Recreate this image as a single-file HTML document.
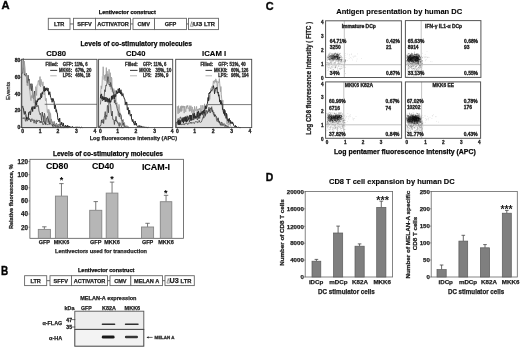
<!DOCTYPE html>
<html><head><meta charset="utf-8"><style>
html,body{margin:0;padding:0;background:#fff;width:520px;height:347px;overflow:hidden}
svg{display:block;filter:blur(0.35px)}
text{font-family:"Liberation Sans",sans-serif}
.d rect{width:.8px;height:.8px}
</style></head><body>
<svg width="520" height="347" viewBox="0 0 520 347" shape-rendering="auto">
<rect width="520" height="347" fill="#fff"/>
<defs><filter id="bl" x="-20%" y="-100%" width="140%" height="300%"><feGaussianBlur stdDeviation="0.6"/></filter><filter id="bl2" x="-20%" y="-100%" width="140%" height="300%"><feGaussianBlur stdDeviation="0.8"/></filter><filter id="bl3" x="-50%" y="-100%" width="200%" height="300%"><feGaussianBlur stdDeviation="1.2"/></filter></defs>
<text x="1.60" y="9.30" font-size="11.5" font-weight="bold" textLength="8.10" lengthAdjust="spacingAndGlyphs" stroke="#111" stroke-width="0.4">A</text>
<text x="0.90" y="274.60" font-size="12" font-weight="bold" textLength="7.20" lengthAdjust="spacingAndGlyphs" stroke="#111" stroke-width="0.4">B</text>
<text x="265.80" y="9.50" font-size="11" font-weight="bold" textLength="7.90" lengthAdjust="spacingAndGlyphs" stroke="#111" stroke-width="0.4">C</text>
<text x="265.80" y="180.90" font-size="11.3" font-weight="bold" textLength="7.50" lengthAdjust="spacingAndGlyphs" stroke="#111" stroke-width="0.4">D</text>
<text x="98.80" y="13.60" font-size="5.6" font-weight="bold" textLength="57.00" lengthAdjust="spacingAndGlyphs" stroke="#111" stroke-width="0.25">Lentivector construct</text>
<rect x="48.30" y="18.30" width="21.70" height="11.30" fill="#fff" stroke="#666" stroke-width="0.9"/>
<rect x="73.50" y="18.30" width="22.00" height="11.30" fill="#fff" stroke="#666" stroke-width="0.9"/>
<rect x="95.50" y="18.30" width="35.00" height="11.30" fill="#fff" stroke="#666" stroke-width="0.9"/>
<rect x="133.00" y="18.30" width="21.50" height="11.30" fill="#fff" stroke="#666" stroke-width="0.9"/>
<rect x="154.50" y="18.30" width="32.00" height="11.30" fill="#fff" stroke="#666" stroke-width="0.9"/>
<rect x="188.50" y="18.30" width="30.00" height="11.30" fill="#fff" stroke="#666" stroke-width="0.9"/>
<line x1="70.00" y1="23.95" x2="73.50" y2="23.95" stroke="#555" stroke-width="0.9"/>
<line x1="130.50" y1="23.95" x2="133.00" y2="23.95" stroke="#555" stroke-width="0.9"/>
<line x1="186.50" y1="23.95" x2="188.50" y2="23.95" stroke="#555" stroke-width="0.9"/>
<text x="59.15" y="26.10" font-size="5.6" font-weight="bold" text-anchor="middle" fill="#222" stroke="#222" stroke-width="0.25">LTR</text>
<text x="84.50" y="26.10" font-size="5.6" font-weight="bold" text-anchor="middle" fill="#222" stroke="#222" stroke-width="0.25">SFFV</text>
<text x="113.00" y="26.10" font-size="5.6" font-weight="bold" text-anchor="middle" fill="#222" stroke="#222" stroke-width="0.25">ACTIVATOR</text>
<text x="143.75" y="26.10" font-size="5.6" font-weight="bold" text-anchor="middle" fill="#222" stroke="#222" stroke-width="0.25">CMV</text>
<text x="170.50" y="26.10" font-size="5.6" font-weight="bold" text-anchor="middle" fill="#222" stroke="#222" stroke-width="0.25">GFP</text>
<path d="M190.40,26.30 L191.75,21.70 L193.10,26.30 Z" fill="none" stroke="#444" stroke-width="0.5"/>
<text x="193.00" y="26.30" font-size="5.9" font-weight="bold" textLength="9.20" lengthAdjust="spacingAndGlyphs" fill="#222" stroke="#222" stroke-width="0.25">U3</text>
<text x="204.10" y="26.10" font-size="5.6" font-weight="bold" textLength="10.80" lengthAdjust="spacingAndGlyphs" fill="#222" stroke="#222" stroke-width="0.25">LTR</text>
<text x="80.50" y="46.40" font-size="6.7" font-weight="bold" textLength="111.50" lengthAdjust="spacingAndGlyphs" stroke="#111" stroke-width="0.25">Levels of co-stimulatory molecules</text>
<text x="46.30" y="55.70" font-size="7.5" font-weight="bold" textLength="19.70" lengthAdjust="spacingAndGlyphs" stroke="#111" stroke-width="0.12">CD80</text>
<text x="126.00" y="55.70" font-size="7.5" font-weight="bold" textLength="19.40" lengthAdjust="spacingAndGlyphs" stroke="#111" stroke-width="0.12">CD40</text>
<text x="202.10" y="55.70" font-size="7.5" font-weight="bold" textLength="24.10" lengthAdjust="spacingAndGlyphs" stroke="#111" stroke-width="0.12">ICAM I</text>
<path d="M22.70,62.77 L23.10,59.19 L23.50,67.46 L23.89,68.22 L24.29,61.10 L24.69,65.05 L25.09,68.15 L25.48,75.22 L25.88,73.44 L26.28,75.64 L26.68,77.86 L27.07,85.38 L27.47,83.57 L27.87,85.92 L28.27,83.12 L28.66,80.70 L29.06,82.54 L29.46,89.21 L29.86,91.77 L30.26,95.37 L30.65,99.72 L31.05,100.73 L31.45,95.47 L31.85,98.05 L32.24,97.84 L32.64,91.59 L33.04,97.12 L33.44,97.26 L33.83,101.16 L34.23,103.15 L34.63,98.24 L35.03,99.91 L35.42,94.04 L35.82,86.62 L36.22,90.11 L36.62,95.52 L37.02,84.74 L37.41,84.81 L37.81,84.42 L38.21,80.88 L38.61,81.58 L39.00,80.06 L39.40,85.54 L39.80,76.76 L40.20,76.65 L40.59,87.02 L40.99,79.30 L41.39,80.56 L41.79,84.70 L42.18,84.52 L42.58,85.80 L42.98,81.81 L43.38,89.34 L43.78,86.75 L44.17,95.00 L44.57,89.92 L44.97,91.91 L45.37,100.01 L45.76,100.79 L46.16,98.27 L46.56,102.57 L46.96,107.35 L47.35,112.50 L47.75,112.72 L48.15,109.29 L48.55,118.05 L48.94,109.64 L49.34,119.34 L49.74,111.81 L50.14,121.00 L50.54,113.41 L50.93,117.89 L51.33,121.71 L51.73,122.47 L52.13,121.45 L52.52,122.55 L52.92,125.47 L53.32,126.56 L53.72,124.42 L54.11,121.94 L54.51,124.51 L54.91,127.60 L55.31,124.47 L55.70,125.18 L56.10,124.74 L56.50,127.60 L56.90,125.92 L57.30,127.60 L57.69,126.69 L58.09,127.60 L58.49,127.60 L58.49,127.60 L21.80,127.60 L21.80,62.77 Z" fill="#ebebeb" stroke="none"/>
<path d="M22.70,73.18 L23.24,58.52 L23.78,62.10 L24.33,75.12 L24.87,73.97 L25.41,76.19 L25.95,74.40 L26.50,73.37 L27.04,82.11 L27.58,83.46 L28.12,75.15 L28.66,81.35 L29.21,78.95 L29.75,89.34 L30.29,85.53 L30.83,83.64 L31.38,90.78 L31.92,83.72 L32.46,85.65 L33.00,97.38 L33.55,98.95 L34.09,94.40 L34.63,90.99 L35.17,98.80 L35.71,101.99 L36.26,100.98 L36.80,107.06 L37.34,106.26 L37.88,105.19 L38.43,106.16 L38.97,110.99 L39.51,112.76 L40.05,114.64 L40.59,113.33 L41.14,116.37 L41.68,120.57 L42.22,112.03 L42.76,116.27 L43.31,115.95 L43.85,122.01 L44.39,113.24 L44.93,115.49 L45.47,124.52 L46.02,122.39 L46.56,118.18 L47.10,118.66 L47.64,116.37 L48.19,122.67 L48.73,118.31 L49.27,120.30 L49.81,124.36 L50.35,121.58 L50.90,118.88 L51.44,119.51 L51.98,122.94 L52.52,122.41 L53.07,127.37 L53.61,125.71 L54.15,121.51 L54.69,124.67 L55.24,126.55 L55.78,124.09 L56.32,123.29 L56.86,123.71 L57.40,125.68 L57.95,125.46 L58.49,125.26 L59.03,124.10 L59.57,125.50 L60.12,126.21 L60.66,125.91 L61.20,127.60 L61.74,127.60 L62.28,125.56 L62.83,124.82 L63.37,126.25 L63.91,126.97 L64.45,127.60 L65.00,126.87 L65.54,125.85 L66.08,126.46 L66.62,127.05 L67.16,126.54 L67.71,127.60 L68.25,127.35 L68.79,126.82 L69.33,127.45 L69.33,127.60 L21.80,127.60 L21.80,73.18 Z" fill="#dfdfdf" stroke="#3a3a3a" stroke-width="0.75"/>
<path d="M22.70,62.77 L23.10,59.19 L23.50,67.46 L23.89,68.22 L24.29,61.10 L24.69,65.05 L25.09,68.15 L25.48,75.22 L25.88,73.44 L26.28,75.64 L26.68,77.86 L27.07,85.38 L27.47,83.57 L27.87,85.92 L28.27,83.12 L28.66,80.70 L29.06,82.54 L29.46,89.21 L29.86,91.77 L30.26,95.37 L30.65,99.72 L31.05,100.73 L31.45,95.47 L31.85,98.05 L32.24,97.84 L32.64,91.59 L33.04,97.12 L33.44,97.26 L33.83,101.16 L34.23,103.15 L34.63,98.24 L35.03,99.91 L35.42,94.04 L35.82,86.62 L36.22,90.11 L36.62,95.52 L37.02,84.74 L37.41,84.81 L37.81,84.42 L38.21,80.88 L38.61,81.58 L39.00,80.06 L39.40,85.54 L39.80,76.76 L40.20,76.65 L40.59,87.02 L40.99,79.30 L41.39,80.56 L41.79,84.70 L42.18,84.52 L42.58,85.80 L42.98,81.81 L43.38,89.34 L43.78,86.75 L44.17,95.00 L44.57,89.92 L44.97,91.91 L45.37,100.01 L45.76,100.79 L46.16,98.27 L46.56,102.57 L46.96,107.35 L47.35,112.50 L47.75,112.72 L48.15,109.29 L48.55,118.05 L48.94,109.64 L49.34,119.34 L49.74,111.81 L50.14,121.00 L50.54,113.41 L50.93,117.89 L51.33,121.71 L51.73,122.47 L52.13,121.45 L52.52,122.55 L52.92,125.47 L53.32,126.56 L53.72,124.42 L54.11,121.94 L54.51,124.51 L54.91,127.60 L55.31,124.47 L55.70,125.18 L56.10,124.74 L56.50,127.60 L56.90,125.92 L57.30,127.60 L57.69,126.69 L58.09,127.60 L58.49,127.60" fill="none" stroke="#9a9a9a" stroke-width="0.8"/>
<path d="M22.70,118.85 L23.24,117.56 L23.78,118.69 L24.33,117.77 L24.87,117.91 L25.41,120.98 L25.95,121.49 L26.50,117.56 L27.04,120.59 L27.58,120.84 L28.12,117.14 L28.66,119.91 L29.21,118.19 L29.75,120.13 L30.29,119.44 L30.83,122.02 L31.38,119.71 L31.92,118.66 L32.46,120.52 L33.00,119.55 L33.55,120.03 L34.09,123.21 L34.63,119.84 L35.17,120.81 L35.71,122.39 L36.26,123.88 L36.80,119.83 L37.34,121.90 L37.88,120.85 L38.43,120.25 L38.97,121.16 L39.51,120.38 L40.05,122.86 L40.59,121.23 L41.14,122.88 L41.68,120.98 L42.22,121.38 L42.76,124.61 L43.31,124.55 L43.85,124.34 L44.39,121.71 L44.93,123.76 L45.47,123.22 L46.02,124.45 L46.56,123.89 L47.10,124.40 L47.64,124.62 L48.19,124.03 L48.73,124.17 L49.27,123.41 L49.81,124.17 L50.35,123.67 L50.90,124.02 L51.44,123.85 L51.98,124.77 L52.52,126.05 L53.07,124.65 L53.61,124.60 L54.15,124.88 L54.69,125.67 L55.24,125.55 L55.78,126.53 L56.32,125.65 L56.86,126.19 L57.40,126.72 L57.95,127.11 L58.49,126.25 L59.03,126.24 L59.57,127.30 L60.12,126.66 L60.66,127.12 L61.20,127.42 L61.74,127.37 L62.28,127.10 L62.83,127.13 L63.37,127.60 L63.91,127.48" fill="none" stroke="#3a3a3a" stroke-width="0.7"/>
<path d="M22.70,105.89 L23.10,108.62 L23.50,108.50 L23.89,111.97 L24.29,114.40 L24.69,113.67 L25.09,111.31 L25.48,113.20 L25.88,114.55 L26.28,119.30 L26.68,116.95 L27.07,118.33 L27.47,118.66 L27.87,118.73 L28.27,117.64 L28.66,112.49 L29.06,112.75 L29.46,112.18 L29.86,111.50 L30.26,114.86 L30.65,113.36 L31.05,110.51 L31.45,109.09 L31.85,107.55 L32.24,106.66 L32.64,111.50 L33.04,107.56 L33.44,106.65 L33.83,107.30 L34.23,109.04 L34.63,106.57 L35.03,108.62 L35.42,102.42 L35.82,102.36 L36.22,103.96 L36.62,105.10 L37.02,100.46 L37.41,101.94 L37.81,99.09 L38.21,98.54 L38.61,100.04 L39.00,99.90 L39.40,97.88 L39.80,98.23 L40.20,99.26 L40.59,97.54 L40.99,93.40 L41.39,97.82 L41.79,97.06 L42.18,92.43 L42.58,93.94 L42.98,91.41 L43.38,91.02 L43.78,91.06 L44.17,86.33 L44.57,91.49 L44.97,89.80 L45.37,90.98 L45.76,87.87 L46.16,90.04 L46.56,89.92 L46.96,87.77 L47.35,91.11 L47.75,90.00 L48.15,88.21 L48.55,94.21 L48.94,95.09 L49.34,94.58 L49.74,91.71 L50.14,93.74 L50.54,97.30 L50.93,97.70 L51.33,99.72 L51.73,98.66 L52.13,102.28 L52.52,98.72 L52.92,98.22 L53.32,98.89 L53.72,101.57 L54.11,101.26 L54.51,108.77 L54.91,108.18 L55.31,105.11 L55.70,107.87 L56.10,111.80 L56.50,109.70 L56.90,113.12 L57.30,113.05 L57.69,117.82 L58.09,119.76 L58.49,119.11 L58.89,121.97 L59.28,121.12 L59.68,118.02 L60.08,122.98 L60.48,125.24 L60.87,125.24 L61.27,124.81 L61.67,122.12 L62.07,124.47 L62.46,125.09 L62.86,126.00 L63.26,122.94 L63.66,125.15 L64.06,126.03 L64.45,126.62 L64.85,126.72 L65.25,126.47 L65.65,125.23 L66.04,126.66 L66.44,126.99 L66.84,126.03 L67.24,126.65 L67.63,125.19 L68.03,127.06 L68.43,126.37 L68.83,126.05 L69.23,126.78 L69.62,126.00 L70.02,126.82 L70.42,127.19 L70.82,126.98 L71.21,127.53 L71.61,127.02 L72.01,127.28 L72.41,126.48 L72.80,126.60 L73.20,127.05 L73.60,127.60 L74.00,127.40 L74.39,127.43 L74.79,127.50 L75.19,127.49 L75.59,126.86 L75.99,127.60 L76.38,127.60 L76.78,126.94 L77.18,127.30 L77.58,126.94 L77.97,127.48 L78.37,127.07 L78.77,127.31 L79.17,127.21 L79.56,127.28 L79.96,127.49 L80.36,127.60 L80.76,127.60 L81.15,127.27 L81.55,127.28 L81.95,127.29 L82.35,127.60" fill="none" stroke="#2a2a2a" stroke-width="1.0" stroke-linejoin="bevel"/>
<line x1="44.70" y1="104.30" x2="97.00" y2="104.30" stroke="#444" stroke-width="0.7"/>
<rect x="21.30" y="59.30" width="75.70" height="68.30" fill="none" stroke="#444" stroke-width="0.9"/>
<text x="45.60" y="66.20" font-size="4.5" font-weight="bold" textLength="12.40" lengthAdjust="spacingAndGlyphs" fill="#2a2a2a" stroke="#2a2a2a" stroke-width="0.30">Filled:</text>
<text x="62.80" y="66.20" font-size="4.5" font-weight="bold" textLength="10.30" lengthAdjust="spacingAndGlyphs" fill="#2a2a2a" stroke="#2a2a2a" stroke-width="0.30">GFP:</text>
<text x="74.60" y="66.20" font-size="4.5" font-weight="bold" textLength="13.00" lengthAdjust="spacingAndGlyphs" fill="#2a2a2a" stroke="#2a2a2a" stroke-width="0.30">11%, 6</text>
<line x1="50.20" y1="70.40" x2="57.20" y2="70.40" stroke="#222" stroke-width="0.9"/>
<text x="59.00" y="71.60" font-size="4.5" font-weight="bold" textLength="13.00" lengthAdjust="spacingAndGlyphs" fill="#2a2a2a" stroke="#2a2a2a" stroke-width="0.30">MKK6:</text>
<text x="75.20" y="71.60" font-size="4.5" font-weight="bold" textLength="16.20" lengthAdjust="spacingAndGlyphs" fill="#2a2a2a" stroke="#2a2a2a" stroke-width="0.30">67%, 20</text>
<line x1="50.20" y1="75.80" x2="56.70" y2="75.80" stroke="#aaa" stroke-width="0.9"/>
<text x="62.80" y="77.00" font-size="4.5" font-weight="bold" textLength="9.20" lengthAdjust="spacingAndGlyphs" fill="#2a2a2a" stroke="#2a2a2a" stroke-width="0.30">LPS:</text>
<text x="75.20" y="77.00" font-size="4.5" font-weight="bold" textLength="15.10" lengthAdjust="spacingAndGlyphs" fill="#2a2a2a" stroke="#2a2a2a" stroke-width="0.30">46%, 18</text>
<text x="22.70" y="132.60" font-size="5" font-weight="bold" text-anchor="middle" fill="#222" stroke="#222" stroke-width="0.30">0</text>
<line x1="22.70" y1="127.60" x2="22.70" y2="128.80" stroke="#444" stroke-width="0.6"/>
<text x="40.20" y="132.60" font-size="5" font-weight="bold" text-anchor="middle" fill="#222" stroke="#222" stroke-width="0.30">1</text>
<line x1="40.20" y1="127.60" x2="40.20" y2="128.80" stroke="#444" stroke-width="0.6"/>
<text x="58.00" y="132.60" font-size="5" font-weight="bold" text-anchor="middle" fill="#222" stroke="#222" stroke-width="0.30">2</text>
<line x1="58.00" y1="127.60" x2="58.00" y2="128.80" stroke="#444" stroke-width="0.6"/>
<text x="76.40" y="132.60" font-size="5" font-weight="bold" text-anchor="middle" fill="#222" stroke="#222" stroke-width="0.30">3</text>
<line x1="76.40" y1="127.60" x2="76.40" y2="128.80" stroke="#444" stroke-width="0.6"/>
<text x="95.00" y="132.60" font-size="5" font-weight="bold" text-anchor="middle" fill="#222" stroke="#222" stroke-width="0.30">4</text>
<line x1="95.00" y1="127.60" x2="95.00" y2="128.80" stroke="#444" stroke-width="0.6"/>
<path d="M100.40,98.63 L100.79,90.88 L101.19,85.77 L101.58,88.69 L101.98,85.70 L102.37,76.48 L102.77,75.79 L103.16,66.75 L103.56,73.36 L103.95,79.50 L104.35,78.74 L104.74,75.16 L105.14,80.92 L105.53,74.44 L105.93,77.74 L106.32,67.62 L106.72,81.52 L107.11,71.15 L107.51,83.50 L107.90,73.85 L108.30,78.39 L108.69,76.63 L109.09,69.29 L109.48,81.79 L109.88,83.37 L110.27,72.69 L110.67,81.03 L111.06,89.56 L111.46,77.17 L111.85,78.52 L112.25,91.85 L112.64,87.90 L113.04,93.12 L113.43,91.91 L113.83,88.73 L114.22,97.12 L114.62,90.54 L115.01,102.00 L115.41,102.03 L115.80,94.15 L116.20,102.26 L116.59,103.80 L116.99,102.60 L117.38,105.87 L117.78,108.74 L118.17,115.56 L118.57,106.54 L118.96,104.37 L119.36,105.71 L119.75,111.91 L120.15,118.03 L120.54,119.03 L120.93,115.20 L121.33,116.56 L121.72,126.12 L122.12,125.17 L122.51,123.78 L122.91,122.25 L123.30,119.35 L123.70,123.63 L124.09,127.60 L124.49,122.38 L124.88,125.72 L125.28,125.37 L125.67,127.32 L126.07,126.35 L126.46,126.74 L126.86,125.37 L127.25,127.60 L127.65,126.68 L128.04,127.60 L128.44,126.47 L128.83,127.60 L129.23,127.60 L129.62,127.60 L130.02,127.12 L130.41,127.60 L130.81,127.60 L130.81,127.60 L99.10,127.60 L99.10,98.63 Z" fill="#ebebeb" stroke="none"/>
<path d="M100.40,126.15 L100.94,124.42 L101.48,119.89 L102.02,123.03 L102.55,121.44 L103.09,119.28 L103.63,123.59 L104.17,118.10 L104.71,115.30 L105.25,111.63 L105.79,119.53 L106.32,115.24 L106.86,116.61 L107.40,105.49 L107.94,105.55 L108.48,112.78 L109.02,98.65 L109.55,98.21 L110.09,103.39 L110.63,104.91 L111.17,112.07 L111.71,115.99 L112.25,111.12 L112.79,119.42 L113.32,119.34 L113.86,120.16 L114.40,124.51 L114.94,119.95 L115.48,121.02 L116.02,116.38 L116.56,121.48 L117.09,120.86 L117.63,123.24 L118.17,122.60 L118.71,124.86 L119.25,126.44 L119.79,122.58 L120.32,123.47 L120.86,124.96 L121.40,126.10 L121.94,127.58 L122.48,127.60 L123.02,127.60 L123.56,127.60 L123.56,127.60 L99.10,127.60 L99.10,126.15 Z" fill="#dfdfdf" stroke="#3a3a3a" stroke-width="0.75"/>
<path d="M100.40,98.63 L100.79,90.88 L101.19,85.77 L101.58,88.69 L101.98,85.70 L102.37,76.48 L102.77,75.79 L103.16,66.75 L103.56,73.36 L103.95,79.50 L104.35,78.74 L104.74,75.16 L105.14,80.92 L105.53,74.44 L105.93,77.74 L106.32,67.62 L106.72,81.52 L107.11,71.15 L107.51,83.50 L107.90,73.85 L108.30,78.39 L108.69,76.63 L109.09,69.29 L109.48,81.79 L109.88,83.37 L110.27,72.69 L110.67,81.03 L111.06,89.56 L111.46,77.17 L111.85,78.52 L112.25,91.85 L112.64,87.90 L113.04,93.12 L113.43,91.91 L113.83,88.73 L114.22,97.12 L114.62,90.54 L115.01,102.00 L115.41,102.03 L115.80,94.15 L116.20,102.26 L116.59,103.80 L116.99,102.60 L117.38,105.87 L117.78,108.74 L118.17,115.56 L118.57,106.54 L118.96,104.37 L119.36,105.71 L119.75,111.91 L120.15,118.03 L120.54,119.03 L120.93,115.20 L121.33,116.56 L121.72,126.12 L122.12,125.17 L122.51,123.78 L122.91,122.25 L123.30,119.35 L123.70,123.63 L124.09,127.60 L124.49,122.38 L124.88,125.72 L125.28,125.37 L125.67,127.32 L126.07,126.35 L126.46,126.74 L126.86,125.37 L127.25,127.60 L127.65,126.68 L128.04,127.60 L128.44,126.47 L128.83,127.60 L129.23,127.60 L129.62,127.60 L130.02,127.12 L130.41,127.60 L130.81,127.60" fill="none" stroke="#9a9a9a" stroke-width="0.8"/>
<path d="M100.40,104.46 L100.94,99.88 L101.48,98.88 L102.02,96.49 L102.55,101.05 L103.09,99.66 L103.63,99.36 L104.17,97.03 L104.71,89.74 L105.25,91.78 L105.79,85.40 L106.32,86.05 L106.86,83.36 L107.40,80.20 L107.94,76.62 L108.48,79.30 L109.02,85.04 L109.55,83.94 L110.09,86.78 L110.63,82.46 L111.17,84.74 L111.71,86.79 L112.25,88.63 L112.79,91.33 L113.32,91.96 L113.86,95.78 L114.40,102.80 L114.94,99.92 L115.48,104.23 L116.02,103.23 L116.56,106.09 L117.09,108.48 L117.63,110.29 L118.17,110.99 L118.71,113.56 L119.25,116.97 L119.79,112.84 L120.32,114.61 L120.86,114.30 L121.40,118.03 L121.94,120.44 L122.48,119.92 L123.02,125.35 L123.56,122.95 L124.09,125.00 L124.63,126.62 L125.17,127.01 L125.71,126.76 L126.25,127.34 L126.79,127.12 L127.33,127.04 L127.86,127.43 L128.40,127.60 L128.94,127.57" fill="none" stroke="#3a3a3a" stroke-width="0.7"/>
<path d="M100.40,98.37 L100.79,94.74 L101.19,95.45 L101.58,93.88 L101.98,98.74 L102.37,99.21 L102.77,96.37 L103.16,97.22 L103.56,99.82 L103.95,97.48 L104.35,99.63 L104.74,97.29 L105.14,101.93 L105.53,101.44 L105.93,97.11 L106.32,100.87 L106.72,101.53 L107.11,97.88 L107.51,99.04 L107.90,102.27 L108.30,99.58 L108.69,98.82 L109.09,102.17 L109.48,98.87 L109.88,102.29 L110.27,100.73 L110.67,102.32 L111.06,101.38 L111.46,96.07 L111.85,99.80 L112.25,95.57 L112.64,98.78 L113.04,97.15 L113.43,94.88 L113.83,95.64 L114.22,99.01 L114.62,95.31 L115.01,94.36 L115.41,96.66 L115.80,96.50 L116.20,90.53 L116.59,92.25 L116.99,94.02 L117.38,91.92 L117.78,93.12 L118.17,88.86 L118.57,90.58 L118.96,93.05 L119.36,88.04 L119.75,92.72 L120.15,91.61 L120.54,93.92 L120.93,89.75 L121.33,94.57 L121.72,92.47 L122.12,96.11 L122.51,94.25 L122.91,93.61 L123.30,95.36 L123.70,96.93 L124.09,97.84 L124.49,99.27 L124.88,99.31 L125.28,103.78 L125.67,102.34 L126.07,105.05 L126.46,101.93 L126.86,102.54 L127.25,109.51 L127.65,110.10 L128.04,107.45 L128.44,109.44 L128.83,114.24 L129.23,110.66 L129.62,110.08 L130.02,114.60 L130.41,116.13 L130.81,115.56 L131.20,114.00 L131.60,119.46 L131.99,120.12 L132.39,121.63 L132.78,119.29 L133.18,120.97 L133.57,123.01 L133.97,122.69 L134.36,125.15 L134.76,123.90 L135.15,120.96 L135.55,123.41 L135.94,125.13 L136.34,123.13 L136.73,125.43 L137.13,126.00 L137.52,126.80 L137.92,126.67 L138.31,126.66 L138.71,126.66 L139.10,125.37 L139.50,126.73 L139.89,126.83 L140.28,126.24 L140.68,125.80 L141.07,126.96 L141.47,126.30 L141.86,127.00 L142.26,126.81 L142.65,126.86 L143.05,126.55 L143.44,126.89 L143.84,127.20 L144.23,126.89 L144.63,127.40 L145.02,127.41 L145.42,126.90 L145.81,127.32 L146.21,127.15 L146.60,127.58 L147.00,127.12 L147.39,127.40 L147.79,127.60 L148.18,127.23 L148.58,127.60" fill="none" stroke="#2a2a2a" stroke-width="1.0" stroke-linejoin="bevel"/>
<line x1="124.30" y1="104.60" x2="172.70" y2="104.60" stroke="#444" stroke-width="0.7"/>
<rect x="98.60" y="59.30" width="74.10" height="68.30" fill="none" stroke="#444" stroke-width="0.9"/>
<text x="125.00" y="66.20" font-size="4.5" font-weight="bold" textLength="12.70" lengthAdjust="spacingAndGlyphs" fill="#2a2a2a" stroke="#2a2a2a" stroke-width="0.30">Filled:</text>
<text x="143.00" y="66.20" font-size="4.5" font-weight="bold" textLength="9.00" lengthAdjust="spacingAndGlyphs" fill="#2a2a2a" stroke="#2a2a2a" stroke-width="0.30">GFP:</text>
<text x="153.50" y="66.20" font-size="4.5" font-weight="bold" textLength="12.80" lengthAdjust="spacingAndGlyphs" fill="#2a2a2a" stroke="#2a2a2a" stroke-width="0.30">11%, 6</text>
<line x1="130.00" y1="70.40" x2="137.50" y2="70.40" stroke="#222" stroke-width="0.9"/>
<text x="139.20" y="71.60" font-size="4.5" font-weight="bold" textLength="12.20" lengthAdjust="spacingAndGlyphs" fill="#2a2a2a" stroke="#2a2a2a" stroke-width="0.30">MKK6:</text>
<text x="155.60" y="71.60" font-size="4.5" font-weight="bold" textLength="15.70" lengthAdjust="spacingAndGlyphs" fill="#2a2a2a" stroke="#2a2a2a" stroke-width="0.30">35%, 10</text>
<line x1="130.00" y1="75.80" x2="137.00" y2="75.80" stroke="#aaa" stroke-width="0.9"/>
<text x="143.00" y="77.00" font-size="4.5" font-weight="bold" textLength="8.40" lengthAdjust="spacingAndGlyphs" fill="#2a2a2a" stroke="#2a2a2a" stroke-width="0.30">LPS:</text>
<text x="155.10" y="77.00" font-size="4.5" font-weight="bold" textLength="13.30" lengthAdjust="spacingAndGlyphs" fill="#2a2a2a" stroke="#2a2a2a" stroke-width="0.30">25%, 9</text>
<text x="100.40" y="132.60" font-size="5" font-weight="bold" text-anchor="middle" fill="#222" stroke="#222" stroke-width="0.30">0</text>
<line x1="100.40" y1="127.60" x2="100.40" y2="128.80" stroke="#444" stroke-width="0.6"/>
<text x="117.60" y="132.60" font-size="5" font-weight="bold" text-anchor="middle" fill="#222" stroke="#222" stroke-width="0.30">1</text>
<line x1="117.60" y1="127.60" x2="117.60" y2="128.80" stroke="#444" stroke-width="0.6"/>
<text x="136.00" y="132.60" font-size="5" font-weight="bold" text-anchor="middle" fill="#222" stroke="#222" stroke-width="0.30">2</text>
<line x1="136.00" y1="127.60" x2="136.00" y2="128.80" stroke="#444" stroke-width="0.6"/>
<text x="154.60" y="132.60" font-size="5" font-weight="bold" text-anchor="middle" fill="#222" stroke="#222" stroke-width="0.30">3</text>
<line x1="154.60" y1="127.60" x2="154.60" y2="128.80" stroke="#444" stroke-width="0.6"/>
<text x="172.20" y="132.60" font-size="5" font-weight="bold" text-anchor="middle" fill="#222" stroke="#222" stroke-width="0.30">4</text>
<line x1="172.20" y1="127.60" x2="172.20" y2="128.80" stroke="#444" stroke-width="0.6"/>
<path d="M177.40,106.14 L177.80,112.97 L178.20,113.91 L178.60,105.69 L179.00,112.49 L179.40,112.98 L179.80,108.49 L180.20,111.02 L180.59,106.42 L180.99,111.90 L181.39,105.76 L181.79,111.09 L182.19,108.70 L182.59,105.88 L182.99,107.92 L183.39,105.88 L183.79,107.65 L184.19,113.15 L184.59,106.12 L184.99,108.53 L185.39,110.84 L185.79,111.81 L186.18,106.24 L186.58,108.46 L186.98,105.52 L187.38,106.93 L187.78,105.40 L188.18,108.75 L188.58,107.68 L188.98,108.44 L189.38,111.44 L189.78,105.62 L190.18,111.06 L190.58,107.17 L190.98,105.75 L191.38,108.33 L191.77,112.64 L192.17,106.95 L192.57,108.31 L192.97,112.39 L193.37,113.57 L193.77,109.55 L194.17,113.78 L194.57,106.33 L194.97,109.88 L195.37,109.82 L195.77,110.72 L196.17,108.56 L196.57,106.38 L196.97,111.44 L197.37,110.84 L197.76,109.04 L198.16,111.38 L198.56,108.84 L198.96,109.23 L199.36,110.10 L199.76,108.05 L200.16,109.22 L200.56,112.86 L200.96,105.20 L201.36,110.53 L201.76,109.84 L202.16,110.04 L202.56,105.57 L202.96,105.19 L203.35,108.42 L203.75,108.89 L204.15,110.98 L204.55,103.82 L204.95,109.43 L205.35,105.82 L205.75,107.02 L206.15,106.73 L206.55,105.85 L206.95,106.13 L207.35,106.32 L207.75,101.03 L208.15,97.74 L208.55,97.88 L208.94,100.51 L209.34,95.22 L209.74,99.37 L210.14,95.13 L210.54,90.40 L210.94,88.39 L211.34,91.03 L211.74,86.56 L212.14,88.33 L212.54,87.00 L212.94,85.39 L213.34,80.87 L213.74,81.87 L214.14,83.41 L214.53,80.54 L214.93,80.50 L215.33,82.19 L215.73,78.85 L216.13,79.66 L216.53,82.54 L216.93,80.84 L217.33,89.70 L217.73,84.19 L218.13,81.58 L218.53,82.57 L218.93,82.51 L219.33,78.52 L219.73,83.26 L220.13,87.23 L220.52,91.72 L220.92,86.54 L221.32,94.28 L221.72,98.83 L222.12,100.59 L222.52,102.85 L222.92,100.17 L223.32,108.14 L223.72,109.55 L224.12,113.26 L224.52,112.35 L224.92,116.16 L225.32,116.49 L225.72,114.69 L226.11,114.57 L226.51,116.59 L226.91,123.92 L227.31,121.74 L227.71,118.44 L228.11,125.67 L228.51,124.76 L228.91,123.41 L229.31,124.48 L229.71,123.04 L230.11,123.79 L230.51,125.35 L230.91,126.49 L231.31,126.85 L231.70,127.08 L232.10,127.60 L232.50,126.81 L232.90,127.60 L233.30,127.02 L233.30,127.60 L176.20,127.60 L176.20,106.14 Z" fill="#ebebeb" stroke="none"/>
<path d="M177.40,122.30 L177.94,118.61 L178.49,118.81 L179.03,119.69 L179.58,121.29 L180.12,117.25 L180.67,116.98 L181.21,118.79 L181.76,118.68 L182.30,120.31 L182.84,121.71 L183.39,119.32 L183.93,117.97 L184.48,121.52 L185.02,116.74 L185.57,120.59 L186.11,120.67 L186.66,122.03 L187.20,115.71 L187.75,117.53 L188.29,116.70 L188.83,118.27 L189.38,122.00 L189.92,119.86 L190.47,118.56 L191.01,120.95 L191.56,115.17 L192.10,118.92 L192.65,120.19 L193.19,115.57 L193.74,120.05 L194.28,114.58 L194.82,117.68 L195.37,116.93 L195.91,118.25 L196.46,117.22 L197.00,119.13 L197.55,120.05 L198.09,114.41 L198.64,118.56 L199.18,114.82 L199.72,118.45 L200.27,113.15 L200.81,113.45 L201.36,114.18 L201.90,113.93 L202.45,114.95 L202.99,113.75 L203.54,117.62 L204.08,114.84 L204.63,111.99 L205.17,115.68 L205.71,110.33 L206.26,110.07 L206.80,112.77 L207.35,112.57 L207.89,111.63 L208.44,111.71 L208.98,107.26 L209.53,110.99 L210.07,113.04 L210.61,112.24 L211.16,107.68 L211.70,106.74 L212.25,110.97 L212.79,111.90 L213.34,112.40 L213.88,111.99 L214.43,116.48 L214.97,114.84 L215.52,116.15 L216.06,116.66 L216.60,120.58 L217.15,121.61 L217.69,121.11 L218.24,117.80 L218.78,122.27 L219.33,121.18 L219.87,123.52 L220.42,124.97 L220.96,125.36 L221.50,121.95 L222.05,122.56 L222.59,124.65 L223.14,123.75 L223.68,124.15 L224.23,123.81 L224.77,124.08 L225.32,125.95 L225.86,124.93 L226.40,125.45 L226.95,126.37 L227.49,126.12 L228.04,126.92 L228.58,127.24 L229.13,127.53 L229.67,127.17 L229.67,127.60 L176.20,127.60 L176.20,122.30 Z" fill="#dfdfdf" stroke="#3a3a3a" stroke-width="0.75"/>
<path d="M177.40,106.14 L177.80,112.97 L178.20,113.91 L178.60,105.69 L179.00,112.49 L179.40,112.98 L179.80,108.49 L180.20,111.02 L180.59,106.42 L180.99,111.90 L181.39,105.76 L181.79,111.09 L182.19,108.70 L182.59,105.88 L182.99,107.92 L183.39,105.88 L183.79,107.65 L184.19,113.15 L184.59,106.12 L184.99,108.53 L185.39,110.84 L185.79,111.81 L186.18,106.24 L186.58,108.46 L186.98,105.52 L187.38,106.93 L187.78,105.40 L188.18,108.75 L188.58,107.68 L188.98,108.44 L189.38,111.44 L189.78,105.62 L190.18,111.06 L190.58,107.17 L190.98,105.75 L191.38,108.33 L191.77,112.64 L192.17,106.95 L192.57,108.31 L192.97,112.39 L193.37,113.57 L193.77,109.55 L194.17,113.78 L194.57,106.33 L194.97,109.88 L195.37,109.82 L195.77,110.72 L196.17,108.56 L196.57,106.38 L196.97,111.44 L197.37,110.84 L197.76,109.04 L198.16,111.38 L198.56,108.84 L198.96,109.23 L199.36,110.10 L199.76,108.05 L200.16,109.22 L200.56,112.86 L200.96,105.20 L201.36,110.53 L201.76,109.84 L202.16,110.04 L202.56,105.57 L202.96,105.19 L203.35,108.42 L203.75,108.89 L204.15,110.98 L204.55,103.82 L204.95,109.43 L205.35,105.82 L205.75,107.02 L206.15,106.73 L206.55,105.85 L206.95,106.13 L207.35,106.32 L207.75,101.03 L208.15,97.74 L208.55,97.88 L208.94,100.51 L209.34,95.22 L209.74,99.37 L210.14,95.13 L210.54,90.40 L210.94,88.39 L211.34,91.03 L211.74,86.56 L212.14,88.33 L212.54,87.00 L212.94,85.39 L213.34,80.87 L213.74,81.87 L214.14,83.41 L214.53,80.54 L214.93,80.50 L215.33,82.19 L215.73,78.85 L216.13,79.66 L216.53,82.54 L216.93,80.84 L217.33,89.70 L217.73,84.19 L218.13,81.58 L218.53,82.57 L218.93,82.51 L219.33,78.52 L219.73,83.26 L220.13,87.23 L220.52,91.72 L220.92,86.54 L221.32,94.28 L221.72,98.83 L222.12,100.59 L222.52,102.85 L222.92,100.17 L223.32,108.14 L223.72,109.55 L224.12,113.26 L224.52,112.35 L224.92,116.16 L225.32,116.49 L225.72,114.69 L226.11,114.57 L226.51,116.59 L226.91,123.92 L227.31,121.74 L227.71,118.44 L228.11,125.67 L228.51,124.76 L228.91,123.41 L229.31,124.48 L229.71,123.04 L230.11,123.79 L230.51,125.35 L230.91,126.49 L231.31,126.85 L231.70,127.08 L232.10,127.60 L232.50,126.81 L232.90,127.60 L233.30,127.02" fill="none" stroke="#9a9a9a" stroke-width="0.8"/>
<path d="M177.40,123.39 L177.94,123.30 L178.49,123.37 L179.03,125.00 L179.58,123.91 L180.12,124.23 L180.67,123.97 L181.21,124.78 L181.76,124.62 L182.30,124.04 L182.84,124.50 L183.39,123.95 L183.93,124.87 L184.48,124.71 L185.02,123.27 L185.57,123.89 L186.11,123.64 L186.66,123.09 L187.20,123.93 L187.75,124.60 L188.29,122.85 L188.83,123.28 L189.38,123.07 L189.92,123.12 L190.47,122.16 L191.01,123.54 L191.56,122.40 L192.10,123.29 L192.65,122.62 L193.19,122.25 L193.74,123.10 L194.28,123.65 L194.82,122.39 L195.37,121.53 L195.91,121.78 L196.46,122.10 L197.00,121.35 L197.55,122.73 L198.09,122.64 L198.64,122.03 L199.18,120.25 L199.72,122.20 L200.27,122.35 L200.81,122.28 L201.36,121.98 L201.90,120.50 L202.45,118.82 L202.99,117.30 L203.54,118.26 L204.08,117.44 L204.63,117.02 L205.17,116.23 L205.71,113.81 L206.26,113.74 L206.80,113.87 L207.35,113.54 L207.89,110.43 L208.44,110.03 L208.98,109.30 L209.53,110.97 L210.07,109.62 L210.61,108.06 L211.16,108.84 L211.70,108.55 L212.25,112.06 L212.79,110.25 L213.34,114.23 L213.88,113.94 L214.43,116.22 L214.97,114.53 L215.52,115.90 L216.06,115.90 L216.60,117.42 L217.15,117.89 L217.69,120.08 L218.24,119.31 L218.78,120.86 L219.33,122.87 L219.87,121.95 L220.42,123.92 L220.96,124.63 L221.50,125.14 L222.05,124.70 L222.59,125.47 L223.14,124.60 L223.68,124.88 L224.23,126.11 L224.77,126.46 L225.32,126.23 L225.86,126.80 L226.40,126.73 L226.95,126.67 L227.49,127.17 L228.04,127.18 L228.58,127.06 L229.13,127.41 L229.67,127.58" fill="none" stroke="#3a3a3a" stroke-width="0.7"/>
<path d="M177.40,122.37 L177.80,121.51 L178.20,124.70 L178.60,120.15 L179.00,124.38 L179.40,121.49 L179.80,124.74 L180.20,120.53 L180.59,124.14 L180.99,120.40 L181.39,120.05 L181.79,119.59 L182.19,121.59 L182.59,118.55 L182.99,117.56 L183.39,123.24 L183.79,120.38 L184.19,117.25 L184.59,118.55 L184.99,120.36 L185.39,121.13 L185.79,116.61 L186.18,122.27 L186.58,117.57 L186.98,116.85 L187.38,121.28 L187.78,119.98 L188.18,119.95 L188.58,118.20 L188.98,119.21 L189.38,115.50 L189.78,115.13 L190.18,119.04 L190.58,114.99 L190.98,120.37 L191.38,120.03 L191.77,116.06 L192.17,115.01 L192.57,114.72 L192.97,113.41 L193.37,114.14 L193.77,117.97 L194.17,114.62 L194.57,113.25 L194.97,118.67 L195.37,115.83 L195.77,117.95 L196.17,117.87 L196.57,115.46 L196.97,114.03 L197.37,111.84 L197.76,117.33 L198.16,114.66 L198.56,111.19 L198.96,112.59 L199.36,113.99 L199.76,115.77 L200.16,113.00 L200.56,115.32 L200.96,112.59 L201.36,112.39 L201.76,113.96 L202.16,111.09 L202.56,113.55 L202.96,112.95 L203.35,110.35 L203.75,113.67 L204.15,113.19 L204.55,109.66 L204.95,109.67 L205.35,105.80 L205.75,109.07 L206.15,107.33 L206.55,108.34 L206.95,104.17 L207.35,103.56 L207.75,101.10 L208.15,97.45 L208.55,100.79 L208.94,93.19 L209.34,93.92 L209.74,92.12 L210.14,92.81 L210.54,91.42 L210.94,91.41 L211.34,90.72 L211.74,91.16 L212.14,89.87 L212.54,89.19 L212.94,88.71 L213.34,85.61 L213.74,87.08 L214.14,88.88 L214.53,93.80 L214.93,91.84 L215.33,89.40 L215.73,87.85 L216.13,89.12 L216.53,87.64 L216.93,87.10 L217.33,92.67 L217.73,93.20 L218.13,91.95 L218.53,96.16 L218.93,94.69 L219.33,98.10 L219.73,101.86 L220.13,100.12 L220.52,103.99 L220.92,100.42 L221.32,101.30 L221.72,104.71 L222.12,103.52 L222.52,109.41 L222.92,109.01 L223.32,111.74 L223.72,113.52 L224.12,109.23 L224.52,115.34 L224.92,110.34 L225.32,113.61 L225.72,113.35 L226.11,118.43 L226.51,113.38 L226.91,114.85 L227.31,120.19 L227.71,120.23 L228.11,121.08 L228.51,119.21 L228.91,122.63 L229.31,118.37 L229.71,120.96 L230.11,120.02 L230.51,123.43 L230.91,121.40 L231.31,123.03 L231.70,122.49 L232.10,124.05 L232.50,121.92 L232.90,123.03 L233.30,123.58 L233.70,125.62 L234.10,126.35 L234.50,126.69 L234.90,126.88 L235.30,125.32 L235.70,126.84 L236.10,126.02 L236.50,127.20 L236.90,126.84 L237.29,127.45 L237.69,127.43 L238.09,127.03 L238.49,127.22 L238.89,126.96 L239.29,127.60 L239.69,127.60 L240.09,127.60 L240.49,127.60 L240.89,127.27" fill="none" stroke="#2a2a2a" stroke-width="1.0" stroke-linejoin="bevel"/>
<line x1="208.00" y1="104.60" x2="251.70" y2="104.60" stroke="#444" stroke-width="0.7"/>
<rect x="175.70" y="59.30" width="76.00" height="68.30" fill="none" stroke="#444" stroke-width="0.9"/>
<text x="200.50" y="66.20" font-size="4.5" font-weight="bold" textLength="12.40" lengthAdjust="spacingAndGlyphs" fill="#2a2a2a" stroke="#2a2a2a" stroke-width="0.30">Filled:</text>
<text x="218.30" y="66.20" font-size="4.5" font-weight="bold" textLength="9.70" lengthAdjust="spacingAndGlyphs" fill="#2a2a2a" stroke="#2a2a2a" stroke-width="0.30">GFP:</text>
<text x="229.60" y="66.20" font-size="4.5" font-weight="bold" textLength="16.20" lengthAdjust="spacingAndGlyphs" fill="#2a2a2a" stroke="#2a2a2a" stroke-width="0.30">51%, 40</text>
<line x1="205.50" y1="70.40" x2="212.10" y2="70.40" stroke="#222" stroke-width="0.9"/>
<text x="214.00" y="71.60" font-size="4.5" font-weight="bold" textLength="13.50" lengthAdjust="spacingAndGlyphs" fill="#2a2a2a" stroke="#2a2a2a" stroke-width="0.30">MKK6:</text>
<text x="230.90" y="71.60" font-size="4.5" font-weight="bold" textLength="17.50" lengthAdjust="spacingAndGlyphs" fill="#2a2a2a" stroke="#2a2a2a" stroke-width="0.30">60%, 126</text>
<line x1="205.50" y1="75.80" x2="212.00" y2="75.80" stroke="#aaa" stroke-width="0.9"/>
<text x="218.30" y="77.00" font-size="4.5" font-weight="bold" textLength="9.40" lengthAdjust="spacingAndGlyphs" fill="#2a2a2a" stroke="#2a2a2a" stroke-width="0.30">LPS:</text>
<text x="230.90" y="77.00" font-size="4.5" font-weight="bold" textLength="17.80" lengthAdjust="spacingAndGlyphs" fill="#2a2a2a" stroke="#2a2a2a" stroke-width="0.30">96%, 194</text>
<text x="177.40" y="132.60" font-size="5" font-weight="bold" text-anchor="middle" fill="#222" stroke="#222" stroke-width="0.30">0</text>
<line x1="177.40" y1="127.60" x2="177.40" y2="128.80" stroke="#444" stroke-width="0.6"/>
<text x="194.60" y="132.60" font-size="5" font-weight="bold" text-anchor="middle" fill="#222" stroke="#222" stroke-width="0.30">1</text>
<line x1="194.60" y1="127.60" x2="194.60" y2="128.80" stroke="#444" stroke-width="0.6"/>
<text x="213.20" y="132.60" font-size="5" font-weight="bold" text-anchor="middle" fill="#222" stroke="#222" stroke-width="0.30">2</text>
<line x1="213.20" y1="127.60" x2="213.20" y2="128.80" stroke="#444" stroke-width="0.6"/>
<text x="231.60" y="132.60" font-size="5" font-weight="bold" text-anchor="middle" fill="#222" stroke="#222" stroke-width="0.30">3</text>
<line x1="231.60" y1="127.60" x2="231.60" y2="128.80" stroke="#444" stroke-width="0.6"/>
<text x="250.00" y="132.60" font-size="5" font-weight="bold" text-anchor="middle" fill="#222" stroke="#222" stroke-width="0.30">4</text>
<line x1="250.00" y1="127.60" x2="250.00" y2="128.80" stroke="#444" stroke-width="0.6"/>
<text x="20.20" y="62.30" font-size="5" font-weight="bold" text-anchor="end" fill="#222" stroke="#222" stroke-width="0.30">80</text>
<line x1="20.20" y1="60.50" x2="21.30" y2="60.50" stroke="#444" stroke-width="0.6"/>
<text x="20.20" y="79.20" font-size="5" font-weight="bold" text-anchor="end" fill="#222" stroke="#222" stroke-width="0.30">60</text>
<line x1="20.20" y1="77.40" x2="21.30" y2="77.40" stroke="#444" stroke-width="0.6"/>
<text x="20.20" y="95.60" font-size="5" font-weight="bold" text-anchor="end" fill="#222" stroke="#222" stroke-width="0.30">40</text>
<line x1="20.20" y1="93.80" x2="21.30" y2="93.80" stroke="#444" stroke-width="0.6"/>
<text x="20.20" y="112.40" font-size="5" font-weight="bold" text-anchor="end" fill="#222" stroke="#222" stroke-width="0.30">20</text>
<line x1="20.20" y1="110.60" x2="21.30" y2="110.60" stroke="#444" stroke-width="0.6"/>
<text x="20.20" y="129.00" font-size="5" font-weight="bold" text-anchor="end" fill="#222" stroke="#222" stroke-width="0.30">0</text>
<line x1="20.20" y1="127.20" x2="21.30" y2="127.20" stroke="#444" stroke-width="0.6"/>
<text x="9.90" y="100.00" font-size="5.6" textLength="18.30" lengthAdjust="spacingAndGlyphs" fill="#333" transform="rotate(-90 9.90 100.00)" stroke="#333" stroke-width="0.25">Events</text>
<text x="89.70" y="140.20" font-size="5.55" font-weight="bold" textLength="87.30" lengthAdjust="spacingAndGlyphs" fill="#222" stroke="#222" stroke-width="0.25">Log fluorescence intensity (APC)</text>
<text x="52.90" y="156.40" font-size="6.6" font-weight="bold" textLength="110.10" lengthAdjust="spacingAndGlyphs" stroke="#111" stroke-width="0.25">Levels of co-stimulatory molecules</text>
<rect x="29.90" y="159.30" width="153.60" height="79.00" fill="none" stroke="#555" stroke-width="0.8"/>
<text x="27.90" y="163.80" font-size="6.3" font-weight="bold" text-anchor="end" fill="#222" stroke="#222" stroke-width="0.25">120</text>
<line x1="28.40" y1="161.50" x2="29.90" y2="161.50" stroke="#555" stroke-width="0.6"/>
<text x="27.90" y="177.00" font-size="6.3" font-weight="bold" text-anchor="end" fill="#222" stroke="#222" stroke-width="0.25">100</text>
<line x1="28.40" y1="174.70" x2="29.90" y2="174.70" stroke="#555" stroke-width="0.6"/>
<text x="27.90" y="190.10" font-size="6.3" font-weight="bold" text-anchor="end" fill="#222" stroke="#222" stroke-width="0.25">80</text>
<line x1="28.40" y1="187.80" x2="29.90" y2="187.80" stroke="#555" stroke-width="0.6"/>
<text x="27.90" y="203.20" font-size="6.3" font-weight="bold" text-anchor="end" fill="#222" stroke="#222" stroke-width="0.25">60</text>
<line x1="28.40" y1="200.90" x2="29.90" y2="200.90" stroke="#555" stroke-width="0.6"/>
<text x="27.90" y="216.30" font-size="6.3" font-weight="bold" text-anchor="end" fill="#222" stroke="#222" stroke-width="0.25">40</text>
<line x1="28.40" y1="214.00" x2="29.90" y2="214.00" stroke="#555" stroke-width="0.6"/>
<text x="27.90" y="229.50" font-size="6.3" font-weight="bold" text-anchor="end" fill="#222" stroke="#222" stroke-width="0.25">20</text>
<line x1="28.40" y1="227.20" x2="29.90" y2="227.20" stroke="#555" stroke-width="0.6"/>
<text x="46.00" y="169.40" font-size="8.8" font-weight="bold" textLength="22.30" lengthAdjust="spacingAndGlyphs" stroke="#111" stroke-width="0.12">CD80</text>
<text x="91.90" y="169.40" font-size="8.8" font-weight="bold" textLength="22.30" lengthAdjust="spacingAndGlyphs" stroke="#111" stroke-width="0.12">CD40</text>
<text x="141.90" y="169.80" font-size="8.8" font-weight="bold" textLength="28.20" lengthAdjust="spacingAndGlyphs" stroke="#111" stroke-width="0.12">ICAM-I</text>
<line x1="44.35" y1="226.80" x2="44.35" y2="229.40" stroke="#555" stroke-width="0.8"/>
<line x1="42.15" y1="226.80" x2="46.55" y2="226.80" stroke="#555" stroke-width="0.8"/>
<rect x="38.30" y="229.40" width="12.10" height="8.90" fill="#b6b6b6" stroke="#858585" stroke-width="0.9"/>
<line x1="61.45" y1="183.60" x2="61.45" y2="196.10" stroke="#555" stroke-width="0.8"/>
<line x1="59.25" y1="183.60" x2="63.65" y2="183.60" stroke="#555" stroke-width="0.8"/>
<rect x="55.40" y="196.10" width="12.10" height="42.20" fill="#b6b6b6" stroke="#858585" stroke-width="0.9"/>
<text x="61.50" y="182.50" font-size="9" font-weight="bold" text-anchor="middle">*</text>
<line x1="95.75" y1="201.60" x2="95.75" y2="210.30" stroke="#555" stroke-width="0.8"/>
<line x1="93.55" y1="201.60" x2="97.95" y2="201.60" stroke="#555" stroke-width="0.8"/>
<rect x="89.70" y="210.30" width="12.10" height="28.00" fill="#b6b6b6" stroke="#858585" stroke-width="0.9"/>
<line x1="112.05" y1="182.10" x2="112.05" y2="193.10" stroke="#555" stroke-width="0.8"/>
<line x1="109.85" y1="182.10" x2="114.25" y2="182.10" stroke="#555" stroke-width="0.8"/>
<rect x="106.20" y="193.10" width="11.70" height="45.20" fill="#b6b6b6" stroke="#858585" stroke-width="0.9"/>
<text x="111.90" y="181.80" font-size="9" font-weight="bold" text-anchor="middle">*</text>
<line x1="147.55" y1="223.30" x2="147.55" y2="227.00" stroke="#555" stroke-width="0.8"/>
<line x1="145.35" y1="223.30" x2="149.75" y2="223.30" stroke="#555" stroke-width="0.8"/>
<rect x="141.50" y="227.00" width="12.10" height="11.30" fill="#b6b6b6" stroke="#858585" stroke-width="0.9"/>
<line x1="166.05" y1="195.30" x2="166.05" y2="201.70" stroke="#555" stroke-width="0.8"/>
<line x1="163.85" y1="195.30" x2="168.25" y2="195.30" stroke="#555" stroke-width="0.8"/>
<rect x="160.30" y="201.70" width="11.50" height="36.60" fill="#b6b6b6" stroke="#858585" stroke-width="0.9"/>
<text x="165.80" y="196.00" font-size="9" font-weight="bold" text-anchor="middle">*</text>
<text x="44.35" y="244.40" font-size="5.5" font-weight="bold" text-anchor="middle" fill="#222" stroke="#222" stroke-width="0.25">GFP</text>
<text x="95.75" y="244.40" font-size="5.5" font-weight="bold" text-anchor="middle" fill="#222" stroke="#222" stroke-width="0.25">GFP</text>
<text x="147.55" y="244.40" font-size="5.5" font-weight="bold" text-anchor="middle" fill="#222" stroke="#222" stroke-width="0.25">GFP</text>
<text x="61.45" y="244.40" font-size="5.5" font-weight="bold" text-anchor="middle" fill="#222" stroke="#222" stroke-width="0.25">MKK6</text>
<text x="112.05" y="244.40" font-size="5.5" font-weight="bold" text-anchor="middle" fill="#222" stroke="#222" stroke-width="0.25">MKK6</text>
<text x="166.05" y="244.40" font-size="5.5" font-weight="bold" text-anchor="middle" fill="#222" stroke="#222" stroke-width="0.25">MKK6</text>
<text x="55.00" y="253.20" font-size="5.9" font-weight="bold" textLength="92.00" lengthAdjust="spacingAndGlyphs" fill="#222" stroke="#222" stroke-width="0.25">Lentivectors used for transduction</text>
<text x="12.50" y="229.00" font-size="5.5" font-weight="bold" textLength="64.80" lengthAdjust="spacingAndGlyphs" fill="#222" transform="rotate(-90 12.50 229.00)" stroke="#222" stroke-width="0.25">Relative fluorescence, %</text>
<text x="78.00" y="272.30" font-size="5.5" font-weight="bold" textLength="56.40" lengthAdjust="spacingAndGlyphs" stroke="#111" stroke-width="0.25">Lentivector construct</text>
<rect x="24.60" y="275.70" width="22.10" height="9.90" fill="#fff" stroke="#666" stroke-width="0.9"/>
<rect x="50.00" y="275.70" width="21.50" height="9.90" fill="#fff" stroke="#666" stroke-width="0.9"/>
<rect x="71.50" y="275.70" width="36.00" height="9.90" fill="#fff" stroke="#666" stroke-width="0.9"/>
<rect x="110.00" y="275.70" width="20.80" height="9.90" fill="#fff" stroke="#666" stroke-width="0.9"/>
<rect x="130.80" y="275.70" width="31.70" height="9.90" fill="#fff" stroke="#666" stroke-width="0.9"/>
<rect x="165.00" y="275.70" width="29.30" height="9.90" fill="#fff" stroke="#666" stroke-width="0.9"/>
<line x1="46.70" y1="280.65" x2="50.00" y2="280.65" stroke="#555" stroke-width="0.9"/>
<line x1="107.50" y1="280.65" x2="110.00" y2="280.65" stroke="#555" stroke-width="0.9"/>
<line x1="162.50" y1="280.65" x2="165.00" y2="280.65" stroke="#555" stroke-width="0.9"/>
<text x="35.65" y="282.90" font-size="5.6" font-weight="bold" text-anchor="middle" fill="#222" stroke="#222" stroke-width="0.25">LTR</text>
<text x="60.75" y="282.90" font-size="5.6" font-weight="bold" text-anchor="middle" fill="#222" stroke="#222" stroke-width="0.25">SFFV</text>
<text x="89.50" y="282.90" font-size="5.6" font-weight="bold" text-anchor="middle" fill="#222" stroke="#222" stroke-width="0.25">ACTIVATOR</text>
<text x="120.40" y="282.90" font-size="5.6" font-weight="bold" text-anchor="middle" fill="#222" stroke="#222" stroke-width="0.25">CMV</text>
<text x="146.65" y="282.90" font-size="5.6" font-weight="bold" text-anchor="middle" fill="#222" stroke="#222" stroke-width="0.25">MELAN A</text>
<path d="M166.90,283.10 L168.25,278.50 L169.60,283.10 Z" fill="none" stroke="#444" stroke-width="0.5"/>
<text x="169.50" y="283.10" font-size="6.6" font-weight="bold" textLength="9.20" lengthAdjust="spacingAndGlyphs" fill="#222" stroke="#222" stroke-width="0.25">U3</text>
<text x="180.60" y="282.90" font-size="5.6" font-weight="bold" textLength="10.80" lengthAdjust="spacingAndGlyphs" fill="#222" stroke="#222" stroke-width="0.25">LTR</text>
<text x="80.20" y="300.10" font-size="5.5" font-weight="bold" textLength="56.30" lengthAdjust="spacingAndGlyphs" fill="#222" stroke="#222" stroke-width="0.25">MELAN-A expression</text>
<text x="64.60" y="310.00" font-size="5.5" font-weight="bold" textLength="9.90" lengthAdjust="spacingAndGlyphs" fill="#222" stroke="#222" stroke-width="0.25">kDa</text>
<text x="81.00" y="310.00" font-size="5.5" font-weight="bold" textLength="10.70" lengthAdjust="spacingAndGlyphs" fill="#222" stroke="#222" stroke-width="0.25">GFP</text>
<text x="102.00" y="310.00" font-size="5.5" font-weight="bold" textLength="13.90" lengthAdjust="spacingAndGlyphs" fill="#222" stroke="#222" stroke-width="0.25">K82A</text>
<text x="124.60" y="310.00" font-size="5.5" font-weight="bold" textLength="15.60" lengthAdjust="spacingAndGlyphs" fill="#222" stroke="#222" stroke-width="0.25">MKK6</text>
<rect x="74.80" y="311.20" width="69.00" height="18.20" fill="#ededed" stroke="#555" stroke-width="0.9"/>
<rect x="74.80" y="329.40" width="69.00" height="16.80" fill="#f3f3f3" stroke="#444" stroke-width="1.0"/>
<rect x="101.70" y="323.60" width="13.60" height="1.4" rx="0.7" fill="#1a1a1a" opacity="0.9" filter="url(#bl)"/>
<rect x="124.80" y="323.60" width="13.90" height="1.4" rx="0.7" fill="#1a1a1a" opacity="0.9" filter="url(#bl)"/>
<rect x="101.8" y="335.4" width="12.8" height="3.2" rx="1.4" fill="#111" opacity="0.95" filter="url(#bl)"/>
<rect x="124.9" y="335.7" width="13.1" height="2.6" rx="1.2" fill="#1a1a1a" opacity="0.88" filter="url(#bl)"/>
<text x="66.30" y="321.60" font-size="5.2" font-weight="bold" textLength="5.70" lengthAdjust="spacingAndGlyphs" fill="#222" stroke="#222" stroke-width="0.30">47</text>
<line x1="72.00" y1="319.60" x2="75.30" y2="319.60" stroke="#333" stroke-width="0.7"/>
<text x="66.30" y="329.00" font-size="5.2" font-weight="bold" textLength="5.70" lengthAdjust="spacingAndGlyphs" fill="#222" stroke="#222" stroke-width="0.30">35</text>
<line x1="72.00" y1="327.00" x2="75.30" y2="327.00" stroke="#333" stroke-width="0.7"/>
<text x="42.50" y="324.80" font-size="5.5" font-weight="bold" textLength="19.70" lengthAdjust="spacingAndGlyphs" fill="#222" stroke="#222" stroke-width="0.25">α-FLAG</text>
<text x="49.00" y="340.40" font-size="5.5" font-weight="bold" textLength="13.20" lengthAdjust="spacingAndGlyphs" fill="#222" stroke="#222" stroke-width="0.25">α-HA</text>
<line x1="147.30" y1="337.40" x2="152.60" y2="337.40" stroke="#222" stroke-width="0.7"/>
<path d="M146.5,337.4 L148.6,336.2 L148.6,338.6 Z" fill="#222"/>
<text x="154.50" y="339.00" font-size="4.4" font-weight="bold" textLength="19.90" lengthAdjust="spacingAndGlyphs" fill="#333" stroke="#333" stroke-width="0.30">MELAN A</text>
<text x="336.20" y="14.40" font-size="7.5" font-weight="bold" textLength="126.00" lengthAdjust="spacingAndGlyphs" stroke="#111" stroke-width="0.12">Antigen presentation by human DC</text>
<ellipse cx="334.0" cy="56.6" rx="6.0" ry="2.5" fill="#000" opacity="0.13" filter="url(#bl3)"/>
<g class="d" fill="#111" fill-opacity="0.35"><rect x="327.6" y="57.5"/><rect x="336.1" y="54.6"/><rect x="336.7" y="56.4"/><rect x="336.8" y="57.9"/><rect x="338.3" y="58.0"/><rect x="337.2" y="57.7"/><rect x="329.4" y="58.8"/><rect x="340.0" y="61.2"/><rect x="336.9" y="54.6"/><rect x="329.8" y="55.8"/><rect x="326.5" y="58.6"/><rect x="335.7" y="60.0"/><rect x="338.7" y="58.7"/><rect x="336.2" y="56.0"/><rect x="336.6" y="56.1"/><rect x="336.7" y="54.4"/><rect x="330.1" y="55.3"/><rect x="333.1" y="55.2"/><rect x="334.0" y="53.1"/><rect x="337.6" y="55.4"/><rect x="339.8" y="55.0"/><rect x="335.2" y="56.4"/><rect x="336.3" y="58.9"/><rect x="339.3" y="59.3"/><rect x="336.6" y="57.0"/><rect x="335.3" y="58.2"/><rect x="333.9" y="54.0"/><rect x="334.6" y="56.9"/><rect x="330.4" y="58.8"/><rect x="336.8" y="58.4"/><rect x="336.9" y="58.4"/><rect x="334.4" y="54.8"/><rect x="334.2" y="55.5"/><rect x="337.6" y="56.2"/><rect x="330.7" y="57.4"/><rect x="329.6" y="55.8"/><rect x="330.7" y="56.0"/><rect x="333.1" y="56.9"/><rect x="334.2" y="58.9"/><rect x="331.9" y="57.6"/><rect x="334.9" y="55.5"/><rect x="338.3" y="57.5"/><rect x="338.3" y="62.9"/><rect x="332.6" y="58.1"/><rect x="336.2" y="54.3"/><rect x="334.7" y="56.9"/><rect x="328.7" y="59.2"/><rect x="337.1" y="53.8"/><rect x="331.6" y="54.8"/><rect x="338.2" y="61.4"/><rect x="327.7" y="55.4"/><rect x="339.3" y="59.7"/><rect x="328.3" y="53.7"/><rect x="334.8" y="58.3"/><rect x="333.6" y="57.7"/><rect x="336.6" y="56.1"/><rect x="334.8" y="55.8"/><rect x="334.3" y="56.1"/><rect x="333.1" y="54.7"/><rect x="329.7" y="57.9"/><rect x="336.7" y="56.0"/><rect x="328.7" y="56.7"/><rect x="330.7" y="57.1"/><rect x="337.0" y="58.0"/><rect x="340.7" y="59.1"/><rect x="336.7" y="60.7"/><rect x="334.3" y="59.3"/><rect x="331.1" y="53.4"/><rect x="332.0" y="54.9"/><rect x="338.1" y="59.7"/><rect x="336.8" y="57.0"/><rect x="326.8" y="56.5"/><rect x="329.5" y="56.1"/><rect x="332.7" y="56.5"/><rect x="331.4" y="54.5"/><rect x="336.8" y="57.0"/><rect x="339.3" y="53.7"/><rect x="328.0" y="55.9"/><rect x="340.4" y="56.7"/><rect x="339.1" y="57.7"/><rect x="333.6" y="54.6"/><rect x="339.0" y="57.4"/><rect x="332.5" y="54.0"/><rect x="338.6" y="55.8"/><rect x="332.3" y="58.0"/><rect x="333.5" y="57.7"/><rect x="329.4" y="56.0"/><rect x="336.9" y="56.1"/><rect x="334.6" y="56.6"/><rect x="332.7" y="57.4"/><rect x="331.1" y="58.0"/><rect x="330.0" y="60.5"/><rect x="338.9" y="57.0"/><rect x="332.0" y="55.7"/><rect x="336.9" y="57.6"/><rect x="329.3" y="55.4"/><rect x="335.5" y="56.4"/><rect x="329.0" y="56.1"/><rect x="336.6" y="56.3"/><rect x="333.5" y="56.0"/><rect x="332.8" y="55.2"/><rect x="330.6" y="57.6"/><rect x="338.5" y="54.9"/><rect x="336.2" y="55.6"/><rect x="334.8" y="57.4"/><rect x="331.2" y="57.9"/><rect x="338.2" y="55.4"/><rect x="337.8" y="59.1"/><rect x="332.8" y="57.0"/><rect x="337.7" y="54.5"/><rect x="337.9" y="54.8"/><rect x="338.9" y="56.9"/><rect x="340.8" y="55.8"/><rect x="336.5" y="55.8"/><rect x="334.6" y="53.1"/><rect x="333.3" y="59.8"/><rect x="334.9" y="56.2"/><rect x="336.8" y="56.0"/><rect x="327.3" y="56.8"/><rect x="334.1" y="56.3"/><rect x="338.1" y="56.4"/><rect x="333.8" y="56.4"/><rect x="336.1" y="53.8"/><rect x="336.0" y="54.7"/><rect x="340.7" y="56.6"/><rect x="333.2" y="55.1"/><rect x="328.7" y="57.5"/><rect x="335.5" y="55.1"/><rect x="329.8" y="55.1"/><rect x="328.2" y="57.1"/><rect x="337.5" y="54.8"/><rect x="340.8" y="59.4"/><rect x="337.0" y="58.7"/><rect x="329.7" y="58.8"/><rect x="331.0" y="58.5"/><rect x="337.4" y="58.2"/><rect x="339.5" y="57.2"/><rect x="327.4" y="57.4"/><rect x="330.7" y="57.9"/><rect x="330.6" y="56.5"/><rect x="337.6" y="55.3"/><rect x="333.9" y="56.1"/><rect x="327.7" y="59.2"/><rect x="332.3" y="58.9"/><rect x="335.6" y="53.6"/><rect x="334.5" y="57.7"/><rect x="336.8" y="56.7"/><rect x="333.9" y="56.7"/><rect x="333.4" y="57.4"/><rect x="332.5" y="57.5"/><rect x="335.5" y="53.1"/><rect x="337.7" y="52.7"/><rect x="339.9" y="52.9"/><rect x="335.5" y="56.5"/><rect x="338.9" y="54.0"/><rect x="331.4" y="56.1"/><rect x="329.5" y="53.1"/><rect x="332.1" y="58.0"/><rect x="332.3" y="56.5"/><rect x="332.2" y="58.3"/><rect x="329.5" y="57.5"/><rect x="334.7" y="55.7"/><rect x="338.8" y="60.6"/><rect x="329.9" y="55.6"/><rect x="333.5" y="59.5"/><rect x="333.8" y="55.8"/><rect x="329.6" y="58.3"/><rect x="338.7" y="56.5"/><rect x="338.8" y="57.9"/><rect x="337.7" y="57.7"/><rect x="338.6" y="57.3"/><rect x="333.8" y="57.2"/><rect x="334.8" y="55.9"/><rect x="335.0" y="58.4"/><rect x="331.2" y="54.9"/><rect x="333.0" y="55.9"/><rect x="329.6" y="52.5"/><rect x="329.2" y="54.1"/><rect x="337.0" y="56.7"/><rect x="333.8" y="56.3"/><rect x="339.6" y="58.9"/><rect x="336.8" y="52.9"/><rect x="331.5" y="56.3"/><rect x="337.0" y="57.2"/><rect x="338.9" y="57.6"/><rect x="337.2" y="56.0"/><rect x="336.8" y="54.4"/><rect x="331.5" y="56.3"/><rect x="333.2" y="55.3"/><rect x="332.5" y="57.1"/><rect x="335.5" y="57.3"/><rect x="335.5" y="56.6"/><rect x="331.9" y="55.2"/><rect x="333.8" y="57.8"/><rect x="326.5" y="62.4"/><rect x="337.1" y="54.2"/><rect x="335.2" y="52.7"/><rect x="332.8" y="53.4"/><rect x="334.7" y="57.1"/><rect x="334.5" y="57.2"/><rect x="334.7" y="52.8"/><rect x="332.0" y="53.5"/><rect x="337.4" y="58.1"/><rect x="331.7" y="57.4"/><rect x="331.9" y="57.2"/><rect x="334.5" y="56.2"/><rect x="338.0" y="54.2"/><rect x="335.7" y="56.5"/><rect x="338.2" y="56.9"/><rect x="332.7" y="59.5"/><rect x="330.8" y="56.7"/><rect x="336.2" y="58.9"/><rect x="335.9" y="56.9"/><rect x="341.8" y="57.4"/><rect x="328.8" y="57.5"/><rect x="331.3" y="55.1"/><rect x="337.3" y="57.3"/><rect x="332.4" y="56.1"/><rect x="339.9" y="59.4"/><rect x="333.8" y="57.7"/><rect x="336.5" y="55.2"/><rect x="335.3" y="56.1"/><rect x="332.8" y="56.1"/><rect x="328.0" y="54.7"/><rect x="337.4" y="56.0"/><rect x="333.8" y="57.5"/><rect x="333.7" y="58.2"/><rect x="338.2" y="57.3"/><rect x="337.2" y="54.6"/><rect x="339.0" y="53.4"/><rect x="338.6" y="56.5"/><rect x="338.2" y="58.9"/><rect x="336.3" y="55.3"/><rect x="335.4" y="59.4"/><rect x="340.5" y="57.0"/><rect x="338.0" y="58.2"/><rect x="336.4" y="56.0"/><rect x="331.7" y="58.3"/><rect x="339.4" y="58.3"/><rect x="336.1" y="56.8"/><rect x="338.8" y="57.3"/><rect x="330.3" y="57.2"/><rect x="333.9" y="54.6"/><rect x="333.6" y="56.3"/><rect x="338.5" y="59.6"/><rect x="328.6" y="58.2"/><rect x="335.8" y="58.5"/><rect x="328.6" y="59.2"/><rect x="330.2" y="58.9"/><rect x="331.6" y="55.5"/><rect x="331.1" y="58.5"/><rect x="332.2" y="57.7"/><rect x="333.4" y="58.1"/><rect x="337.6" y="54.4"/><rect x="339.4" y="57.0"/><rect x="336.9" y="56.0"/><rect x="333.7" y="53.9"/><rect x="334.0" y="56.3"/><rect x="337.1" y="53.7"/><rect x="327.8" y="57.6"/><rect x="334.5" y="57.5"/><rect x="338.5" y="58.1"/><rect x="333.1" y="58.7"/><rect x="336.8" y="56.4"/><rect x="332.7" y="58.2"/><rect x="331.2" y="58.2"/><rect x="337.1" y="58.1"/><rect x="331.7" y="55.8"/><rect x="337.5" y="58.7"/><rect x="334.6" y="53.9"/><rect x="332.5" y="58.3"/><rect x="329.2" y="59.0"/><rect x="331.6" y="56.5"/></g>
<g class="d" fill="#111" fill-opacity="0.2"><rect x="328.6" y="58.9"/><rect x="339.1" y="59.1"/><rect x="338.6" y="62.5"/><rect x="332.7" y="59.1"/><rect x="341.5" y="58.7"/><rect x="335.1" y="62.4"/><rect x="337.5" y="59.6"/><rect x="330.4" y="62.3"/><rect x="341.0" y="60.3"/><rect x="331.2" y="63.4"/><rect x="335.0" y="66.8"/><rect x="341.3" y="60.4"/><rect x="330.6" y="67.1"/><rect x="327.6" y="66.5"/><rect x="340.8" y="60.1"/><rect x="330.8" y="66.5"/><rect x="335.6" y="66.4"/><rect x="344.6" y="61.1"/><rect x="341.9" y="67.6"/><rect x="335.4" y="65.1"/><rect x="329.2" y="62.4"/><rect x="332.3" y="59.8"/><rect x="328.2" y="68.8"/><rect x="345.3" y="60.2"/><rect x="340.8" y="60.8"/><rect x="330.9" y="68.5"/><rect x="338.1" y="66.1"/><rect x="333.8" y="63.2"/><rect x="340.3" y="63.2"/><rect x="330.8" y="62.9"/><rect x="333.1" y="59.2"/><rect x="330.5" y="62.6"/><rect x="344.6" y="61.3"/><rect x="341.6" y="59.4"/><rect x="339.0" y="68.6"/><rect x="330.0" y="68.0"/><rect x="340.4" y="59.7"/><rect x="327.6" y="67.5"/><rect x="340.9" y="60.9"/><rect x="335.2" y="67.0"/><rect x="338.9" y="59.7"/><rect x="332.3" y="59.3"/><rect x="331.4" y="60.4"/><rect x="341.0" y="58.6"/><rect x="329.1" y="63.2"/><rect x="337.1" y="66.8"/><rect x="327.2" y="59.7"/><rect x="338.7" y="63.5"/><rect x="336.2" y="59.6"/><rect x="334.8" y="58.9"/><rect x="335.2" y="63.4"/><rect x="329.3" y="64.6"/><rect x="333.8" y="62.5"/><rect x="328.2" y="62.6"/><rect x="337.2" y="70.2"/><rect x="332.4" y="66.9"/><rect x="328.7" y="66.7"/><rect x="331.0" y="64.1"/><rect x="344.5" y="59.0"/><rect x="328.6" y="67.2"/><rect x="337.4" y="59.4"/><rect x="331.9" y="65.6"/><rect x="337.2" y="63.3"/><rect x="340.5" y="58.8"/><rect x="336.7" y="63.4"/><rect x="342.5" y="59.0"/><rect x="327.2" y="60.4"/><rect x="332.7" y="59.3"/><rect x="330.8" y="60.9"/><rect x="330.5" y="70.8"/><rect x="337.5" y="60.3"/><rect x="340.9" y="59.8"/><rect x="344.7" y="62.6"/><rect x="332.2" y="59.1"/><rect x="337.4" y="68.3"/><rect x="332.0" y="60.8"/><rect x="329.2" y="59.4"/><rect x="332.6" y="65.5"/><rect x="341.8" y="62.3"/><rect x="340.9" y="68.1"/><rect x="341.3" y="58.8"/><rect x="343.3" y="65.6"/><rect x="331.9" y="60.3"/><rect x="338.4" y="59.7"/><rect x="335.7" y="61.2"/><rect x="337.4" y="72.2"/><rect x="334.6" y="65.4"/><rect x="327.7" y="64.8"/><rect x="331.6" y="61.9"/><rect x="345.2" y="61.3"/><rect x="327.5" y="70.0"/><rect x="333.8" y="66.9"/><rect x="333.4" y="62.6"/><rect x="345.2" y="60.7"/><rect x="338.7" y="63.3"/><rect x="337.5" y="59.1"/><rect x="338.0" y="59.7"/><rect x="340.3" y="68.2"/><rect x="328.2" y="64.5"/><rect x="341.4" y="59.4"/><rect x="330.8" y="60.6"/><rect x="332.5" y="63.0"/><rect x="344.1" y="71.0"/><rect x="333.1" y="69.6"/><rect x="334.9" y="66.6"/><rect x="335.0" y="61.3"/><rect x="333.5" y="74.8"/><rect x="339.3" y="74.9"/><rect x="340.6" y="62.4"/><rect x="337.3" y="68.7"/><rect x="344.3" y="61.8"/><rect x="335.6" y="66.6"/><rect x="332.6" y="59.2"/><rect x="343.5" y="60.3"/><rect x="341.5" y="65.8"/><rect x="333.1" y="68.9"/><rect x="340.2" y="69.1"/><rect x="340.7" y="61.7"/><rect x="334.2" y="63.8"/><rect x="328.7" y="63.5"/><rect x="344.9" y="66.9"/><rect x="337.2" y="58.9"/><rect x="329.7" y="63.0"/><rect x="345.2" y="73.1"/><rect x="334.8" y="76.2"/><rect x="341.4" y="64.2"/><rect x="339.3" y="63.8"/><rect x="332.4" y="69.6"/><rect x="333.1" y="60.6"/><rect x="337.8" y="61.9"/><rect x="326.8" y="62.3"/><rect x="334.3" y="61.9"/><rect x="329.4" y="60.6"/><rect x="327.4" y="62.1"/><rect x="341.7" y="63.5"/><rect x="345.3" y="59.8"/><rect x="329.7" y="67.8"/><rect x="337.0" y="60.8"/><rect x="336.4" y="58.8"/><rect x="332.6" y="60.5"/><rect x="329.9" y="71.4"/><rect x="330.5" y="59.8"/><rect x="336.8" y="59.4"/><rect x="340.6" y="66.1"/><rect x="341.0" y="61.4"/><rect x="330.8" y="59.6"/><rect x="330.6" y="62.4"/><rect x="334.7" y="61.8"/><rect x="334.7" y="62.5"/><rect x="338.3" y="65.2"/><rect x="331.7" y="67.5"/><rect x="344.3" y="59.4"/><rect x="335.7" y="59.0"/><rect x="343.5" y="67.2"/><rect x="332.4" y="69.7"/><rect x="331.3" y="66.2"/><rect x="334.5" y="58.7"/><rect x="344.5" y="60.4"/><rect x="326.7" y="65.7"/><rect x="342.7" y="61.0"/><rect x="345.1" y="60.0"/><rect x="343.5" y="65.5"/><rect x="330.3" y="62.0"/><rect x="343.9" y="62.5"/><rect x="327.8" y="62.5"/><rect x="344.3" y="61.3"/><rect x="329.9" y="58.7"/><rect x="331.1" y="59.4"/><rect x="333.5" y="65.5"/><rect x="335.1" y="66.6"/><rect x="329.1" y="60.1"/><rect x="342.6" y="61.3"/><rect x="334.7" y="67.8"/><rect x="338.5" y="61.0"/><rect x="336.0" y="65.2"/><rect x="327.4" y="63.2"/><rect x="340.1" y="59.5"/><rect x="327.8" y="63.6"/><rect x="344.6" y="60.1"/><rect x="345.1" y="59.2"/><rect x="341.5" y="59.9"/><rect x="330.7" y="61.5"/><rect x="340.6" y="67.6"/><rect x="339.7" y="62.4"/><rect x="339.2" y="68.2"/><rect x="338.7" y="65.9"/><rect x="329.1" y="65.6"/><rect x="334.8" y="59.8"/><rect x="344.2" y="70.4"/></g>
<g class="d" fill="#111" fill-opacity="0.12"><rect x="347.2" y="60.0"/><rect x="352.1" y="59.6"/><rect x="349.0" y="54.1"/><rect x="353.3" y="56.8"/><rect x="344.8" y="55.3"/><rect x="353.9" y="55.9"/><rect x="346.9" y="53.7"/><rect x="356.7" y="58.6"/><rect x="351.0" y="53.5"/><rect x="356.2" y="60.7"/><rect x="348.9" y="55.5"/><rect x="345.2" y="53.0"/><rect x="350.2" y="57.1"/><rect x="350.9" y="54.3"/><rect x="354.7" y="55.3"/><rect x="352.6" y="55.8"/><rect x="361.0" y="58.0"/><rect x="357.1" y="53.5"/><rect x="351.4" y="57.7"/><rect x="345.4" y="57.0"/><rect x="348.8" y="57.9"/><rect x="355.4" y="55.9"/></g>
<line x1="344.30" y1="20.80" x2="344.30" y2="77.50" stroke="#aaa" stroke-width="0.7"/>
<line x1="325.60" y1="64.70" x2="401.40" y2="64.70" stroke="#aaa" stroke-width="0.7"/>
<rect x="325.60" y="20.80" width="75.80" height="56.70" fill="none" stroke="#555" stroke-width="1.0"/>
<text x="341.70" y="27.60" font-size="4.7" font-weight="bold" textLength="34.20" lengthAdjust="spacingAndGlyphs" fill="#222" stroke="#222" stroke-width="0.30">Immature DCp</text>
<text x="329.80" y="42.90" font-size="4.9" font-weight="bold" fill="#1a1a1a" stroke="#1a1a1a" stroke-width="0.30">64.71%</text>
<text x="329.80" y="49.30" font-size="4.9" font-weight="bold" fill="#1a1a1a" stroke="#1a1a1a" stroke-width="0.30">3250</text>
<text x="386.00" y="42.90" font-size="4.9" font-weight="bold" fill="#1a1a1a" stroke="#1a1a1a" stroke-width="0.30">0.42%</text>
<text x="386.00" y="49.30" font-size="4.9" font-weight="bold" fill="#1a1a1a" stroke="#1a1a1a" stroke-width="0.30">21</text>
<text x="329.80" y="74.70" font-size="4.9" font-weight="bold" fill="#1a1a1a" stroke="#1a1a1a" stroke-width="0.30">34%</text>
<text x="386.00" y="74.70" font-size="4.9" font-weight="bold" fill="#1a1a1a" stroke="#1a1a1a" stroke-width="0.30">0.87%</text>
<ellipse cx="413.2" cy="58.0" rx="6.2" ry="2.6" fill="#000" opacity="0.30" filter="url(#bl3)"/>
<g class="d" fill="#111" fill-opacity="0.35"><rect x="415.5" y="62.9"/><rect x="416.0" y="58.6"/><rect x="410.2" y="59.6"/><rect x="416.4" y="63.2"/><rect x="408.5" y="58.8"/><rect x="415.2" y="59.7"/><rect x="410.3" y="56.5"/><rect x="408.7" y="58.7"/><rect x="409.8" y="55.3"/><rect x="416.3" y="56.7"/><rect x="410.5" y="58.9"/><rect x="416.9" y="58.1"/><rect x="413.5" y="58.3"/><rect x="417.5" y="58.2"/><rect x="410.2" y="58.3"/><rect x="409.6" y="60.5"/><rect x="414.5" y="60.2"/><rect x="409.9" y="58.0"/><rect x="412.7" y="55.8"/><rect x="416.0" y="58.0"/><rect x="418.0" y="57.1"/><rect x="416.0" y="54.4"/><rect x="417.2" y="59.0"/><rect x="416.4" y="53.8"/><rect x="413.3" y="57.3"/><rect x="419.5" y="56.8"/><rect x="412.7" y="58.6"/><rect x="420.0" y="60.5"/><rect x="410.6" y="58.9"/><rect x="419.9" y="57.0"/><rect x="406.8" y="54.6"/><rect x="410.3" y="56.5"/><rect x="409.9" y="60.9"/><rect x="412.5" y="57.6"/><rect x="417.7" y="60.9"/><rect x="417.4" y="58.4"/><rect x="410.8" y="58.5"/><rect x="408.1" y="59.6"/><rect x="411.5" y="55.4"/><rect x="413.9" y="60.2"/><rect x="415.1" y="59.8"/><rect x="410.1" y="55.1"/><rect x="408.8" y="58.9"/><rect x="411.4" y="58.2"/><rect x="418.8" y="55.9"/><rect x="414.9" y="61.1"/><rect x="418.7" y="55.8"/><rect x="419.3" y="57.7"/><rect x="411.1" y="58.5"/><rect x="416.1" y="60.6"/><rect x="419.5" y="59.2"/><rect x="409.1" y="55.7"/><rect x="419.1" y="56.3"/><rect x="417.3" y="60.5"/><rect x="412.2" y="59.5"/><rect x="410.2" y="57.1"/><rect x="410.5" y="59.1"/><rect x="414.0" y="56.5"/><rect x="417.5" y="58.2"/><rect x="407.3" y="57.7"/><rect x="417.0" y="57.9"/><rect x="415.6" y="57.3"/><rect x="419.8" y="56.5"/><rect x="413.5" y="58.7"/><rect x="415.1" y="54.2"/><rect x="412.5" y="58.5"/><rect x="406.5" y="56.9"/><rect x="411.1" y="61.2"/><rect x="411.2" y="57.6"/><rect x="419.5" y="56.4"/><rect x="418.1" y="58.4"/><rect x="412.4" y="56.7"/><rect x="410.3" y="59.0"/><rect x="415.3" y="56.1"/><rect x="416.3" y="56.7"/><rect x="416.7" y="60.4"/><rect x="408.5" y="57.3"/><rect x="413.2" y="55.6"/><rect x="413.5" y="60.6"/><rect x="415.2" y="54.3"/><rect x="419.4" y="59.0"/><rect x="407.8" y="56.4"/><rect x="420.8" y="59.3"/><rect x="408.1" y="58.1"/><rect x="411.8" y="57.7"/><rect x="418.9" y="60.8"/><rect x="416.5" y="56.4"/><rect x="418.4" y="55.0"/><rect x="408.8" y="60.0"/><rect x="410.1" y="58.3"/><rect x="412.6" y="57.5"/><rect x="413.5" y="57.7"/><rect x="415.0" y="60.7"/><rect x="417.0" y="61.6"/><rect x="411.4" y="59.6"/><rect x="410.3" y="60.0"/><rect x="413.8" y="54.5"/><rect x="411.7" y="59.6"/><rect x="418.9" y="55.5"/><rect x="415.7" y="57.1"/><rect x="416.7" y="57.6"/><rect x="415.8" y="57.8"/><rect x="410.0" y="55.6"/><rect x="413.5" y="60.5"/><rect x="419.5" y="57.7"/><rect x="416.6" y="58.6"/><rect x="414.3" y="57.1"/><rect x="407.9" y="58.0"/><rect x="410.0" y="59.8"/><rect x="417.9" y="61.2"/><rect x="408.3" y="61.0"/><rect x="407.2" y="59.0"/><rect x="410.8" y="57.2"/><rect x="416.7" y="57.2"/><rect x="416.3" y="61.1"/><rect x="412.3" y="61.4"/><rect x="414.7" y="60.4"/><rect x="410.1" y="62.6"/><rect x="420.5" y="61.7"/><rect x="416.4" y="58.1"/><rect x="414.8" y="55.4"/><rect x="407.2" y="59.5"/><rect x="411.1" y="59.3"/><rect x="417.5" y="55.1"/><rect x="408.0" y="58.9"/><rect x="411.5" y="60.5"/><rect x="412.9" y="56.0"/><rect x="412.2" y="55.6"/><rect x="417.1" y="56.8"/><rect x="406.5" y="60.4"/><rect x="411.8" y="55.1"/><rect x="414.7" y="58.1"/><rect x="417.6" y="60.1"/><rect x="415.5" y="56.9"/><rect x="416.9" y="59.9"/><rect x="412.4" y="57.5"/><rect x="412.2" y="58.3"/><rect x="408.2" y="55.7"/><rect x="408.6" y="55.8"/><rect x="410.8" y="59.4"/><rect x="418.3" y="62.9"/><rect x="412.9" y="61.4"/><rect x="414.8" y="57.3"/><rect x="416.4" y="58.2"/><rect x="411.8" y="59.5"/><rect x="414.0" y="55.9"/><rect x="413.6" y="56.6"/><rect x="420.4" y="58.3"/><rect x="417.1" y="59.8"/><rect x="412.5" y="57.3"/><rect x="407.6" y="57.7"/><rect x="408.1" y="61.1"/><rect x="413.1" y="60.6"/><rect x="408.1" y="58.8"/><rect x="415.2" y="60.1"/><rect x="409.7" y="59.3"/><rect x="408.0" y="57.0"/><rect x="408.4" y="58.4"/><rect x="414.5" y="59.5"/><rect x="408.1" y="57.7"/><rect x="417.6" y="53.4"/><rect x="415.1" y="55.5"/><rect x="415.1" y="57.4"/><rect x="409.3" y="55.0"/><rect x="414.3" y="56.4"/><rect x="416.9" y="56.7"/><rect x="418.6" y="57.3"/><rect x="408.9" y="60.6"/><rect x="418.6" y="56.3"/><rect x="410.1" y="58.8"/><rect x="410.7" y="58.9"/><rect x="414.9" y="55.6"/><rect x="417.6" y="55.6"/><rect x="410.6" y="57.5"/><rect x="416.5" y="55.6"/><rect x="408.9" y="57.1"/><rect x="410.2" y="59.3"/><rect x="418.2" y="57.4"/><rect x="417.7" y="55.3"/><rect x="407.1" y="59.7"/><rect x="414.6" y="60.0"/><rect x="413.4" y="56.2"/><rect x="416.0" y="60.4"/><rect x="419.0" y="55.3"/><rect x="410.2" y="58.6"/><rect x="418.8" y="54.4"/><rect x="415.3" y="54.3"/><rect x="411.7" y="59.7"/><rect x="418.2" y="55.3"/><rect x="412.8" y="56.7"/><rect x="408.3" y="57.3"/><rect x="415.3" y="57.2"/><rect x="412.1" y="61.6"/><rect x="416.0" y="59.0"/><rect x="409.5" y="59.0"/><rect x="418.0" y="59.0"/><rect x="412.5" y="59.5"/><rect x="412.5" y="56.9"/><rect x="409.9" y="56.8"/><rect x="411.2" y="57.1"/><rect x="407.6" y="58.4"/><rect x="409.3" y="59.0"/><rect x="408.5" y="53.7"/><rect x="418.9" y="59.3"/><rect x="410.3" y="56.3"/><rect x="408.8" y="58.3"/><rect x="418.9" y="56.6"/><rect x="419.9" y="59.1"/><rect x="417.0" y="57.1"/><rect x="415.7" y="62.6"/><rect x="410.8" y="58.1"/><rect x="412.5" y="57.2"/><rect x="416.0" y="53.3"/><rect x="409.2" y="59.0"/><rect x="406.8" y="57.0"/><rect x="408.5" y="58.0"/><rect x="407.6" y="59.6"/><rect x="416.0" y="57.9"/><rect x="411.1" y="58.6"/><rect x="410.4" y="57.6"/><rect x="412.5" y="59.4"/><rect x="416.6" y="56.8"/><rect x="420.2" y="62.5"/><rect x="415.4" y="63.8"/><rect x="414.7" y="57.8"/><rect x="408.3" y="60.3"/><rect x="415.2" y="62.5"/><rect x="413.6" y="54.6"/><rect x="410.8" y="56.7"/><rect x="410.5" y="60.9"/><rect x="416.6" y="56.3"/><rect x="411.6" y="59.7"/><rect x="418.1" y="60.3"/><rect x="409.4" y="58.2"/><rect x="409.6" y="55.3"/><rect x="417.2" y="57.7"/><rect x="416.7" y="59.8"/><rect x="415.4" y="58.0"/><rect x="406.9" y="59.9"/><rect x="416.1" y="59.3"/><rect x="407.9" y="57.8"/><rect x="408.7" y="57.8"/><rect x="414.4" y="56.0"/><rect x="418.6" y="58.5"/><rect x="407.3" y="58.2"/><rect x="412.4" y="58.2"/><rect x="407.8" y="55.8"/><rect x="412.9" y="57.7"/><rect x="414.4" y="55.7"/><rect x="419.9" y="57.6"/><rect x="411.9" y="54.2"/><rect x="415.6" y="58.4"/><rect x="415.2" y="58.8"/><rect x="414.2" y="57.9"/><rect x="417.5" y="56.0"/><rect x="411.2" y="58.6"/><rect x="412.6" y="57.3"/><rect x="410.7" y="61.0"/><rect x="412.1" y="55.5"/><rect x="418.0" y="59.6"/><rect x="413.0" y="60.7"/><rect x="417.5" y="57.7"/><rect x="407.0" y="56.4"/><rect x="412.8" y="62.4"/><rect x="419.9" y="58.2"/><rect x="414.0" y="59.2"/><rect x="418.2" y="56.7"/><rect x="416.7" y="56.7"/><rect x="414.3" y="53.9"/><rect x="410.6" y="58.5"/><rect x="416.7" y="57.0"/><rect x="408.7" y="58.5"/><rect x="411.1" y="58.8"/><rect x="407.1" y="54.8"/><rect x="409.8" y="56.0"/><rect x="408.3" y="57.6"/><rect x="414.3" y="58.2"/><rect x="410.2" y="59.7"/><rect x="417.4" y="56.6"/><rect x="414.8" y="58.9"/><rect x="412.6" y="57.1"/><rect x="408.7" y="54.9"/><rect x="413.6" y="58.7"/><rect x="406.6" y="60.4"/><rect x="417.0" y="57.2"/><rect x="420.1" y="59.1"/><rect x="416.5" y="54.1"/><rect x="417.2" y="53.4"/><rect x="410.3" y="59.5"/><rect x="409.4" y="56.0"/><rect x="417.7" y="59.6"/><rect x="415.7" y="56.7"/><rect x="411.8" y="55.1"/><rect x="415.7" y="58.4"/><rect x="413.8" y="53.7"/><rect x="415.2" y="56.6"/><rect x="416.4" y="57.1"/><rect x="407.1" y="55.9"/><rect x="413.4" y="59.2"/><rect x="418.5" y="58.7"/><rect x="417.6" y="58.2"/><rect x="413.4" y="56.6"/><rect x="413.3" y="54.9"/><rect x="414.4" y="57.1"/><rect x="416.1" y="59.9"/><rect x="409.1" y="55.6"/><rect x="408.3" y="57.2"/><rect x="417.3" y="59.2"/><rect x="411.0" y="60.7"/><rect x="412.2" y="56.2"/><rect x="415.7" y="60.3"/><rect x="412.7" y="60.8"/><rect x="412.6" y="57.0"/><rect x="408.8" y="61.7"/><rect x="410.3" y="59.5"/><rect x="418.2" y="57.0"/><rect x="410.5" y="59.6"/><rect x="407.9" y="58.9"/><rect x="410.4" y="59.3"/><rect x="406.9" y="59.1"/><rect x="417.1" y="60.2"/><rect x="416.8" y="56.2"/><rect x="412.1" y="56.9"/><rect x="415.4" y="59.5"/><rect x="418.9" y="54.7"/><rect x="410.4" y="54.4"/><rect x="417.7" y="57.3"/><rect x="407.6" y="61.5"/><rect x="413.0" y="58.7"/><rect x="407.4" y="59.6"/><rect x="411.5" y="57.4"/><rect x="420.2" y="57.0"/><rect x="408.6" y="56.9"/><rect x="408.9" y="59.2"/><rect x="414.7" y="58.0"/><rect x="413.3" y="55.6"/><rect x="415.2" y="59.2"/><rect x="417.2" y="54.5"/><rect x="415.8" y="55.5"/><rect x="414.6" y="56.1"/><rect x="410.0" y="54.9"/><rect x="410.6" y="58.4"/><rect x="419.7" y="59.0"/><rect x="409.3" y="55.6"/><rect x="414.3" y="56.6"/><rect x="418.9" y="58.8"/><rect x="408.2" y="58.1"/><rect x="413.0" y="56.0"/><rect x="417.4" y="58.2"/><rect x="410.3" y="57.6"/><rect x="413.1" y="57.0"/><rect x="411.7" y="54.1"/><rect x="416.7" y="57.2"/><rect x="410.8" y="58.4"/><rect x="416.6" y="60.6"/><rect x="406.3" y="54.9"/><rect x="417.5" y="58.7"/><rect x="409.0" y="57.6"/><rect x="409.3" y="57.6"/><rect x="410.5" y="59.0"/><rect x="414.8" y="60.0"/><rect x="414.0" y="55.6"/><rect x="417.2" y="59.9"/><rect x="413.9" y="58.1"/><rect x="416.0" y="57.9"/><rect x="417.8" y="53.8"/><rect x="409.0" y="61.3"/><rect x="415.6" y="58.3"/><rect x="418.4" y="56.1"/><rect x="413.5" y="59.4"/><rect x="421.5" y="60.6"/><rect x="414.7" y="60.5"/><rect x="412.5" y="56.0"/><rect x="414.7" y="56.9"/><rect x="411.0" y="57.6"/><rect x="408.5" y="61.9"/><rect x="410.1" y="58.6"/><rect x="418.7" y="59.3"/><rect x="418.0" y="60.0"/><rect x="418.3" y="58.9"/><rect x="412.1" y="59.9"/><rect x="417.4" y="59.3"/><rect x="414.1" y="52.8"/><rect x="414.1" y="59.5"/><rect x="417.3" y="59.9"/><rect x="412.3" y="57.6"/><rect x="410.9" y="53.2"/><rect x="410.4" y="59.4"/><rect x="414.5" y="59.2"/><rect x="412.0" y="53.0"/><rect x="414.4" y="61.8"/><rect x="416.0" y="60.3"/><rect x="422.0" y="57.1"/><rect x="412.2" y="59.3"/><rect x="410.3" y="59.2"/><rect x="407.2" y="58.9"/><rect x="412.6" y="61.2"/><rect x="415.4" y="61.1"/><rect x="416.7" y="57.4"/><rect x="411.3" y="59.9"/><rect x="411.6" y="61.5"/><rect x="409.6" y="57.8"/><rect x="415.4" y="59.7"/><rect x="409.0" y="56.7"/><rect x="417.3" y="57.8"/><rect x="418.1" y="54.2"/><rect x="409.3" y="57.4"/><rect x="414.3" y="54.0"/><rect x="412.3" y="57.4"/><rect x="407.8" y="58.6"/><rect x="415.5" y="60.0"/><rect x="406.6" y="61.6"/><rect x="406.4" y="57.9"/><rect x="418.1" y="57.5"/><rect x="417.9" y="54.9"/><rect x="416.1" y="54.7"/><rect x="413.5" y="58.5"/><rect x="408.1" y="57.8"/><rect x="409.4" y="59.3"/><rect x="410.2" y="58.9"/><rect x="414.4" y="60.2"/><rect x="413.1" y="59.5"/><rect x="412.5" y="62.9"/><rect x="416.8" y="59.9"/><rect x="411.6" y="61.1"/><rect x="418.3" y="59.7"/><rect x="415.3" y="59.1"/><rect x="412.0" y="58.6"/><rect x="412.9" y="60.0"/><rect x="415.1" y="56.9"/><rect x="416.6" y="56.9"/><rect x="417.6" y="55.9"/><rect x="416.0" y="61.6"/><rect x="411.4" y="59.2"/><rect x="408.7" y="56.3"/><rect x="415.2" y="57.7"/><rect x="413.4" y="57.9"/><rect x="407.6" y="59.9"/><rect x="410.3" y="59.7"/><rect x="409.8" y="60.2"/><rect x="417.8" y="58.4"/><rect x="413.8" y="57.7"/><rect x="414.4" y="54.0"/><rect x="410.3" y="55.6"/><rect x="415.6" y="59.4"/><rect x="410.7" y="58.1"/><rect x="409.1" y="57.1"/><rect x="412.3" y="62.7"/><rect x="415.7" y="56.9"/><rect x="415.2" y="58.6"/><rect x="417.9" y="61.0"/><rect x="409.7" y="56.0"/><rect x="409.2" y="57.2"/><rect x="417.1" y="59.6"/><rect x="410.5" y="59.9"/><rect x="414.0" y="59.3"/><rect x="409.4" y="58.9"/><rect x="409.9" y="57.7"/><rect x="415.9" y="56.1"/><rect x="411.6" y="57.6"/><rect x="410.8" y="58.9"/><rect x="411.3" y="60.1"/><rect x="414.5" y="58.4"/><rect x="418.0" y="59.0"/><rect x="416.5" y="63.3"/><rect x="415.4" y="59.3"/><rect x="408.7" y="56.4"/><rect x="409.0" y="53.4"/><rect x="414.1" y="56.1"/><rect x="411.0" y="55.1"/><rect x="408.2" y="60.9"/><rect x="414.2" y="59.5"/><rect x="418.2" y="58.1"/><rect x="417.8" y="57.6"/><rect x="410.7" y="55.6"/><rect x="416.5" y="57.3"/><rect x="415.9" y="58.0"/><rect x="417.4" y="58.2"/><rect x="417.6" y="59.1"/><rect x="415.6" y="53.7"/><rect x="416.7" y="59.6"/><rect x="410.2" y="54.3"/><rect x="414.1" y="51.7"/><rect x="412.7" y="58.1"/><rect x="412.6" y="59.8"/><rect x="417.2" y="58.9"/><rect x="419.0" y="59.1"/><rect x="412.7" y="57.5"/><rect x="416.4" y="54.4"/><rect x="409.4" y="59.7"/><rect x="416.6" y="56.1"/><rect x="414.0" y="56.1"/><rect x="411.3" y="57.2"/><rect x="416.2" y="59.1"/><rect x="412.4" y="57.3"/><rect x="411.4" y="55.6"/><rect x="408.9" y="57.8"/><rect x="407.5" y="55.7"/><rect x="409.2" y="59.9"/><rect x="417.8" y="59.2"/><rect x="407.4" y="58.7"/><rect x="411.7" y="58.4"/><rect x="409.5" y="57.0"/><rect x="420.2" y="61.0"/><rect x="413.2" y="59.5"/><rect x="410.5" y="57.8"/><rect x="408.9" y="57.6"/><rect x="420.3" y="60.5"/><rect x="416.3" y="56.2"/><rect x="408.7" y="56.2"/><rect x="414.0" y="56.9"/><rect x="409.9" y="59.1"/><rect x="416.7" y="56.6"/><rect x="416.2" y="56.3"/><rect x="416.1" y="54.5"/><rect x="418.4" y="58.3"/><rect x="408.6" y="60.2"/><rect x="415.5" y="56.8"/><rect x="411.8" y="60.8"/><rect x="416.8" y="57.6"/><rect x="412.6" y="58.1"/><rect x="410.1" y="59.1"/><rect x="410.2" y="57.8"/><rect x="418.0" y="54.9"/><rect x="412.2" y="54.4"/><rect x="417.9" y="57.3"/><rect x="416.3" y="58.1"/><rect x="416.2" y="60.7"/><rect x="412.9" y="57.4"/><rect x="417.9" y="60.6"/><rect x="417.4" y="58.4"/><rect x="415.3" y="59.2"/><rect x="416.2" y="55.5"/><rect x="417.3" y="54.6"/><rect x="412.7" y="61.1"/><rect x="419.1" y="55.7"/><rect x="411.0" y="56.9"/><rect x="408.9" y="56.5"/><rect x="416.3" y="56.3"/><rect x="419.0" y="60.1"/><rect x="417.2" y="58.6"/><rect x="416.7" y="55.6"/><rect x="409.7" y="59.8"/><rect x="412.1" y="59.0"/><rect x="418.8" y="59.1"/><rect x="414.2" y="56.1"/><rect x="417.9" y="56.1"/><rect x="415.4" y="56.3"/><rect x="411.1" y="58.7"/><rect x="413.7" y="58.5"/><rect x="414.9" y="59.1"/><rect x="408.4" y="60.3"/><rect x="410.4" y="55.3"/><rect x="410.7" y="57.7"/><rect x="415.6" y="59.8"/><rect x="416.1" y="59.9"/><rect x="414.4" y="55.9"/><rect x="412.4" y="60.2"/><rect x="409.7" y="55.5"/><rect x="416.1" y="58.7"/><rect x="410.9" y="59.7"/><rect x="411.2" y="52.7"/><rect x="415.0" y="56.3"/><rect x="409.8" y="55.9"/><rect x="411.1" y="54.2"/><rect x="409.4" y="54.9"/><rect x="409.2" y="60.2"/><rect x="407.8" y="60.4"/><rect x="411.6" y="53.3"/><rect x="408.3" y="59.0"/><rect x="413.8" y="56.4"/><rect x="412.6" y="59.7"/><rect x="410.5" y="56.4"/><rect x="415.8" y="58.1"/><rect x="412.9" y="57.8"/><rect x="411.3" y="57.6"/><rect x="410.2" y="54.3"/><rect x="415.6" y="59.5"/><rect x="416.1" y="57.4"/><rect x="416.3" y="59.1"/><rect x="409.5" y="55.4"/><rect x="407.3" y="59.3"/><rect x="415.1" y="58.7"/><rect x="412.1" y="58.2"/><rect x="412.7" y="56.9"/><rect x="415.6" y="55.7"/><rect x="414.2" y="56.7"/><rect x="412.7" y="61.4"/><rect x="416.7" y="61.2"/><rect x="407.3" y="56.9"/><rect x="416.4" y="54.4"/><rect x="414.9" y="59.4"/><rect x="408.4" y="57.7"/><rect x="416.3" y="58.6"/><rect x="417.2" y="58.8"/><rect x="408.0" y="53.3"/><rect x="410.8" y="53.9"/><rect x="417.1" y="60.0"/><rect x="409.5" y="56.9"/><rect x="418.1" y="57.5"/><rect x="412.6" y="55.7"/><rect x="413.7" y="56.5"/><rect x="411.9" y="58.0"/><rect x="411.8" y="56.4"/><rect x="418.9" y="59.2"/><rect x="413.3" y="56.4"/><rect x="408.1" y="56.7"/><rect x="409.9" y="57.8"/><rect x="409.7" y="56.4"/><rect x="413.5" y="54.8"/><rect x="421.0" y="56.3"/><rect x="410.0" y="57.3"/><rect x="408.3" y="60.4"/><rect x="408.9" y="61.7"/><rect x="407.7" y="56.9"/><rect x="415.1" y="56.9"/><rect x="406.6" y="55.9"/><rect x="410.9" y="53.8"/><rect x="411.1" y="57.4"/><rect x="410.6" y="56.6"/><rect x="417.6" y="58.0"/><rect x="409.2" y="59.2"/><rect x="418.0" y="59.2"/><rect x="411.6" y="56.8"/><rect x="414.7" y="59.0"/><rect x="414.8" y="56.9"/><rect x="414.1" y="62.3"/><rect x="416.7" y="54.3"/><rect x="408.2" y="56.4"/><rect x="407.8" y="53.3"/><rect x="411.2" y="55.3"/><rect x="408.1" y="60.3"/><rect x="414.9" y="59.8"/><rect x="407.3" y="56.5"/><rect x="411.3" y="56.1"/><rect x="409.7" y="59.5"/><rect x="411.2" y="56.2"/><rect x="414.4" y="57.5"/><rect x="408.6" y="61.0"/></g>
<g class="d" fill="#111" fill-opacity="0.2"><rect x="418.8" y="60.0"/><rect x="410.6" y="62.9"/><rect x="406.8" y="61.4"/><rect x="409.7" y="67.3"/><rect x="413.0" y="68.1"/><rect x="406.9" y="60.4"/><rect x="410.1" y="63.4"/><rect x="416.0" y="68.2"/><rect x="409.2" y="61.3"/><rect x="410.9" y="62.4"/><rect x="421.8" y="64.5"/><rect x="417.9" y="61.4"/><rect x="412.4" y="60.6"/><rect x="412.3" y="64.2"/><rect x="418.7" y="68.9"/><rect x="419.3" y="70.6"/><rect x="420.4" y="71.1"/><rect x="420.9" y="60.3"/><rect x="410.3" y="65.0"/><rect x="409.3" y="63.4"/><rect x="407.9" y="71.8"/><rect x="408.2" y="65.5"/><rect x="411.0" y="64.2"/><rect x="414.8" y="62.4"/><rect x="416.8" y="61.4"/><rect x="411.6" y="60.8"/><rect x="420.8" y="73.1"/><rect x="419.0" y="64.7"/><rect x="415.4" y="65.7"/><rect x="410.6" y="60.1"/><rect x="412.8" y="66.1"/><rect x="411.6" y="65.9"/><rect x="410.9" y="67.2"/><rect x="413.4" y="69.8"/><rect x="417.9" y="60.1"/><rect x="418.6" y="61.2"/><rect x="416.9" y="73.8"/><rect x="412.4" y="60.2"/><rect x="415.2" y="61.8"/><rect x="419.1" y="67.6"/><rect x="411.9" y="60.5"/><rect x="419.5" y="66.6"/><rect x="414.6" y="63.5"/><rect x="421.0" y="71.4"/><rect x="417.4" y="60.2"/><rect x="407.8" y="64.8"/><rect x="415.1" y="61.5"/><rect x="414.8" y="61.1"/><rect x="411.3" y="66.4"/><rect x="416.8" y="65.2"/><rect x="415.2" y="71.6"/><rect x="412.4" y="65.2"/><rect x="413.4" y="61.6"/><rect x="410.5" y="61.4"/><rect x="416.1" y="65.7"/><rect x="419.7" y="72.9"/><rect x="417.5" y="61.6"/><rect x="407.7" y="67.6"/><rect x="416.8" y="63.4"/><rect x="409.5" y="63.4"/><rect x="410.9" y="60.4"/><rect x="415.3" y="60.9"/><rect x="411.0" y="68.0"/><rect x="421.5" y="63.3"/><rect x="414.5" y="61.7"/><rect x="420.3" y="64.9"/><rect x="417.9" y="62.1"/><rect x="406.6" y="61.7"/><rect x="414.2" y="62.3"/><rect x="419.1" y="64.5"/><rect x="417.2" y="62.6"/><rect x="419.4" y="65.4"/><rect x="411.1" y="60.8"/><rect x="421.9" y="63.1"/><rect x="411.1" y="64.4"/><rect x="410.5" y="73.3"/><rect x="416.7" y="64.9"/><rect x="418.4" y="61.1"/><rect x="413.5" y="68.5"/><rect x="416.0" y="64.3"/><rect x="416.1" y="62.0"/><rect x="418.0" y="62.1"/><rect x="420.3" y="61.1"/><rect x="414.2" y="67.8"/><rect x="409.7" y="71.9"/><rect x="418.1" y="65.8"/><rect x="411.7" y="63.9"/><rect x="412.8" y="62.5"/><rect x="417.2" y="68.0"/><rect x="418.3" y="67.1"/><rect x="415.6" y="70.2"/><rect x="411.2" y="66.2"/><rect x="411.7" y="68.6"/><rect x="413.1" y="67.9"/><rect x="417.8" y="67.1"/><rect x="406.4" y="63.1"/><rect x="411.3" y="61.0"/><rect x="414.4" y="72.4"/><rect x="417.0" y="60.1"/><rect x="409.2" y="68.4"/><rect x="407.2" y="69.9"/><rect x="413.5" y="66.2"/><rect x="411.8" y="65.5"/><rect x="409.2" y="60.5"/><rect x="414.1" y="61.3"/><rect x="417.1" y="64.4"/><rect x="418.1" y="64.2"/><rect x="417.8" y="64.3"/><rect x="421.2" y="70.3"/><rect x="408.5" y="68.2"/><rect x="418.2" y="63.8"/><rect x="420.1" y="65.9"/><rect x="408.6" y="66.5"/><rect x="410.2" y="60.6"/><rect x="418.7" y="60.6"/><rect x="407.7" y="63.4"/><rect x="419.4" y="62.3"/><rect x="418.2" y="64.2"/><rect x="413.9" y="64.3"/><rect x="411.6" y="60.1"/><rect x="416.5" y="69.0"/><rect x="418.8" y="68.1"/><rect x="406.6" y="76.3"/><rect x="420.7" y="64.1"/><rect x="410.1" y="60.8"/><rect x="418.1" y="63.9"/><rect x="408.3" y="64.6"/><rect x="416.4" y="63.6"/><rect x="420.2" y="61.2"/><rect x="420.4" y="64.8"/><rect x="412.4" y="71.3"/><rect x="411.0" y="62.8"/><rect x="412.0" y="62.4"/><rect x="408.4" y="66.2"/><rect x="407.4" y="75.5"/><rect x="417.2" y="62.3"/><rect x="415.9" y="69.3"/><rect x="420.1" y="67.4"/><rect x="412.5" y="63.6"/><rect x="411.9" y="60.8"/><rect x="421.6" y="68.3"/><rect x="419.0" y="66.4"/><rect x="409.7" y="60.8"/><rect x="410.7" y="62.9"/><rect x="415.0" y="68.1"/><rect x="415.7" y="61.9"/><rect x="411.5" y="61.5"/><rect x="417.0" y="63.2"/><rect x="409.2" y="60.6"/><rect x="414.7" y="63.5"/><rect x="412.9" y="70.6"/><rect x="419.7" y="65.6"/><rect x="419.5" y="61.9"/><rect x="413.7" y="61.6"/><rect x="411.7" y="63.1"/><rect x="412.9" y="65.2"/><rect x="416.3" y="60.7"/><rect x="412.4" y="67.9"/><rect x="419.8" y="65.1"/><rect x="414.7" y="69.8"/><rect x="416.2" y="69.0"/><rect x="419.0" y="65.2"/><rect x="417.2" y="62.4"/><rect x="419.9" y="64.8"/><rect x="417.9" y="61.4"/><rect x="416.7" y="60.8"/><rect x="410.8" y="62.6"/><rect x="408.9" y="63.5"/><rect x="415.2" y="63.9"/><rect x="408.5" y="60.1"/><rect x="420.6" y="61.8"/><rect x="416.0" y="60.3"/><rect x="407.7" y="63.1"/><rect x="415.6" y="64.5"/><rect x="415.4" y="60.8"/><rect x="421.8" y="70.7"/><rect x="421.1" y="64.5"/><rect x="414.0" y="60.6"/><rect x="409.6" y="66.5"/><rect x="417.1" y="62.5"/><rect x="417.3" y="63.0"/><rect x="411.4" y="63.8"/><rect x="415.2" y="66.0"/><rect x="411.2" y="67.7"/><rect x="408.4" y="63.4"/><rect x="409.8" y="66.6"/><rect x="414.9" y="63.3"/><rect x="406.4" y="60.3"/><rect x="418.9" y="63.3"/><rect x="412.3" y="62.6"/><rect x="407.2" y="65.8"/><rect x="421.8" y="62.7"/><rect x="415.4" y="65.6"/><rect x="406.5" y="60.5"/><rect x="407.4" y="60.3"/><rect x="416.4" y="64.8"/><rect x="410.4" y="66.7"/><rect x="421.0" y="69.3"/><rect x="413.3" y="75.8"/><rect x="418.0" y="62.6"/><rect x="418.2" y="62.3"/><rect x="409.0" y="66.5"/><rect x="414.3" y="69.4"/><rect x="413.0" y="61.5"/><rect x="417.5" y="68.6"/><rect x="411.6" y="63.6"/><rect x="414.5" y="70.7"/><rect x="417.1" y="71.7"/><rect x="418.5" y="67.4"/><rect x="408.4" y="61.4"/><rect x="412.2" y="60.4"/><rect x="415.9" y="66.2"/><rect x="414.4" y="63.7"/><rect x="420.0" y="62.9"/><rect x="419.9" y="64.3"/><rect x="411.5" y="65.9"/><rect x="418.6" y="64.5"/><rect x="410.2" y="60.0"/><rect x="410.0" y="63.0"/><rect x="415.0" y="60.5"/><rect x="421.6" y="66.0"/><rect x="408.4" y="65.1"/><rect x="417.5" y="62.6"/><rect x="413.2" y="61.9"/><rect x="408.0" y="62.6"/><rect x="417.0" y="62.3"/><rect x="410.5" y="65.5"/><rect x="415.6" y="66.6"/><rect x="417.2" y="60.8"/><rect x="408.3" y="60.6"/><rect x="415.7" y="60.9"/><rect x="418.4" y="61.1"/><rect x="417.9" y="62.1"/><rect x="414.6" y="60.1"/><rect x="412.7" y="66.0"/><rect x="409.5" y="61.5"/><rect x="414.8" y="60.5"/><rect x="406.5" y="64.4"/><rect x="414.6" y="70.8"/><rect x="407.8" y="67.1"/><rect x="418.1" y="61.2"/><rect x="413.4" y="67.8"/><rect x="415.8" y="66.2"/><rect x="408.2" y="68.7"/><rect x="410.5" y="65.2"/><rect x="416.1" y="62.6"/><rect x="417.6" y="70.1"/><rect x="414.4" y="61.1"/><rect x="411.0" y="60.3"/><rect x="418.5" y="62.3"/><rect x="420.3" y="62.4"/><rect x="421.5" y="66.9"/><rect x="420.7" y="75.2"/><rect x="410.6" y="72.8"/><rect x="418.0" y="63.7"/><rect x="421.6" y="60.1"/><rect x="414.4" y="62.0"/><rect x="414.1" y="68.5"/><rect x="415.7" y="60.7"/><rect x="408.9" y="61.3"/><rect x="411.0" y="71.2"/><rect x="422.0" y="63.0"/><rect x="414.1" y="64.9"/><rect x="415.3" y="67.1"/><rect x="421.8" y="60.1"/><rect x="418.3" y="61.6"/><rect x="422.1" y="60.9"/><rect x="417.1" y="70.2"/><rect x="418.3" y="62.7"/><rect x="418.0" y="62.7"/><rect x="417.9" y="67.0"/><rect x="407.9" y="64.1"/><rect x="406.4" y="64.6"/><rect x="417.8" y="68.7"/><rect x="420.4" y="66.8"/><rect x="408.3" y="65.2"/><rect x="418.9" y="63.0"/><rect x="418.1" y="62.9"/><rect x="420.2" y="61.8"/><rect x="417.8" y="63.0"/><rect x="407.3" y="69.1"/><rect x="419.3" y="61.4"/><rect x="406.5" y="60.5"/><rect x="418.2" y="63.8"/><rect x="412.3" y="64.3"/><rect x="414.7" y="67.3"/><rect x="408.0" y="65.2"/><rect x="419.5" y="64.9"/><rect x="418.8" y="70.6"/><rect x="416.3" y="72.6"/><rect x="407.2" y="62.9"/><rect x="420.0" y="61.7"/><rect x="412.0" y="69.5"/><rect x="413.1" y="64.6"/><rect x="406.7" y="61.2"/><rect x="409.2" y="62.0"/><rect x="413.9" y="65.3"/><rect x="412.7" y="64.6"/><rect x="408.0" y="67.6"/><rect x="412.3" y="60.3"/><rect x="411.2" y="65.8"/><rect x="407.7" y="68.3"/><rect x="406.4" y="62.6"/><rect x="417.2" y="61.3"/><rect x="413.8" y="63.7"/><rect x="409.4" y="62.0"/><rect x="421.2" y="61.4"/><rect x="413.3" y="61.6"/><rect x="419.6" y="66.3"/><rect x="413.2" y="62.7"/><rect x="422.1" y="65.3"/><rect x="421.9" y="70.5"/><rect x="413.0" y="61.5"/><rect x="409.0" y="66.0"/><rect x="420.6" y="63.1"/><rect x="413.3" y="71.2"/><rect x="417.8" y="63.6"/><rect x="409.2" y="63.7"/><rect x="407.4" y="62.8"/><rect x="416.4" y="60.9"/><rect x="417.0" y="61.0"/><rect x="413.1" y="60.6"/><rect x="417.0" y="70.6"/><rect x="410.4" y="66.6"/><rect x="414.2" y="63.0"/><rect x="421.1" y="60.9"/><rect x="410.6" y="62.9"/><rect x="410.8" y="61.2"/><rect x="413.5" y="62.8"/><rect x="421.7" y="70.0"/><rect x="413.3" y="62.1"/><rect x="407.7" y="72.0"/><rect x="416.5" y="70.0"/><rect x="421.4" y="63.2"/><rect x="412.6" y="65.3"/><rect x="411.9" y="67.7"/><rect x="420.6" y="67.0"/><rect x="411.1" y="61.6"/></g>
<g class="d" fill="#111" fill-opacity="0.12"><rect x="425.9" y="56.5"/><rect x="425.1" y="56.8"/><rect x="427.2" y="56.8"/><rect x="424.9" y="60.4"/><rect x="426.2" y="58.9"/><rect x="422.0" y="52.9"/><rect x="422.7" y="55.8"/><rect x="427.7" y="56.8"/><rect x="427.3" y="57.3"/><rect x="426.6" y="51.0"/><rect x="424.6" y="56.2"/><rect x="422.2" y="60.4"/><rect x="425.1" y="59.5"/><rect x="421.9" y="62.1"/><rect x="423.7" y="57.5"/><rect x="424.8" y="54.3"/><rect x="431.6" y="61.4"/><rect x="430.1" y="61.3"/><rect x="421.9" y="57.8"/><rect x="428.7" y="57.0"/><rect x="425.6" y="56.8"/><rect x="424.3" y="56.8"/></g>
<line x1="421.20" y1="20.60" x2="421.20" y2="77.40" stroke="#aaa" stroke-width="0.7"/>
<line x1="405.40" y1="64.60" x2="480.90" y2="64.60" stroke="#aaa" stroke-width="0.7"/>
<rect x="405.40" y="20.60" width="75.50" height="56.80" fill="none" stroke="#555" stroke-width="1.0"/>
<text x="425.10" y="27.50" font-size="4.7" font-weight="bold" textLength="37.00" lengthAdjust="spacingAndGlyphs" fill="#222" stroke="#222" stroke-width="0.30">IFN-γ IL1-α DCp</text>
<text x="407.70" y="42.90" font-size="4.9" font-weight="bold" fill="#1a1a1a" stroke="#1a1a1a" stroke-width="0.30">65.63%</text>
<text x="407.70" y="49.30" font-size="4.9" font-weight="bold" fill="#1a1a1a" stroke="#1a1a1a" stroke-width="0.30">8914</text>
<text x="464.10" y="42.90" font-size="4.9" font-weight="bold" fill="#1a1a1a" stroke="#1a1a1a" stroke-width="0.30">0.68%</text>
<text x="464.10" y="49.30" font-size="4.9" font-weight="bold" fill="#1a1a1a" stroke="#1a1a1a" stroke-width="0.30">93</text>
<text x="407.70" y="74.70" font-size="4.9" font-weight="bold" fill="#1a1a1a" stroke="#1a1a1a" stroke-width="0.30">33.13%</text>
<text x="464.10" y="74.70" font-size="4.9" font-weight="bold" fill="#1a1a1a" stroke="#1a1a1a" stroke-width="0.30">0.55%</text>
<ellipse cx="334.1" cy="117.4" rx="6.8" ry="2.5" fill="#000" opacity="0.22" filter="url(#bl3)"/>
<g class="d" fill="#111" fill-opacity="0.35"><rect x="329.0" y="116.6"/><rect x="335.7" y="116.2"/><rect x="335.2" y="117.2"/><rect x="333.2" y="115.8"/><rect x="338.8" y="115.6"/><rect x="332.6" y="119.9"/><rect x="335.3" y="116.1"/><rect x="334.5" y="119.7"/><rect x="328.1" y="115.6"/><rect x="336.3" y="118.2"/><rect x="331.3" y="115.3"/><rect x="335.9" y="118.2"/><rect x="339.8" y="118.5"/><rect x="334.2" y="115.9"/><rect x="332.8" y="118.4"/><rect x="340.1" y="115.0"/><rect x="335.3" y="116.7"/><rect x="337.3" y="115.3"/><rect x="332.7" y="114.8"/><rect x="338.1" y="115.8"/><rect x="338.7" y="117.1"/><rect x="340.6" y="117.0"/><rect x="330.7" y="114.3"/><rect x="332.6" y="120.3"/><rect x="340.1" y="119.4"/><rect x="336.5" y="119.3"/><rect x="328.5" y="117.6"/><rect x="328.2" y="118.1"/><rect x="330.2" y="119.0"/><rect x="331.6" y="115.5"/><rect x="331.4" y="118.9"/><rect x="337.7" y="119.4"/><rect x="338.8" y="115.5"/><rect x="337.8" y="116.3"/><rect x="330.3" y="120.3"/><rect x="334.8" y="113.2"/><rect x="339.3" y="117.4"/><rect x="331.7" y="120.1"/><rect x="338.8" y="116.0"/><rect x="338.9" y="115.8"/><rect x="338.0" y="120.7"/><rect x="337.4" y="116.9"/><rect x="331.0" y="117.1"/><rect x="332.1" y="116.1"/><rect x="340.3" y="116.9"/><rect x="330.9" y="116.3"/><rect x="331.1" y="117.6"/><rect x="334.8" y="119.8"/><rect x="335.8" y="117.9"/><rect x="328.8" y="114.2"/><rect x="341.7" y="117.8"/><rect x="333.5" y="116.2"/><rect x="333.8" y="115.2"/><rect x="338.5" y="116.8"/><rect x="328.6" y="116.6"/><rect x="336.7" y="116.4"/><rect x="330.6" y="117.9"/><rect x="340.7" y="121.3"/><rect x="328.6" y="119.2"/><rect x="333.4" y="117.1"/><rect x="334.1" y="118.3"/><rect x="335.6" y="119.3"/><rect x="337.0" y="117.7"/><rect x="336.8" y="117.4"/><rect x="336.4" y="117.3"/><rect x="336.4" y="116.5"/><rect x="331.2" y="118.2"/><rect x="334.2" y="112.7"/><rect x="329.5" y="120.5"/><rect x="338.1" y="114.8"/><rect x="340.6" y="115.2"/><rect x="334.0" y="119.3"/><rect x="339.6" y="116.5"/><rect x="338.1" y="116.9"/><rect x="328.6" y="118.6"/><rect x="337.6" y="114.2"/><rect x="340.5" y="116.7"/><rect x="335.5" y="116.0"/><rect x="330.1" y="116.8"/><rect x="333.0" y="117.2"/><rect x="333.5" y="118.0"/><rect x="327.3" y="117.1"/><rect x="327.2" y="119.1"/><rect x="328.9" y="116.6"/><rect x="331.8" y="120.2"/><rect x="339.0" y="115.8"/><rect x="332.7" y="115.4"/><rect x="335.7" y="116.2"/><rect x="334.0" y="116.9"/><rect x="338.7" y="117.7"/><rect x="333.8" y="119.9"/><rect x="339.3" y="117.9"/><rect x="334.9" y="115.4"/><rect x="339.0" y="115.6"/><rect x="334.3" y="116.9"/><rect x="329.6" y="114.1"/><rect x="330.3" y="118.3"/><rect x="331.9" y="117.9"/><rect x="334.5" y="120.3"/><rect x="330.5" y="112.1"/><rect x="327.2" y="121.1"/><rect x="332.5" y="118.4"/><rect x="336.9" y="120.9"/><rect x="336.9" y="122.8"/><rect x="339.2" y="114.8"/><rect x="338.3" y="117.0"/><rect x="331.0" y="115.4"/><rect x="341.2" y="115.4"/><rect x="328.3" y="115.7"/><rect x="335.5" y="115.3"/><rect x="338.4" y="116.8"/><rect x="339.8" y="121.0"/><rect x="339.9" y="118.6"/><rect x="335.3" y="117.9"/><rect x="336.9" y="118.3"/><rect x="337.5" y="114.0"/><rect x="329.1" y="115.7"/><rect x="339.6" y="118.0"/><rect x="331.1" y="117.3"/><rect x="336.4" y="120.1"/><rect x="328.6" y="117.6"/><rect x="329.7" y="120.9"/><rect x="331.6" y="119.5"/><rect x="337.9" y="115.6"/><rect x="341.3" y="114.7"/><rect x="338.7" y="114.6"/><rect x="335.4" y="120.1"/><rect x="332.1" y="119.4"/><rect x="337.8" y="116.6"/><rect x="341.6" y="115.5"/><rect x="336.9" y="115.7"/><rect x="337.9" y="112.7"/><rect x="334.3" y="119.6"/><rect x="341.1" y="116.2"/><rect x="335.6" y="120.0"/><rect x="331.8" y="118.0"/><rect x="337.3" y="119.1"/><rect x="338.2" y="119.4"/><rect x="338.7" y="117.0"/><rect x="336.9" y="115.7"/><rect x="337.3" y="119.5"/><rect x="328.6" y="115.1"/><rect x="331.1" y="116.9"/><rect x="328.1" y="116.6"/><rect x="336.4" y="117.7"/><rect x="335.5" y="115.6"/><rect x="336.6" y="116.2"/><rect x="330.7" y="115.3"/><rect x="333.2" y="117.7"/><rect x="338.5" y="118.6"/><rect x="328.6" y="116.5"/><rect x="333.0" y="117.0"/><rect x="339.2" y="116.4"/><rect x="333.9" y="119.1"/><rect x="336.0" y="115.2"/><rect x="339.9" y="117.4"/><rect x="336.5" y="117.0"/><rect x="338.6" y="119.1"/><rect x="330.0" y="117.8"/><rect x="340.7" y="117.6"/><rect x="335.9" y="116.6"/><rect x="339.2" y="115.4"/><rect x="339.6" y="115.9"/><rect x="332.6" y="116.1"/><rect x="335.1" y="117.3"/><rect x="331.3" y="116.8"/><rect x="335.1" y="117.1"/><rect x="335.1" y="115.0"/><rect x="328.3" y="119.8"/><rect x="335.4" y="115.8"/><rect x="328.1" y="116.1"/><rect x="332.1" y="118.5"/><rect x="335.9" y="120.9"/><rect x="328.9" y="115.1"/><rect x="331.0" y="118.9"/><rect x="331.1" y="117.3"/><rect x="326.6" y="113.1"/><rect x="331.7" y="119.9"/><rect x="330.0" y="118.0"/><rect x="339.5" y="118.7"/><rect x="334.0" y="115.7"/><rect x="332.1" y="115.7"/><rect x="334.6" y="117.5"/><rect x="332.6" y="117.4"/><rect x="336.7" y="118.9"/><rect x="330.5" y="116.5"/><rect x="336.7" y="116.7"/><rect x="338.2" y="117.3"/><rect x="338.9" y="116.2"/><rect x="335.1" y="118.9"/><rect x="330.1" y="113.2"/><rect x="335.7" y="119.1"/><rect x="336.0" y="115.1"/><rect x="339.8" y="117.6"/><rect x="334.3" y="120.1"/><rect x="338.4" y="118.4"/><rect x="327.4" y="118.1"/><rect x="327.1" y="120.3"/><rect x="331.0" y="117.2"/><rect x="337.9" y="121.2"/><rect x="335.1" y="115.7"/><rect x="331.6" y="117.1"/><rect x="330.7" y="119.3"/><rect x="337.5" y="119.9"/><rect x="341.2" y="117.5"/><rect x="331.3" y="117.8"/><rect x="331.0" y="119.1"/><rect x="327.3" y="116.7"/><rect x="338.8" y="117.6"/><rect x="334.0" y="117.8"/><rect x="334.9" y="119.0"/><rect x="339.1" y="113.2"/><rect x="329.8" y="116.4"/><rect x="335.6" y="114.2"/><rect x="334.6" y="116.0"/><rect x="329.5" y="118.3"/><rect x="334.5" y="116.6"/><rect x="333.2" y="116.6"/><rect x="332.9" y="117.2"/><rect x="333.3" y="116.7"/><rect x="334.5" y="117.6"/><rect x="333.6" y="120.3"/><rect x="338.2" y="118.1"/><rect x="330.6" y="115.4"/><rect x="340.4" y="117.9"/><rect x="337.3" y="117.9"/><rect x="333.5" y="118.0"/><rect x="338.5" y="114.6"/><rect x="338.7" y="115.4"/><rect x="340.8" y="115.5"/><rect x="339.9" y="112.6"/><rect x="338.7" y="116.0"/><rect x="337.2" y="117.3"/><rect x="333.8" y="118.1"/><rect x="335.3" y="118.2"/><rect x="333.5" y="116.7"/><rect x="329.4" y="119.2"/><rect x="329.7" y="118.5"/><rect x="340.1" y="113.4"/><rect x="339.6" y="119.2"/><rect x="336.8" y="117.1"/><rect x="331.1" y="118.8"/><rect x="331.7" y="120.6"/><rect x="340.3" y="117.1"/><rect x="327.5" y="118.5"/><rect x="337.9" y="116.6"/><rect x="337.1" y="118.3"/><rect x="337.8" y="119.1"/><rect x="329.7" y="116.2"/><rect x="330.7" y="118.2"/><rect x="342.1" y="116.5"/><rect x="329.4" y="117.8"/><rect x="328.7" y="120.2"/><rect x="331.1" y="117.4"/><rect x="335.4" y="116.2"/><rect x="335.9" y="116.4"/><rect x="338.2" y="117.0"/><rect x="328.9" y="120.3"/><rect x="336.4" y="117.3"/><rect x="331.3" y="119.1"/><rect x="337.8" y="115.4"/><rect x="331.9" y="116.6"/><rect x="333.8" y="117.7"/><rect x="337.5" y="118.2"/><rect x="336.9" y="115.4"/><rect x="342.6" y="117.9"/><rect x="336.2" y="112.8"/><rect x="331.9" y="119.8"/><rect x="340.3" y="118.8"/><rect x="338.6" y="117.1"/><rect x="331.0" y="116.4"/><rect x="331.8" y="116.3"/><rect x="335.7" y="118.4"/><rect x="335.1" y="115.5"/><rect x="330.3" y="114.5"/><rect x="327.1" y="115.4"/><rect x="338.7" y="115.8"/><rect x="328.3" y="117.5"/><rect x="327.0" y="117.3"/><rect x="341.0" y="115.5"/><rect x="333.0" y="115.7"/><rect x="328.0" y="112.8"/><rect x="337.4" y="114.8"/><rect x="330.6" y="121.2"/><rect x="334.7" y="120.1"/><rect x="337.6" y="116.8"/><rect x="328.8" y="117.1"/><rect x="341.4" y="118.4"/><rect x="335.1" y="116.2"/><rect x="330.8" y="116.8"/><rect x="337.1" y="118.6"/><rect x="337.4" y="117.3"/><rect x="333.8" y="117.5"/><rect x="340.7" y="112.3"/><rect x="328.6" y="114.4"/><rect x="333.7" y="116.6"/><rect x="340.2" y="117.1"/><rect x="330.1" y="115.6"/><rect x="339.3" y="117.0"/><rect x="330.5" y="115.9"/><rect x="340.6" y="114.9"/><rect x="339.3" y="115.6"/><rect x="335.1" y="117.6"/><rect x="329.2" y="117.9"/><rect x="337.7" y="117.4"/><rect x="328.3" y="115.6"/><rect x="338.3" y="116.8"/><rect x="341.2" y="116.2"/><rect x="337.4" y="116.7"/><rect x="330.0" y="119.6"/><rect x="333.9" y="117.2"/><rect x="333.4" y="118.8"/><rect x="340.6" y="117.6"/><rect x="332.5" y="117.9"/><rect x="339.6" y="114.0"/><rect x="334.1" y="117.2"/><rect x="333.8" y="118.1"/><rect x="338.9" y="119.7"/><rect x="330.7" y="113.7"/><rect x="343.6" y="120.2"/><rect x="329.2" y="112.4"/><rect x="327.8" y="115.5"/><rect x="338.9" y="114.9"/><rect x="331.8" y="116.6"/><rect x="335.8" y="114.1"/><rect x="330.5" y="119.1"/><rect x="331.1" y="117.1"/><rect x="341.0" y="119.7"/><rect x="337.2" y="117.9"/><rect x="341.8" y="116.2"/><rect x="328.7" y="117.6"/><rect x="327.6" y="115.5"/><rect x="329.7" y="118.9"/><rect x="330.7" y="117.8"/><rect x="333.5" y="115.3"/><rect x="334.5" y="118.7"/><rect x="334.4" y="117.9"/><rect x="334.3" y="117.4"/><rect x="331.7" y="122.1"/><rect x="337.0" y="117.6"/><rect x="332.2" y="120.8"/><rect x="339.9" y="116.9"/><rect x="337.1" y="119.7"/><rect x="342.0" y="119.4"/><rect x="336.8" y="118.5"/><rect x="334.2" y="113.2"/><rect x="333.9" y="116.5"/><rect x="330.4" y="116.9"/><rect x="337.1" y="116.7"/><rect x="336.9" y="116.6"/><rect x="334.4" y="119.5"/><rect x="335.3" y="115.4"/><rect x="332.6" y="118.4"/><rect x="335.9" y="115.1"/><rect x="336.0" y="114.9"/><rect x="334.6" y="116.6"/><rect x="336.5" y="117.5"/><rect x="342.9" y="117.9"/><rect x="339.1" y="112.4"/><rect x="329.3" y="114.8"/><rect x="334.7" y="117.7"/><rect x="339.1" y="119.9"/><rect x="329.3" y="116.9"/><rect x="339.7" y="116.2"/><rect x="341.0" y="119.2"/><rect x="336.7" y="119.7"/><rect x="332.5" y="112.6"/><rect x="340.9" y="118.8"/><rect x="336.9" y="117.5"/><rect x="337.4" y="116.2"/><rect x="337.6" y="115.9"/><rect x="334.9" y="116.7"/><rect x="341.0" y="116.2"/><rect x="341.7" y="113.2"/><rect x="332.0" y="120.6"/><rect x="330.7" y="120.0"/><rect x="333.6" y="116.9"/><rect x="333.2" y="116.3"/><rect x="333.4" y="116.9"/><rect x="328.4" y="117.3"/><rect x="339.0" y="116.4"/><rect x="341.0" y="115.6"/><rect x="332.4" y="118.0"/><rect x="328.8" y="114.4"/><rect x="335.4" y="120.8"/><rect x="331.4" y="114.9"/><rect x="336.6" y="117.9"/><rect x="335.0" y="117.9"/><rect x="338.5" y="119.0"/><rect x="337.8" y="119.5"/><rect x="329.0" y="115.9"/><rect x="328.0" y="117.8"/><rect x="335.3" y="117.9"/><rect x="335.0" y="117.5"/><rect x="327.7" y="114.0"/><rect x="334.4" y="116.9"/><rect x="330.9" y="116.3"/><rect x="340.1" y="115.0"/><rect x="332.9" y="114.9"/><rect x="331.5" y="115.7"/><rect x="328.3" y="118.9"/><rect x="334.9" y="118.3"/><rect x="331.8" y="117.5"/><rect x="329.8" y="117.0"/><rect x="338.2" y="112.7"/><rect x="341.9" y="114.2"/><rect x="332.9" y="115.9"/><rect x="341.7" y="118.0"/><rect x="334.7" y="116.4"/><rect x="334.5" y="122.2"/><rect x="332.1" y="119.7"/><rect x="334.9" y="115.1"/><rect x="334.9" y="114.3"/><rect x="339.0" y="117.9"/><rect x="340.0" y="115.0"/><rect x="327.7" y="117.4"/><rect x="329.6" y="118.9"/><rect x="338.7" y="115.7"/><rect x="336.1" y="117.8"/><rect x="337.2" y="118.8"/><rect x="338.0" y="118.6"/><rect x="332.0" y="117.1"/><rect x="330.2" y="116.2"/><rect x="332.6" y="116.8"/><rect x="328.9" y="119.6"/><rect x="333.5" y="119.0"/><rect x="327.3" y="113.9"/><rect x="337.0" y="115.9"/><rect x="331.1" y="117.8"/><rect x="329.3" y="115.3"/><rect x="338.5" y="115.5"/><rect x="329.9" y="119.6"/><rect x="335.6" y="119.1"/><rect x="330.2" y="118.9"/><rect x="336.6" y="118.3"/><rect x="335.6" y="115.5"/><rect x="331.9" y="117.5"/><rect x="343.5" y="114.9"/><rect x="330.4" y="120.0"/><rect x="331.0" y="118.1"/><rect x="338.0" y="117.7"/><rect x="336.6" y="115.0"/><rect x="331.6" y="117.5"/><rect x="333.5" y="118.4"/><rect x="340.7" y="117.1"/><rect x="340.3" y="116.8"/><rect x="331.9" y="118.2"/><rect x="330.3" y="115.9"/><rect x="337.0" y="116.5"/><rect x="329.9" y="116.0"/><rect x="336.9" y="114.8"/><rect x="331.2" y="119.1"/><rect x="332.7" y="117.5"/><rect x="330.0" y="118.7"/><rect x="329.5" y="117.7"/><rect x="333.0" y="119.0"/><rect x="333.1" y="116.8"/><rect x="331.4" y="118.6"/><rect x="333.3" y="118.3"/><rect x="329.5" y="114.9"/><rect x="334.2" y="116.1"/><rect x="338.8" y="121.8"/><rect x="330.8" y="115.7"/></g>
<g class="d" fill="#111" fill-opacity="0.2"><rect x="331.9" y="121.6"/><rect x="344.5" y="126.2"/><rect x="335.1" y="120.6"/><rect x="331.7" y="132.2"/><rect x="336.5" y="128.6"/><rect x="340.3" y="128.5"/><rect x="330.2" y="127.5"/><rect x="337.2" y="124.8"/><rect x="337.3" y="129.8"/><rect x="333.9" y="122.1"/><rect x="333.1" y="121.1"/><rect x="342.9" y="121.7"/><rect x="331.4" y="123.3"/><rect x="331.4" y="124.2"/><rect x="342.3" y="125.6"/><rect x="338.1" y="127.6"/><rect x="327.4" y="122.6"/><rect x="337.5" y="129.9"/><rect x="335.3" y="126.2"/><rect x="344.0" y="133.3"/><rect x="332.9" y="121.3"/><rect x="336.5" y="128.7"/><rect x="343.0" y="128.6"/><rect x="327.0" y="126.4"/><rect x="332.2" y="129.2"/><rect x="328.5" y="128.7"/><rect x="326.7" y="122.0"/><rect x="339.6" y="120.2"/><rect x="342.1" y="121.2"/><rect x="335.2" y="125.1"/><rect x="330.1" y="120.8"/><rect x="328.6" y="119.8"/><rect x="343.6" y="129.3"/><rect x="331.8" y="127.0"/><rect x="338.8" y="121.3"/><rect x="327.1" y="122.8"/><rect x="330.1" y="119.7"/><rect x="330.4" y="126.0"/><rect x="333.2" y="136.5"/><rect x="335.5" y="121.7"/><rect x="340.0" y="132.1"/><rect x="336.0" y="120.9"/><rect x="332.5" y="121.8"/><rect x="327.7" y="121.9"/><rect x="342.6" y="123.1"/><rect x="332.1" y="122.2"/><rect x="338.9" y="120.7"/><rect x="329.8" y="126.5"/><rect x="342.8" y="119.8"/><rect x="341.9" y="126.5"/><rect x="342.2" y="121.9"/><rect x="328.1" y="123.2"/><rect x="337.0" y="128.3"/><rect x="335.6" y="123.2"/><rect x="337.2" y="129.2"/><rect x="342.4" y="126.9"/><rect x="327.7" y="124.1"/><rect x="329.3" y="122.7"/><rect x="327.7" y="119.5"/><rect x="333.9" y="125.8"/><rect x="337.4" y="126.0"/><rect x="329.4" y="129.5"/><rect x="327.7" y="121.9"/><rect x="339.7" y="128.7"/><rect x="331.8" y="129.3"/><rect x="334.5" y="127.5"/><rect x="333.4" y="128.8"/><rect x="331.9" y="124.5"/><rect x="334.9" y="124.0"/><rect x="328.7" y="126.9"/><rect x="337.8" y="125.8"/><rect x="336.8" y="120.0"/><rect x="328.5" y="119.8"/><rect x="331.0" y="120.6"/><rect x="335.7" y="123.6"/><rect x="327.6" y="124.7"/><rect x="336.7" y="121.3"/><rect x="344.4" y="119.5"/><rect x="338.9" y="119.5"/><rect x="330.2" y="122.5"/><rect x="336.6" y="119.5"/><rect x="327.5" y="121.9"/><rect x="343.5" y="120.2"/><rect x="326.6" y="130.3"/><rect x="328.7" y="129.4"/><rect x="330.7" y="126.6"/><rect x="340.1" y="121.0"/><rect x="337.3" y="127.3"/><rect x="335.1" y="127.2"/><rect x="332.4" y="122.1"/><rect x="337.9" y="121.9"/><rect x="329.6" y="121.9"/><rect x="342.6" y="120.5"/><rect x="330.5" y="123.6"/><rect x="343.1" y="119.8"/><rect x="329.0" y="121.1"/><rect x="329.8" y="133.9"/><rect x="334.7" y="120.2"/><rect x="337.1" y="122.3"/><rect x="332.2" y="119.8"/><rect x="332.9" y="127.1"/><rect x="342.5" y="127.3"/><rect x="342.0" y="125.2"/><rect x="333.0" y="122.1"/><rect x="326.7" y="124.1"/><rect x="329.6" y="120.1"/><rect x="335.7" y="126.7"/><rect x="335.9" y="121.1"/><rect x="342.9" y="120.3"/><rect x="335.5" y="120.5"/><rect x="342.3" y="124.8"/><rect x="335.0" y="127.5"/><rect x="332.4" y="126.6"/><rect x="337.5" y="123.1"/><rect x="332.0" y="120.6"/><rect x="342.4" y="126.1"/><rect x="342.6" y="124.5"/><rect x="336.7" y="120.3"/><rect x="333.4" y="123.8"/><rect x="330.5" y="123.0"/><rect x="328.1" y="120.1"/><rect x="333.2" y="121.4"/><rect x="339.6" y="127.1"/><rect x="335.7" y="132.5"/><rect x="340.9" y="130.2"/><rect x="338.1" y="120.7"/><rect x="329.7" y="127.0"/><rect x="339.8" y="120.9"/><rect x="343.8" y="121.9"/><rect x="343.4" y="125.4"/><rect x="340.2" y="122.7"/><rect x="337.6" y="122.6"/><rect x="344.3" y="124.5"/><rect x="343.0" y="124.6"/><rect x="342.1" y="126.4"/><rect x="338.5" y="123.0"/><rect x="336.8" y="123.0"/><rect x="328.4" y="124.8"/><rect x="340.8" y="119.5"/><rect x="326.8" y="124.4"/><rect x="337.8" y="119.5"/><rect x="327.7" y="122.9"/><rect x="332.4" y="124.5"/><rect x="342.0" y="121.7"/><rect x="341.3" y="125.9"/><rect x="334.6" y="128.1"/><rect x="333.9" y="125.0"/><rect x="337.6" y="122.6"/><rect x="327.4" y="121.2"/><rect x="339.5" y="120.2"/><rect x="337.1" y="127.2"/><rect x="333.4" y="120.8"/><rect x="333.6" y="125.2"/><rect x="343.4" y="124.9"/><rect x="334.6" y="119.8"/><rect x="336.0" y="126.7"/><rect x="341.9" y="123.7"/><rect x="344.0" y="122.2"/><rect x="332.9" y="124.1"/><rect x="333.8" y="123.0"/><rect x="332.0" y="128.1"/><rect x="342.3" y="128.1"/><rect x="344.6" y="129.2"/><rect x="331.8" y="120.6"/><rect x="339.2" y="126.8"/><rect x="329.7" y="120.9"/><rect x="334.6" y="124.1"/><rect x="339.3" y="123.6"/><rect x="333.6" y="121.6"/><rect x="338.8" y="124.8"/><rect x="326.6" y="123.1"/><rect x="329.8" y="129.1"/><rect x="333.6" y="126.6"/><rect x="339.0" y="120.6"/><rect x="335.1" y="124.6"/><rect x="331.4" y="120.3"/><rect x="326.8" y="122.7"/><rect x="326.7" y="121.1"/><rect x="342.8" y="120.8"/><rect x="335.5" y="127.5"/><rect x="326.6" y="123.8"/><rect x="340.4" y="127.1"/><rect x="335.4" y="120.4"/><rect x="336.2" y="121.5"/><rect x="329.8" y="120.3"/><rect x="334.7" y="127.5"/><rect x="328.9" y="124.1"/><rect x="332.7" y="122.9"/><rect x="330.6" y="122.4"/><rect x="339.8" y="131.3"/><rect x="343.7" y="119.5"/><rect x="329.5" y="121.0"/><rect x="330.9" y="125.5"/><rect x="334.5" y="128.4"/><rect x="344.3" y="124.8"/><rect x="340.7" y="128.0"/><rect x="329.9" y="127.8"/><rect x="334.0" y="132.3"/><rect x="340.5" y="132.8"/><rect x="336.2" y="121.3"/><rect x="334.9" y="119.6"/><rect x="330.7" y="121.8"/><rect x="330.1" y="120.7"/><rect x="342.3" y="119.9"/><rect x="342.8" y="124.6"/><rect x="331.5" y="119.6"/><rect x="338.3" y="122.3"/><rect x="333.5" y="123.8"/><rect x="340.7" y="124.6"/><rect x="330.5" y="120.3"/><rect x="339.4" y="124.2"/><rect x="334.7" y="122.7"/><rect x="340.9" y="123.9"/><rect x="332.8" y="130.0"/><rect x="328.4" y="123.1"/><rect x="343.2" y="121.7"/><rect x="344.7" y="120.2"/><rect x="326.6" y="126.0"/><rect x="343.2" y="120.2"/><rect x="338.6" y="125.9"/><rect x="337.2" y="130.6"/><rect x="341.2" y="122.6"/><rect x="335.0" y="120.6"/><rect x="334.4" y="121.4"/><rect x="338.0" y="122.7"/><rect x="339.7" y="123.5"/><rect x="332.6" y="122.3"/><rect x="328.1" y="134.9"/><rect x="331.8" y="122.8"/><rect x="343.3" y="122.7"/><rect x="331.7" y="120.2"/><rect x="334.5" y="125.7"/><rect x="328.9" y="123.8"/><rect x="339.1" y="121.1"/><rect x="344.3" y="122.2"/><rect x="341.7" y="124.2"/><rect x="331.9" y="124.0"/><rect x="333.5" y="119.7"/><rect x="344.5" y="122.5"/><rect x="335.6" y="121.7"/><rect x="328.1" y="126.2"/><rect x="327.0" y="127.4"/><rect x="332.0" y="121.3"/><rect x="327.5" y="120.7"/><rect x="330.3" y="120.3"/><rect x="329.4" y="124.3"/><rect x="333.0" y="128.0"/><rect x="344.0" y="129.3"/><rect x="344.5" y="123.0"/><rect x="337.4" y="119.5"/><rect x="343.6" y="132.4"/><rect x="329.1" y="121.1"/><rect x="328.8" y="120.8"/><rect x="341.2" y="130.9"/><rect x="338.2" y="124.2"/><rect x="328.4" y="120.3"/><rect x="337.2" y="127.9"/><rect x="328.7" y="124.0"/><rect x="340.9" y="128.3"/><rect x="333.4" y="121.0"/><rect x="338.6" y="126.2"/><rect x="340.0" y="126.1"/><rect x="339.6" y="124.1"/><rect x="339.8" y="122.1"/><rect x="327.6" y="120.9"/><rect x="335.8" y="122.1"/><rect x="341.3" y="123.2"/></g>
<g class="d" fill="#111" fill-opacity="0.12"><rect x="355.6" y="116.1"/><rect x="344.7" y="114.7"/><rect x="353.3" y="119.7"/><rect x="345.1" y="118.0"/><rect x="346.3" y="116.5"/><rect x="345.4" y="122.1"/><rect x="349.5" y="116.5"/><rect x="347.4" y="113.2"/><rect x="350.3" y="115.7"/><rect x="344.9" y="116.8"/><rect x="352.2" y="117.6"/><rect x="348.0" y="116.4"/><rect x="346.3" y="116.3"/><rect x="349.9" y="114.3"/><rect x="347.2" y="121.2"/><rect x="344.5" y="119.6"/><rect x="344.2" y="116.0"/><rect x="353.0" y="118.0"/><rect x="348.0" y="118.5"/><rect x="352.7" y="119.2"/><rect x="349.2" y="115.4"/><rect x="354.2" y="118.0"/></g>
<line x1="343.80" y1="81.90" x2="343.80" y2="138.30" stroke="#aaa" stroke-width="0.7"/>
<line x1="325.60" y1="124.80" x2="401.60" y2="124.80" stroke="#aaa" stroke-width="0.7"/>
<rect x="325.60" y="81.90" width="76.00" height="56.40" fill="none" stroke="#555" stroke-width="1.0"/>
<text x="344.80" y="86.70" font-size="4.7" font-weight="bold" textLength="28.40" lengthAdjust="spacingAndGlyphs" fill="#222" stroke="#222" stroke-width="0.30">MKK6 K82A</text>
<text x="329.10" y="103.40" font-size="4.9" font-weight="bold" fill="#1a1a1a" stroke="#1a1a1a" stroke-width="0.30">60.96%</text>
<text x="329.10" y="109.60" font-size="4.9" font-weight="bold" fill="#1a1a1a" stroke="#1a1a1a" stroke-width="0.30">6716</text>
<text x="385.60" y="103.40" font-size="4.9" font-weight="bold" fill="#1a1a1a" stroke="#1a1a1a" stroke-width="0.30">0.67%</text>
<text x="385.60" y="109.60" font-size="4.9" font-weight="bold" fill="#1a1a1a" stroke="#1a1a1a" stroke-width="0.30">74</text>
<text x="329.10" y="136.00" font-size="4.9" font-weight="bold" fill="#1a1a1a" stroke="#1a1a1a" stroke-width="0.30">37.82%</text>
<text x="385.60" y="136.00" font-size="4.9" font-weight="bold" fill="#1a1a1a" stroke="#1a1a1a" stroke-width="0.30">0.84%</text>
<ellipse cx="413.2" cy="118.4" rx="6.2" ry="2.7" fill="#000" opacity="0.33" filter="url(#bl3)"/>
<g class="d" fill="#111" fill-opacity="0.35"><rect x="416.5" y="119.3"/><rect x="416.1" y="119.2"/><rect x="415.5" y="119.8"/><rect x="418.3" y="117.6"/><rect x="408.9" y="122.3"/><rect x="407.9" y="119.4"/><rect x="408.0" y="118.2"/><rect x="412.0" y="115.1"/><rect x="412.7" y="115.7"/><rect x="417.0" y="120.4"/><rect x="416.1" y="117.4"/><rect x="413.0" y="120.1"/><rect x="413.1" y="118.0"/><rect x="415.5" y="117.8"/><rect x="410.1" y="118.5"/><rect x="412.3" y="119.4"/><rect x="420.3" y="120.6"/><rect x="417.0" y="119.7"/><rect x="420.9" y="118.2"/><rect x="416.1" y="116.7"/><rect x="412.6" y="117.2"/><rect x="414.6" y="119.6"/><rect x="407.8" y="118.6"/><rect x="416.2" y="116.5"/><rect x="413.2" y="117.3"/><rect x="410.0" y="117.0"/><rect x="410.5" y="118.7"/><rect x="413.3" y="116.7"/><rect x="416.5" y="116.3"/><rect x="417.5" y="122.8"/><rect x="407.8" y="121.3"/><rect x="417.8" y="116.6"/><rect x="410.9" y="117.8"/><rect x="409.4" y="116.4"/><rect x="408.3" y="119.2"/><rect x="417.0" y="121.7"/><rect x="415.6" y="119.9"/><rect x="411.9" y="120.1"/><rect x="411.7" y="116.3"/><rect x="409.6" y="114.0"/><rect x="412.4" y="117.2"/><rect x="420.0" y="118.5"/><rect x="407.2" y="119.8"/><rect x="411.5" y="114.7"/><rect x="416.1" y="119.0"/><rect x="415.8" y="118.1"/><rect x="409.8" y="117.4"/><rect x="417.9" y="115.0"/><rect x="416.7" y="120.0"/><rect x="412.8" y="114.7"/><rect x="414.7" y="117.3"/><rect x="408.6" y="115.8"/><rect x="412.8" y="112.6"/><rect x="419.3" y="119.5"/><rect x="414.1" y="116.8"/><rect x="415.7" y="119.3"/><rect x="408.0" y="118.8"/><rect x="412.9" y="117.7"/><rect x="413.8" y="120.2"/><rect x="412.0" y="119.4"/><rect x="414.3" y="120.5"/><rect x="415.4" y="120.6"/><rect x="410.2" y="121.2"/><rect x="408.0" y="119.0"/><rect x="414.1" y="123.6"/><rect x="412.1" y="116.2"/><rect x="416.3" y="115.5"/><rect x="409.4" y="121.1"/><rect x="414.3" y="117.9"/><rect x="416.9" y="113.0"/><rect x="416.5" y="117.6"/><rect x="411.5" y="119.4"/><rect x="417.5" y="117.9"/><rect x="412.8" y="118.6"/><rect x="417.2" y="114.6"/><rect x="410.1" y="117.2"/><rect x="412.0" y="118.0"/><rect x="411.5" y="122.5"/><rect x="412.9" y="116.2"/><rect x="415.1" y="116.6"/><rect x="411.1" y="121.0"/><rect x="413.2" y="115.4"/><rect x="415.1" y="117.4"/><rect x="418.2" y="118.1"/><rect x="415.8" y="119.4"/><rect x="410.6" y="116.5"/><rect x="412.3" y="118.2"/><rect x="409.0" y="119.7"/><rect x="411.1" y="119.9"/><rect x="413.0" y="114.0"/><rect x="418.9" y="118.1"/><rect x="412.6" y="118.4"/><rect x="417.7" y="119.9"/><rect x="407.2" y="118.1"/><rect x="413.1" y="118.8"/><rect x="413.9" y="117.0"/><rect x="415.5" y="119.3"/><rect x="410.7" y="116.8"/><rect x="416.3" y="121.8"/><rect x="409.2" y="121.4"/><rect x="417.0" y="119.7"/><rect x="418.0" y="117.9"/><rect x="417.7" y="117.7"/><rect x="412.0" y="120.4"/><rect x="410.5" y="120.8"/><rect x="412.2" y="115.4"/><rect x="420.0" y="121.8"/><rect x="417.1" y="122.6"/><rect x="413.7" y="119.7"/><rect x="419.3" y="116.9"/><rect x="420.0" y="119.2"/><rect x="417.0" y="115.0"/><rect x="416.8" y="116.4"/><rect x="416.0" y="119.8"/><rect x="413.8" y="120.6"/><rect x="416.8" y="120.8"/><rect x="412.8" y="118.1"/><rect x="413.6" y="120.5"/><rect x="411.9" y="118.7"/><rect x="415.2" y="115.8"/><rect x="418.0" y="119.3"/><rect x="410.7" y="115.4"/><rect x="407.1" y="117.3"/><rect x="414.3" y="119.1"/><rect x="412.6" y="123.2"/><rect x="412.8" y="119.5"/><rect x="412.4" y="118.3"/><rect x="416.1" y="118.2"/><rect x="415.7" y="117.5"/><rect x="417.8" y="117.7"/><rect x="415.8" y="119.2"/><rect x="410.2" y="119.1"/><rect x="417.3" y="113.5"/><rect x="415.0" y="116.5"/><rect x="419.8" y="120.2"/><rect x="416.8" y="118.8"/><rect x="413.9" y="121.6"/><rect x="412.7" y="115.8"/><rect x="416.7" y="118.4"/><rect x="416.5" y="121.1"/><rect x="418.1" y="117.6"/><rect x="418.8" y="117.9"/><rect x="408.6" y="119.0"/><rect x="409.3" y="115.9"/><rect x="412.5" y="117.2"/><rect x="418.8" y="116.6"/><rect x="408.1" y="118.7"/><rect x="414.9" y="120.4"/><rect x="411.3" y="120.9"/><rect x="414.8" y="116.9"/><rect x="414.0" y="117.2"/><rect x="414.4" y="120.6"/><rect x="416.5" y="115.4"/><rect x="411.9" y="116.8"/><rect x="409.3" y="117.4"/><rect x="418.7" y="118.1"/><rect x="419.4" y="117.7"/><rect x="414.3" y="118.0"/><rect x="417.0" y="118.5"/><rect x="413.8" y="116.4"/><rect x="409.0" y="118.9"/><rect x="414.5" y="120.7"/><rect x="410.3" y="119.8"/><rect x="420.4" y="119.8"/><rect x="414.4" y="122.0"/><rect x="409.8" y="118.7"/><rect x="417.1" y="119.3"/><rect x="418.2" y="121.7"/><rect x="407.8" y="121.7"/><rect x="411.0" y="115.2"/><rect x="415.4" y="119.6"/><rect x="412.7" y="118.1"/><rect x="408.5" y="119.1"/><rect x="418.0" y="118.0"/><rect x="408.6" y="120.3"/><rect x="413.8" y="117.3"/><rect x="417.3" y="117.4"/><rect x="418.5" y="118.7"/><rect x="408.3" y="120.2"/><rect x="416.9" y="122.7"/><rect x="420.9" y="115.7"/><rect x="413.2" y="118.8"/><rect x="412.1" y="120.4"/><rect x="409.8" y="117.9"/><rect x="409.7" y="120.0"/><rect x="407.8" y="116.8"/><rect x="414.1" y="120.2"/><rect x="414.4" y="119.6"/><rect x="415.2" y="115.0"/><rect x="413.1" y="121.3"/><rect x="408.0" y="122.2"/><rect x="419.8" y="118.9"/><rect x="413.5" y="123.0"/><rect x="414.2" y="123.1"/><rect x="407.6" y="115.1"/><rect x="414.7" y="118.7"/><rect x="410.1" y="115.9"/><rect x="407.0" y="115.2"/><rect x="414.3" y="118.9"/><rect x="414.8" y="116.8"/><rect x="410.6" y="117.0"/><rect x="406.6" y="115.1"/><rect x="418.0" y="118.3"/><rect x="418.2" y="119.5"/><rect x="410.9" y="118.5"/><rect x="408.7" y="118.1"/><rect x="417.3" y="118.4"/><rect x="409.4" y="118.4"/><rect x="414.0" y="118.8"/><rect x="408.0" y="117.3"/><rect x="412.4" y="117.2"/><rect x="412.7" y="115.8"/><rect x="406.2" y="117.9"/><rect x="413.6" y="119.8"/><rect x="417.1" y="119.3"/><rect x="408.2" y="116.0"/><rect x="414.0" y="117.2"/><rect x="409.6" y="116.6"/><rect x="410.8" y="113.7"/><rect x="419.1" y="120.9"/><rect x="416.2" y="120.0"/><rect x="413.2" y="118.5"/><rect x="411.1" y="118.9"/><rect x="420.2" y="121.8"/><rect x="414.5" y="118.8"/><rect x="417.1" y="117.2"/><rect x="419.3" y="116.2"/><rect x="412.1" y="117.5"/><rect x="415.8" y="116.8"/><rect x="416.2" y="119.9"/><rect x="408.1" y="117.9"/><rect x="406.7" y="116.4"/><rect x="420.1" y="120.4"/><rect x="410.9" y="113.5"/><rect x="420.4" y="120.7"/><rect x="415.1" y="119.7"/><rect x="415.5" y="116.1"/><rect x="407.5" y="119.6"/><rect x="413.5" y="117.5"/><rect x="416.1" y="118.4"/><rect x="416.5" y="118.7"/><rect x="412.1" y="120.5"/><rect x="412.4" y="115.1"/><rect x="414.5" y="116.2"/><rect x="421.4" y="117.3"/><rect x="413.9" y="120.0"/><rect x="410.5" y="118.1"/><rect x="418.7" y="117.8"/><rect x="417.6" y="116.8"/><rect x="416.5" y="117.3"/><rect x="409.0" y="119.7"/><rect x="409.1" y="120.6"/><rect x="415.4" y="114.5"/><rect x="415.8" y="118.2"/><rect x="416.3" y="119.7"/><rect x="414.6" y="115.3"/><rect x="408.8" y="118.3"/><rect x="417.5" y="116.6"/><rect x="410.9" y="119.3"/><rect x="413.3" y="116.6"/><rect x="414.0" y="116.0"/><rect x="409.7" y="122.9"/><rect x="415.8" y="120.3"/><rect x="409.5" y="115.8"/><rect x="416.3" y="119.9"/><rect x="408.4" y="121.4"/><rect x="412.6" y="118.0"/><rect x="409.1" y="119.5"/><rect x="414.8" y="116.7"/><rect x="416.8" y="123.1"/><rect x="418.9" y="121.2"/><rect x="414.8" y="120.0"/><rect x="406.9" y="120.6"/><rect x="411.8" y="116.5"/><rect x="414.3" y="120.9"/><rect x="413.7" y="118.5"/><rect x="409.5" y="120.8"/><rect x="415.6" y="119.7"/><rect x="410.3" y="121.8"/><rect x="410.5" y="120.0"/><rect x="411.4" y="123.2"/><rect x="413.4" y="118.4"/><rect x="414.8" y="116.5"/><rect x="412.7" y="121.1"/><rect x="419.6" y="115.7"/><rect x="414.7" y="117.8"/><rect x="410.4" y="119.4"/><rect x="415.9" y="116.8"/><rect x="408.4" y="119.9"/><rect x="413.5" y="121.2"/><rect x="409.9" y="116.5"/><rect x="412.1" y="117.2"/><rect x="414.0" y="119.9"/><rect x="414.0" y="117.9"/><rect x="410.5" y="119.4"/><rect x="410.8" y="114.5"/><rect x="413.5" y="119.1"/><rect x="413.3" y="114.7"/><rect x="409.8" y="118.9"/><rect x="413.7" y="116.5"/><rect x="411.4" y="120.2"/><rect x="409.7" y="116.5"/><rect x="416.0" y="120.6"/><rect x="412.9" y="116.9"/><rect x="409.9" y="121.2"/><rect x="415.8" y="117.7"/><rect x="414.5" y="117.7"/><rect x="407.1" y="119.8"/><rect x="408.4" y="121.0"/><rect x="419.7" y="118.4"/><rect x="410.2" y="116.6"/><rect x="410.2" y="117.9"/><rect x="414.5" y="118.7"/><rect x="415.2" y="118.2"/><rect x="412.3" y="121.6"/><rect x="412.2" y="120.8"/><rect x="416.3" y="116.9"/><rect x="416.8" y="119.5"/><rect x="410.6" y="117.6"/><rect x="414.4" y="118.0"/><rect x="412.4" y="119.4"/><rect x="409.4" y="117.2"/><rect x="419.1" y="114.8"/><rect x="409.5" y="116.1"/><rect x="417.8" y="121.4"/><rect x="416.0" y="118.2"/><rect x="418.2" y="118.9"/><rect x="408.0" y="120.1"/><rect x="420.7" y="115.9"/><rect x="406.2" y="117.0"/><rect x="412.7" y="119.9"/><rect x="409.4" y="114.4"/><rect x="412.5" y="118.2"/><rect x="417.3" y="117.5"/><rect x="415.6" y="122.9"/><rect x="417.2" y="116.4"/><rect x="416.9" y="120.8"/><rect x="415.3" y="116.9"/><rect x="406.6" y="118.7"/><rect x="410.5" y="122.5"/><rect x="411.7" y="120.0"/><rect x="412.1" y="118.4"/><rect x="417.2" y="116.7"/><rect x="414.4" y="115.3"/><rect x="407.6" y="118.2"/><rect x="414.5" y="121.3"/><rect x="412.2" y="116.2"/><rect x="411.5" y="119.3"/><rect x="415.7" y="117.4"/><rect x="413.6" y="121.8"/><rect x="417.0" y="117.6"/><rect x="409.2" y="118.3"/><rect x="411.8" y="115.8"/><rect x="408.4" y="121.8"/><rect x="416.1" y="115.5"/><rect x="407.1" y="121.4"/><rect x="409.5" y="119.3"/><rect x="411.4" y="118.9"/><rect x="411.6" y="118.1"/><rect x="407.9" y="115.2"/><rect x="413.8" y="116.5"/><rect x="419.6" y="121.2"/><rect x="416.0" y="112.8"/><rect x="409.7" y="120.4"/><rect x="408.2" y="119.3"/><rect x="412.0" y="117.1"/><rect x="415.3" y="116.4"/><rect x="418.3" y="117.7"/><rect x="408.2" y="117.0"/><rect x="414.9" y="115.4"/><rect x="413.9" y="117.9"/><rect x="413.3" y="117.8"/><rect x="409.8" y="120.0"/><rect x="412.6" y="118.1"/><rect x="414.7" y="118.3"/><rect x="416.1" y="118.5"/><rect x="416.9" y="121.4"/><rect x="418.3" y="117.6"/><rect x="411.1" y="118.8"/><rect x="413.4" y="118.8"/><rect x="418.3" y="118.2"/><rect x="410.7" y="122.3"/><rect x="419.0" y="120.5"/><rect x="412.2" y="119.3"/><rect x="414.4" y="121.1"/><rect x="416.1" y="117.8"/><rect x="413.3" y="116.9"/><rect x="418.8" y="114.7"/><rect x="416.8" y="117.2"/><rect x="413.5" y="119.0"/><rect x="415.7" y="115.4"/><rect x="408.6" y="123.1"/><rect x="407.7" y="119.0"/><rect x="409.7" y="117.4"/><rect x="415.5" y="120.5"/><rect x="410.5" y="116.0"/><rect x="413.8" y="116.0"/><rect x="412.5" y="119.0"/><rect x="413.2" y="116.0"/><rect x="406.7" y="113.8"/><rect x="412.4" y="118.8"/><rect x="418.5" y="118.7"/><rect x="412.6" y="122.4"/><rect x="418.0" y="117.5"/><rect x="408.3" y="121.6"/><rect x="408.9" y="120.7"/><rect x="413.7" y="119.6"/><rect x="409.8" y="118.3"/><rect x="410.3" y="119.8"/><rect x="412.4" y="119.7"/><rect x="410.4" y="117.9"/><rect x="417.7" y="120.0"/><rect x="414.2" y="119.3"/><rect x="418.5" y="118.5"/><rect x="416.9" y="115.2"/><rect x="410.9" y="117.0"/><rect x="416.0" y="117.9"/><rect x="411.9" y="116.6"/><rect x="408.1" y="115.4"/><rect x="414.3" y="119.4"/><rect x="412.1" y="116.6"/><rect x="414.3" y="122.7"/><rect x="417.5" y="119.9"/><rect x="410.7" y="118.9"/><rect x="414.4" y="116.2"/><rect x="408.8" y="118.1"/><rect x="415.5" y="118.7"/><rect x="413.6" y="120.3"/><rect x="409.7" y="118.8"/><rect x="407.2" y="120.2"/><rect x="412.3" y="120.5"/><rect x="410.6" y="121.0"/><rect x="414.2" y="119.5"/><rect x="417.7" y="120.1"/><rect x="417.9" y="118.1"/><rect x="414.4" y="119.3"/><rect x="418.0" y="115.9"/><rect x="417.2" y="117.9"/><rect x="411.3" y="121.6"/><rect x="418.8" y="119.2"/><rect x="418.4" y="120.2"/><rect x="419.2" y="118.9"/><rect x="417.1" y="120.5"/><rect x="416.8" y="118.5"/><rect x="418.7" y="118.3"/><rect x="418.5" y="120.5"/><rect x="419.2" y="113.4"/><rect x="415.7" y="118.3"/><rect x="412.9" y="118.0"/><rect x="417.6" y="117.8"/><rect x="414.7" y="119.7"/><rect x="412.6" y="123.2"/><rect x="417.2" y="117.5"/><rect x="411.5" y="121.3"/><rect x="410.6" y="115.5"/><rect x="414.4" y="116.5"/><rect x="418.1" y="114.2"/><rect x="411.3" y="118.3"/><rect x="416.4" y="121.2"/><rect x="414.5" y="113.9"/><rect x="413.0" y="117.3"/><rect x="418.4" y="119.7"/><rect x="414.9" y="118.0"/><rect x="416.5" y="121.9"/><rect x="413.1" y="118.4"/><rect x="416.4" y="117.6"/><rect x="420.4" y="119.2"/><rect x="417.3" y="118.4"/><rect x="413.9" y="116.5"/><rect x="418.0" y="119.8"/><rect x="420.4" y="118.0"/><rect x="409.7" y="117.8"/><rect x="419.7" y="119.2"/><rect x="418.4" y="119.3"/><rect x="411.5" y="116.9"/><rect x="415.2" y="121.8"/><rect x="415.6" y="120.9"/><rect x="415.4" y="118.1"/><rect x="406.8" y="115.3"/><rect x="411.1" y="117.6"/><rect x="407.8" y="118.9"/><rect x="414.8" y="117.7"/><rect x="418.8" y="118.9"/><rect x="409.4" y="118.9"/><rect x="408.4" y="119.4"/><rect x="418.2" y="120.1"/><rect x="412.6" y="118.3"/><rect x="412.7" y="117.6"/><rect x="412.0" y="118.0"/><rect x="416.8" y="120.6"/><rect x="407.7" y="117.3"/><rect x="414.7" y="120.0"/><rect x="406.9" y="119.6"/><rect x="407.1" y="116.1"/><rect x="411.2" y="119.3"/><rect x="412.6" y="117.5"/><rect x="409.0" y="117.5"/><rect x="419.2" y="119.5"/><rect x="418.4" y="118.4"/><rect x="412.8" y="120.0"/><rect x="416.0" y="116.4"/><rect x="417.5" y="117.1"/><rect x="406.8" y="120.5"/><rect x="407.5" y="116.3"/><rect x="417.2" y="122.2"/><rect x="409.4" y="121.9"/><rect x="419.5" y="114.6"/><rect x="411.1" y="117.6"/><rect x="414.9" y="116.8"/><rect x="412.4" y="119.5"/><rect x="413.8" y="117.6"/><rect x="409.0" y="117.1"/><rect x="406.4" y="118.3"/><rect x="414.9" y="117.2"/><rect x="413.3" y="119.2"/><rect x="412.5" y="120.4"/><rect x="415.5" y="119.5"/><rect x="408.5" y="116.4"/><rect x="414.8" y="117.4"/><rect x="413.7" y="119.5"/><rect x="411.6" y="118.2"/><rect x="413.9" y="119.7"/><rect x="418.4" y="120.1"/><rect x="409.2" y="121.8"/><rect x="414.2" y="120.9"/><rect x="417.9" y="120.9"/><rect x="416.7" y="118.9"/><rect x="409.4" y="119.6"/><rect x="415.1" y="117.4"/><rect x="407.3" y="118.3"/><rect x="416.4" y="118.6"/><rect x="408.3" y="116.3"/><rect x="416.2" y="117.9"/><rect x="415.4" y="120.0"/><rect x="411.3" y="120.0"/><rect x="418.9" y="120.1"/><rect x="414.6" y="117.1"/><rect x="413.8" y="116.5"/><rect x="415.7" y="117.6"/><rect x="412.3" y="118.2"/><rect x="413.9" y="117.3"/><rect x="417.4" y="115.7"/><rect x="414.5" y="117.1"/><rect x="412.5" y="121.7"/><rect x="411.9" y="116.4"/><rect x="415.4" y="119.3"/><rect x="408.4" y="117.2"/><rect x="415.8" y="117.3"/><rect x="418.0" y="117.3"/><rect x="412.7" y="117.8"/><rect x="409.5" y="118.3"/><rect x="413.4" y="116.3"/><rect x="419.6" y="118.0"/><rect x="411.8" y="121.0"/><rect x="418.2" y="114.9"/><rect x="408.4" y="117.9"/><rect x="415.8" y="121.8"/><rect x="410.3" y="116.7"/><rect x="415.9" y="118.1"/><rect x="413.4" y="119.2"/><rect x="412.6" y="116.7"/><rect x="412.9" y="119.3"/><rect x="410.0" y="118.8"/><rect x="418.3" y="121.4"/><rect x="412.9" y="119.1"/><rect x="417.8" y="116.2"/><rect x="414.1" y="118.6"/><rect x="415.3" y="118.9"/><rect x="410.3" y="119.2"/><rect x="410.9" y="117.3"/><rect x="416.8" y="117.3"/><rect x="414.7" y="121.1"/><rect x="408.7" y="117.3"/><rect x="415.6" y="120.6"/><rect x="410.8" y="120.6"/><rect x="408.9" y="113.2"/><rect x="416.6" y="117.2"/><rect x="410.8" y="119.2"/><rect x="409.1" y="119.4"/><rect x="415.3" y="120.5"/><rect x="415.5" y="119.9"/><rect x="413.4" y="116.2"/><rect x="406.9" y="119.6"/><rect x="415.9" y="123.3"/><rect x="419.1" y="120.2"/><rect x="416.4" y="121.7"/><rect x="415.3" y="119.2"/><rect x="415.0" y="121.1"/><rect x="419.1" y="117.7"/><rect x="421.5" y="119.9"/><rect x="418.5" y="119.6"/><rect x="416.1" y="119.8"/><rect x="412.1" y="118.2"/><rect x="416.9" y="118.1"/><rect x="411.9" y="114.6"/><rect x="408.9" y="121.2"/><rect x="414.7" y="116.7"/><rect x="421.1" y="118.7"/><rect x="406.5" y="118.0"/><rect x="412.0" y="116.0"/><rect x="414.2" y="116.5"/><rect x="420.3" y="117.0"/><rect x="413.1" y="118.6"/><rect x="412.1" y="122.3"/><rect x="414.7" y="119.0"/><rect x="415.9" y="121.2"/><rect x="418.2" y="119.2"/><rect x="411.4" y="118.5"/><rect x="409.5" y="118.2"/><rect x="414.1" y="122.3"/><rect x="409.4" y="120.6"/><rect x="415.6" y="118.4"/><rect x="412.2" y="118.6"/><rect x="407.0" y="119.6"/><rect x="406.9" y="121.6"/><rect x="412.7" y="116.5"/><rect x="415.6" y="114.8"/><rect x="406.4" y="120.3"/><rect x="414.8" y="119.1"/><rect x="409.8" y="119.9"/><rect x="418.1" y="117.7"/><rect x="417.5" y="116.8"/><rect x="409.9" y="115.3"/><rect x="412.5" y="120.4"/><rect x="417.2" y="120.1"/><rect x="412.3" y="114.7"/><rect x="411.3" y="119.3"/><rect x="413.8" y="123.0"/><rect x="418.7" y="119.1"/><rect x="408.7" y="119.4"/><rect x="412.3" y="119.6"/><rect x="412.0" y="119.6"/><rect x="408.1" y="118.3"/><rect x="414.8" y="119.7"/><rect x="415.6" y="122.4"/><rect x="414.7" y="122.9"/><rect x="420.1" y="119.2"/><rect x="408.2" y="115.4"/><rect x="416.4" y="116.5"/><rect x="414.9" y="115.1"/><rect x="415.3" y="117.3"/><rect x="415.8" y="118.7"/><rect x="414.0" y="121.6"/><rect x="420.7" y="117.5"/><rect x="407.6" y="121.8"/><rect x="416.0" y="116.3"/><rect x="406.5" y="119.0"/><rect x="419.0" y="118.1"/><rect x="409.1" y="112.7"/><rect x="411.1" y="116.6"/><rect x="414.2" y="121.4"/><rect x="409.9" y="120.3"/><rect x="415.8" y="116.6"/><rect x="415.5" y="115.6"/><rect x="418.0" y="117.4"/><rect x="418.3" y="117.6"/><rect x="409.0" y="117.5"/><rect x="417.5" y="121.3"/><rect x="418.3" y="120.6"/><rect x="411.2" y="116.4"/><rect x="419.7" y="118.3"/><rect x="418.1" y="117.9"/><rect x="416.4" y="118.2"/><rect x="412.8" y="116.8"/><rect x="407.8" y="120.2"/><rect x="413.1" y="115.6"/><rect x="408.5" y="119.5"/><rect x="414.7" y="117.5"/><rect x="410.8" y="115.2"/><rect x="411.2" y="120.4"/><rect x="413.7" y="119.0"/><rect x="414.9" y="118.4"/><rect x="411.2" y="121.2"/><rect x="409.5" y="123.3"/><rect x="411.4" y="116.3"/><rect x="411.0" y="119.4"/><rect x="416.8" y="117.6"/><rect x="418.3" y="118.6"/><rect x="415.2" y="115.8"/><rect x="409.3" y="121.2"/><rect x="418.4" y="119.1"/><rect x="418.4" y="117.7"/><rect x="412.5" y="119.5"/><rect x="406.5" y="119.3"/><rect x="415.4" y="119.5"/><rect x="414.3" y="117.8"/><rect x="416.8" y="120.9"/><rect x="409.8" y="120.7"/><rect x="417.6" y="116.7"/><rect x="417.6" y="113.2"/><rect x="412.6" y="120.4"/><rect x="419.6" y="117.7"/><rect x="415.0" y="118.1"/><rect x="418.0" y="115.4"/><rect x="418.4" y="121.6"/><rect x="414.1" y="118.9"/><rect x="419.0" y="116.4"/><rect x="409.5" y="119.8"/><rect x="418.0" y="119.3"/><rect x="411.0" y="117.5"/><rect x="414.8" y="119.8"/><rect x="417.8" y="117.5"/><rect x="417.5" y="122.7"/><rect x="419.1" y="117.7"/><rect x="411.9" y="122.0"/><rect x="417.4" y="122.8"/></g>
<g class="d" fill="#111" fill-opacity="0.2"><rect x="406.6" y="129.3"/><rect x="412.3" y="120.7"/><rect x="417.1" y="120.4"/><rect x="420.9" y="122.5"/><rect x="416.3" y="123.8"/><rect x="415.1" y="123.8"/><rect x="410.4" y="126.0"/><rect x="412.4" y="124.8"/><rect x="410.6" y="126.4"/><rect x="413.4" y="123.2"/><rect x="414.1" y="130.4"/><rect x="412.6" y="125.8"/><rect x="419.4" y="127.1"/><rect x="417.7" y="125.1"/><rect x="409.3" y="123.6"/><rect x="419.6" y="125.5"/><rect x="407.7" y="120.5"/><rect x="412.5" y="128.3"/><rect x="420.6" y="122.5"/><rect x="407.7" y="123.7"/><rect x="413.0" y="122.8"/><rect x="407.2" y="122.9"/><rect x="414.4" y="126.9"/><rect x="408.1" y="130.3"/><rect x="409.7" y="120.8"/><rect x="417.0" y="126.0"/><rect x="419.0" y="123.9"/><rect x="406.8" y="122.0"/><rect x="410.8" y="127.6"/><rect x="415.4" y="123.7"/><rect x="406.6" y="126.7"/><rect x="419.3" y="125.1"/><rect x="414.1" y="127.0"/><rect x="410.7" y="126.6"/><rect x="408.6" y="127.0"/><rect x="413.7" y="123.6"/><rect x="407.2" y="128.5"/><rect x="417.4" y="124.7"/><rect x="421.5" y="123.0"/><rect x="414.7" y="128.3"/><rect x="409.5" y="120.9"/><rect x="417.4" y="126.9"/><rect x="421.4" y="125.3"/><rect x="410.0" y="124.7"/><rect x="410.8" y="122.1"/><rect x="420.5" y="121.6"/><rect x="420.8" y="124.1"/><rect x="411.8" y="121.4"/><rect x="414.7" y="123.0"/><rect x="415.9" y="122.3"/><rect x="406.4" y="131.3"/><rect x="414.1" y="124.4"/><rect x="406.6" y="130.9"/><rect x="416.9" y="132.6"/><rect x="417.1" y="121.7"/><rect x="414.6" y="130.5"/><rect x="421.3" y="121.2"/><rect x="418.2" y="124.3"/><rect x="419.4" y="120.6"/><rect x="410.3" y="121.3"/><rect x="420.8" y="120.7"/><rect x="419.6" y="121.9"/><rect x="422.3" y="126.8"/><rect x="411.3" y="126.9"/><rect x="419.3" y="121.5"/><rect x="412.0" y="122.1"/><rect x="414.1" y="127.8"/><rect x="417.8" y="125.1"/><rect x="415.9" y="120.9"/><rect x="422.2" y="129.3"/><rect x="418.7" y="125.4"/><rect x="419.1" y="126.1"/><rect x="407.9" y="129.6"/><rect x="415.5" y="124.3"/><rect x="414.1" y="122.8"/><rect x="419.8" y="120.6"/><rect x="408.0" y="120.7"/><rect x="409.9" y="120.6"/><rect x="421.1" y="123.7"/><rect x="422.6" y="125.7"/><rect x="418.0" y="125.6"/><rect x="415.6" y="124.4"/><rect x="418.4" y="120.7"/><rect x="420.2" y="126.8"/><rect x="416.7" y="124.9"/><rect x="411.4" y="122.2"/><rect x="411.2" y="127.4"/><rect x="421.5" y="127.2"/><rect x="409.8" y="124.5"/><rect x="420.6" y="126.9"/><rect x="410.7" y="122.7"/><rect x="420.2" y="124.4"/><rect x="416.4" y="129.3"/><rect x="409.0" y="121.2"/><rect x="407.1" y="126.0"/><rect x="411.9" y="125.4"/><rect x="418.2" y="124.4"/><rect x="413.9" y="124.7"/><rect x="406.5" y="125.4"/><rect x="409.8" y="125.7"/><rect x="415.4" y="130.0"/><rect x="421.0" y="122.8"/><rect x="411.2" y="126.4"/><rect x="408.7" y="121.3"/><rect x="418.9" y="128.9"/><rect x="422.2" y="123.8"/><rect x="414.9" y="121.3"/><rect x="420.8" y="127.0"/><rect x="406.7" y="126.5"/><rect x="420.9" y="122.1"/><rect x="412.2" y="126.5"/><rect x="417.2" y="127.8"/><rect x="415.2" y="130.1"/><rect x="420.1" y="121.1"/><rect x="418.5" y="125.5"/><rect x="421.1" y="121.1"/><rect x="419.7" y="129.9"/><rect x="407.4" y="120.9"/><rect x="420.5" y="126.0"/><rect x="421.6" y="124.7"/><rect x="419.4" y="125.0"/><rect x="408.1" y="123.5"/><rect x="416.1" y="123.1"/><rect x="419.1" y="121.7"/><rect x="413.3" y="125.1"/><rect x="418.4" y="128.1"/><rect x="421.5" y="121.1"/><rect x="417.2" y="128.0"/><rect x="421.3" y="129.6"/><rect x="407.7" y="128.5"/><rect x="409.2" y="122.1"/><rect x="421.2" y="123.8"/><rect x="410.2" y="127.5"/><rect x="414.3" y="120.9"/><rect x="420.3" y="121.8"/><rect x="409.9" y="132.0"/><rect x="419.5" y="121.5"/><rect x="419.6" y="124.2"/><rect x="410.7" y="124.9"/><rect x="413.6" y="122.4"/><rect x="418.7" y="125.5"/><rect x="414.0" y="123.1"/><rect x="415.4" y="124.9"/><rect x="408.7" y="122.7"/><rect x="421.6" y="121.1"/><rect x="415.5" y="122.0"/><rect x="407.6" y="127.0"/><rect x="408.0" y="120.7"/><rect x="420.7" y="125.9"/><rect x="410.1" y="130.0"/><rect x="410.5" y="122.3"/><rect x="419.3" y="122.3"/><rect x="421.0" y="122.7"/><rect x="407.1" y="126.6"/><rect x="418.4" y="120.9"/><rect x="411.6" y="124.1"/><rect x="410.4" y="125.0"/><rect x="422.1" y="122.9"/><rect x="414.8" y="122.0"/><rect x="418.8" y="131.7"/><rect x="408.1" y="124.4"/><rect x="417.1" y="120.6"/><rect x="410.1" y="125.6"/><rect x="422.1" y="122.7"/><rect x="420.8" y="122.4"/><rect x="421.4" y="122.5"/><rect x="417.3" y="127.4"/><rect x="412.0" y="128.0"/><rect x="412.9" y="124.3"/><rect x="420.7" y="131.4"/><rect x="416.5" y="129.6"/><rect x="416.2" y="125.9"/><rect x="413.7" y="122.5"/><rect x="408.3" y="121.3"/><rect x="408.2" y="123.5"/><rect x="411.8" y="129.1"/><rect x="422.4" y="124.1"/><rect x="411.3" y="123.3"/><rect x="410.2" y="121.8"/><rect x="421.8" y="130.0"/><rect x="406.5" y="121.1"/><rect x="409.9" y="120.6"/><rect x="411.3" y="125.2"/><rect x="415.2" y="125.6"/><rect x="420.1" y="129.9"/><rect x="421.7" y="134.8"/><rect x="418.8" y="126.1"/><rect x="420.7" y="129.1"/><rect x="420.8" y="124.7"/><rect x="417.5" y="127.9"/><rect x="411.2" y="124.2"/><rect x="408.8" y="128.4"/><rect x="411.7" y="121.1"/><rect x="418.9" y="122.8"/><rect x="412.0" y="126.9"/><rect x="420.3" y="125.2"/><rect x="413.0" y="127.0"/><rect x="414.0" y="126.9"/><rect x="409.5" y="125.0"/><rect x="413.0" y="125.1"/><rect x="419.2" y="130.1"/><rect x="409.5" y="131.1"/><rect x="417.4" y="121.6"/><rect x="406.5" y="127.9"/><rect x="416.2" y="122.4"/><rect x="417.3" y="129.0"/><rect x="418.2" y="122.6"/><rect x="412.7" y="120.6"/><rect x="411.0" y="125.6"/><rect x="419.6" y="121.7"/><rect x="410.8" y="125.5"/><rect x="419.9" y="127.6"/><rect x="407.2" y="126.7"/><rect x="412.5" y="133.1"/><rect x="410.0" y="125.4"/><rect x="422.1" y="123.3"/><rect x="407.6" y="122.9"/><rect x="408.5" y="124.9"/><rect x="416.7" y="123.0"/><rect x="420.0" y="124.9"/><rect x="418.1" y="124.1"/><rect x="419.0" y="122.6"/><rect x="421.6" y="126.6"/><rect x="409.4" y="124.4"/><rect x="422.0" y="128.0"/><rect x="411.2" y="120.8"/><rect x="407.6" y="121.4"/><rect x="412.6" y="124.6"/><rect x="407.9" y="121.3"/><rect x="417.7" y="123.3"/><rect x="416.7" y="120.4"/><rect x="414.0" y="121.1"/><rect x="411.7" y="121.4"/><rect x="406.9" y="131.2"/><rect x="413.9" y="121.7"/><rect x="408.4" y="130.1"/><rect x="421.7" y="120.6"/><rect x="411.6" y="129.2"/><rect x="409.9" y="132.6"/><rect x="410.5" y="125.4"/><rect x="422.0" y="128.7"/><rect x="415.3" y="122.8"/><rect x="409.2" y="126.1"/><rect x="415.0" y="123.7"/><rect x="407.6" y="125.6"/><rect x="409.2" y="121.8"/><rect x="410.5" y="126.2"/><rect x="412.0" y="120.5"/><rect x="417.9" y="123.4"/><rect x="413.3" y="125.4"/><rect x="415.0" y="120.7"/><rect x="410.9" y="121.9"/><rect x="418.9" y="122.5"/><rect x="413.8" y="120.6"/><rect x="422.5" y="122.1"/><rect x="411.9" y="122.5"/><rect x="422.5" y="122.9"/><rect x="416.8" y="129.6"/><rect x="420.7" y="124.2"/><rect x="416.7" y="123.6"/><rect x="415.9" y="121.7"/><rect x="410.4" y="121.0"/><rect x="419.6" y="127.2"/><rect x="408.3" y="124.2"/><rect x="419.3" y="135.8"/><rect x="415.5" y="121.1"/><rect x="413.8" y="121.5"/><rect x="413.2" y="123.9"/><rect x="409.9" y="123.2"/><rect x="410.3" y="121.9"/><rect x="410.6" y="124.9"/><rect x="412.8" y="120.5"/><rect x="409.1" y="128.3"/><rect x="412.2" y="126.0"/><rect x="413.6" y="124.0"/><rect x="413.0" y="122.3"/><rect x="414.3" y="126.6"/><rect x="412.8" y="122.6"/><rect x="408.8" y="124.5"/><rect x="412.6" y="130.6"/><rect x="420.9" y="124.8"/><rect x="410.8" y="127.0"/><rect x="411.0" y="121.8"/><rect x="416.5" y="127.4"/><rect x="416.3" y="125.0"/><rect x="422.2" y="132.4"/><rect x="421.6" y="123.4"/><rect x="420.6" y="121.4"/><rect x="411.2" y="127.9"/><rect x="411.6" y="121.6"/><rect x="422.5" y="133.5"/><rect x="407.6" y="125.4"/><rect x="416.7" y="122.0"/><rect x="413.1" y="125.4"/><rect x="408.3" y="121.4"/><rect x="412.6" y="121.9"/><rect x="420.0" y="132.9"/><rect x="411.2" y="133.5"/><rect x="417.4" y="122.5"/><rect x="410.7" y="128.6"/><rect x="410.3" y="134.1"/><rect x="421.1" y="121.6"/><rect x="421.9" y="121.7"/><rect x="415.2" y="124.5"/><rect x="413.4" y="124.4"/><rect x="421.0" y="124.5"/><rect x="417.5" y="129.7"/><rect x="407.5" y="120.5"/><rect x="406.8" y="130.0"/><rect x="415.1" y="122.8"/><rect x="412.0" y="121.9"/><rect x="415.9" y="121.6"/><rect x="418.3" y="120.6"/><rect x="415.8" y="123.9"/><rect x="410.0" y="129.6"/><rect x="420.4" y="122.5"/><rect x="412.3" y="126.1"/><rect x="408.4" y="127.2"/><rect x="410.4" y="122.6"/><rect x="412.6" y="121.0"/><rect x="418.5" y="129.6"/><rect x="406.8" y="136.4"/><rect x="411.2" y="120.7"/><rect x="407.4" y="120.9"/><rect x="419.8" y="127.8"/><rect x="406.4" y="124.3"/><rect x="410.5" y="122.2"/><rect x="408.6" y="128.5"/><rect x="417.3" y="121.9"/><rect x="409.1" y="125.5"/><rect x="417.3" y="123.2"/><rect x="417.7" y="120.8"/><rect x="417.8" y="124.4"/><rect x="419.6" y="122.8"/><rect x="413.5" y="121.9"/><rect x="418.4" y="125.5"/><rect x="410.8" y="125.6"/><rect x="415.7" y="120.4"/><rect x="411.0" y="122.9"/><rect x="408.4" y="133.5"/><rect x="412.1" y="128.6"/><rect x="415.0" y="126.5"/><rect x="410.8" y="124.4"/><rect x="411.8" y="122.9"/><rect x="416.6" y="129.6"/><rect x="416.0" y="122.7"/><rect x="416.3" y="125.1"/><rect x="411.1" y="121.8"/><rect x="418.8" y="124.1"/><rect x="406.7" y="122.0"/><rect x="413.3" y="125.3"/><rect x="408.5" y="120.7"/><rect x="422.1" y="131.4"/><rect x="417.4" y="126.9"/><rect x="419.8" y="124.9"/><rect x="409.0" y="120.8"/><rect x="410.8" y="132.9"/><rect x="410.4" y="121.1"/><rect x="416.9" y="120.8"/><rect x="421.8" y="128.2"/><rect x="420.9" y="125.7"/><rect x="418.2" y="124.0"/><rect x="419.1" y="127.4"/></g>
<g class="d" fill="#111" fill-opacity="0.12"><rect x="431.9" y="115.0"/><rect x="427.9" y="119.5"/><rect x="427.6" y="118.5"/><rect x="422.2" y="114.9"/><rect x="425.6" y="120.2"/><rect x="438.0" y="121.7"/><rect x="427.1" y="116.1"/><rect x="425.9" y="118.7"/><rect x="428.2" y="117.7"/><rect x="435.5" y="116.0"/><rect x="425.0" y="115.5"/><rect x="424.8" y="121.9"/><rect x="432.2" y="115.7"/><rect x="422.8" y="117.2"/><rect x="435.5" y="116.5"/><rect x="426.3" y="119.3"/><rect x="436.1" y="120.9"/><rect x="431.5" y="118.0"/><rect x="424.2" y="115.5"/><rect x="425.1" y="118.1"/><rect x="433.0" y="114.4"/><rect x="429.6" y="116.9"/></g>
<line x1="421.60" y1="81.90" x2="421.60" y2="138.30" stroke="#aaa" stroke-width="0.7"/>
<line x1="405.40" y1="125.20" x2="480.60" y2="125.20" stroke="#aaa" stroke-width="0.7"/>
<rect x="405.40" y="81.90" width="75.20" height="56.40" fill="none" stroke="#555" stroke-width="1.0"/>
<text x="432.50" y="86.70" font-size="4.7" font-weight="bold" textLength="21.60" lengthAdjust="spacingAndGlyphs" fill="#222" stroke="#222" stroke-width="0.30">MKK6 EE</text>
<text x="406.90" y="103.40" font-size="4.9" font-weight="bold" fill="#1a1a1a" stroke="#1a1a1a" stroke-width="0.30">67.02%</text>
<text x="406.90" y="109.00" font-size="4.9" font-weight="bold" fill="#1a1a1a" stroke="#1a1a1a" stroke-width="0.30">10202</text>
<text x="463.70" y="103.40" font-size="4.9" font-weight="bold" fill="#1a1a1a" stroke="#1a1a1a" stroke-width="0.30">0.78%</text>
<text x="463.70" y="109.00" font-size="4.9" font-weight="bold" fill="#1a1a1a" stroke="#1a1a1a" stroke-width="0.30">176</text>
<text x="406.90" y="135.60" font-size="4.9" font-weight="bold" fill="#1a1a1a" stroke="#1a1a1a" stroke-width="0.30">31.77%</text>
<text x="463.70" y="135.60" font-size="4.9" font-weight="bold" fill="#1a1a1a" stroke="#1a1a1a" stroke-width="0.30">0.43%</text>
<text x="322.20" y="24.30" font-size="4.6" font-weight="bold" text-anchor="middle" fill="#222" stroke="#222" stroke-width="0.30">4</text>
<text x="322.20" y="38.10" font-size="4.6" font-weight="bold" text-anchor="middle" fill="#222" stroke="#222" stroke-width="0.30">3</text>
<text x="322.20" y="52.20" font-size="4.6" font-weight="bold" text-anchor="middle" fill="#222" stroke="#222" stroke-width="0.30">2</text>
<text x="322.20" y="66.20" font-size="4.6" font-weight="bold" text-anchor="middle" fill="#222" stroke="#222" stroke-width="0.30">1</text>
<text x="322.20" y="79.70" font-size="4.6" font-weight="bold" text-anchor="middle" fill="#222" stroke="#222" stroke-width="0.30">0</text>
<text x="322.20" y="85.60" font-size="4.6" font-weight="bold" text-anchor="middle" fill="#222" stroke="#222" stroke-width="0.30">4</text>
<text x="322.20" y="99.20" font-size="4.6" font-weight="bold" text-anchor="middle" fill="#222" stroke="#222" stroke-width="0.30">3</text>
<text x="322.20" y="112.90" font-size="4.6" font-weight="bold" text-anchor="middle" fill="#222" stroke="#222" stroke-width="0.30">2</text>
<text x="322.20" y="126.60" font-size="4.6" font-weight="bold" text-anchor="middle" fill="#222" stroke="#222" stroke-width="0.30">1</text>
<text x="322.20" y="140.70" font-size="4.6" font-weight="bold" text-anchor="middle" fill="#222" stroke="#222" stroke-width="0.30">0</text>
<text x="327.10" y="144.00" font-size="4.6" font-weight="bold" text-anchor="middle" fill="#222" stroke="#222" stroke-width="0.30">0</text>
<text x="345.20" y="144.00" font-size="4.6" font-weight="bold" text-anchor="middle" fill="#222" stroke="#222" stroke-width="0.30">1</text>
<text x="363.00" y="144.00" font-size="4.6" font-weight="bold" text-anchor="middle" fill="#222" stroke="#222" stroke-width="0.30">2</text>
<text x="381.10" y="144.00" font-size="4.6" font-weight="bold" text-anchor="middle" fill="#222" stroke="#222" stroke-width="0.30">3</text>
<text x="406.90" y="144.00" font-size="4.6" font-weight="bold" text-anchor="middle" fill="#222" stroke="#222" stroke-width="0.30">0</text>
<text x="425.50" y="144.00" font-size="4.6" font-weight="bold" text-anchor="middle" fill="#222" stroke="#222" stroke-width="0.30">1</text>
<text x="443.20" y="144.00" font-size="4.6" font-weight="bold" text-anchor="middle" fill="#222" stroke="#222" stroke-width="0.30">2</text>
<text x="461.30" y="144.00" font-size="4.6" font-weight="bold" text-anchor="middle" fill="#222" stroke="#222" stroke-width="0.30">3</text>
<text x="479.20" y="144.00" font-size="4.6" font-weight="bold" text-anchor="middle" fill="#222" stroke="#222" stroke-width="0.30">4</text>
<text x="310.80" y="134.80" font-size="6.6" font-weight="bold" textLength="113.00" lengthAdjust="spacingAndGlyphs" fill="#1a1a1a" transform="rotate(-90 310.80 134.80)" stroke="#1a1a1a" stroke-width="0.25">Log CD8 fluorescence intensity ( FITC )</text>
<text x="333.90" y="153.80" font-size="6.9" font-weight="bold" textLength="141.90" lengthAdjust="spacingAndGlyphs" stroke="#111" stroke-width="0.25">Log pentamer fluorescence intensity (APC)</text>
<text x="329.00" y="184.20" font-size="7.5" font-weight="bold" textLength="125.60" lengthAdjust="spacingAndGlyphs" stroke="#111" stroke-width="0.12">CD8 T cell expansion by human DC</text>
<rect x="305.20" y="191.40" width="87.40" height="85.60" fill="none" stroke="#666" stroke-width="0.8"/>
<text x="303.80" y="194.10" font-size="6.1" font-weight="bold" text-anchor="end" fill="#222" stroke="#222" stroke-width="0.25">20000</text>
<line x1="304.00" y1="191.90" x2="305.20" y2="191.90" stroke="#555" stroke-width="0.6"/>
<text x="303.80" y="211.00" font-size="6.1" font-weight="bold" text-anchor="end" fill="#222" stroke="#222" stroke-width="0.25">16000</text>
<line x1="304.00" y1="208.80" x2="305.20" y2="208.80" stroke="#555" stroke-width="0.6"/>
<text x="303.80" y="228.50" font-size="6.1" font-weight="bold" text-anchor="end" fill="#222" stroke="#222" stroke-width="0.25">12000</text>
<line x1="304.00" y1="226.30" x2="305.20" y2="226.30" stroke="#555" stroke-width="0.6"/>
<text x="303.80" y="245.40" font-size="6.1" font-weight="bold" text-anchor="end" fill="#222" stroke="#222" stroke-width="0.25">8000</text>
<line x1="304.00" y1="243.20" x2="305.20" y2="243.20" stroke="#555" stroke-width="0.6"/>
<text x="303.80" y="262.30" font-size="6.1" font-weight="bold" text-anchor="end" fill="#222" stroke="#222" stroke-width="0.25">4000</text>
<line x1="304.00" y1="260.10" x2="305.20" y2="260.10" stroke="#555" stroke-width="0.6"/>
<text x="303.80" y="279.20" font-size="6.1" font-weight="bold" text-anchor="end" fill="#222" stroke="#222" stroke-width="0.25">0</text>
<line x1="304.00" y1="277.00" x2="305.20" y2="277.00" stroke="#555" stroke-width="0.6"/>
<line x1="316.40" y1="259.40" x2="316.40" y2="261.20" stroke="#444" stroke-width="0.8"/>
<line x1="314.60" y1="259.40" x2="318.20" y2="259.40" stroke="#444" stroke-width="0.8"/>
<rect x="312.00" y="261.20" width="8.80" height="15.80" fill="#7f7f7f" stroke="#5a5a5a" stroke-width="0.7"/>
<line x1="338.10" y1="226.10" x2="338.10" y2="233.00" stroke="#444" stroke-width="0.8"/>
<line x1="336.30" y1="226.10" x2="339.90" y2="226.10" stroke="#444" stroke-width="0.8"/>
<rect x="333.50" y="233.00" width="9.20" height="44.00" fill="#7f7f7f" stroke="#5a5a5a" stroke-width="0.7"/>
<line x1="359.60" y1="243.90" x2="359.60" y2="246.20" stroke="#444" stroke-width="0.8"/>
<line x1="357.80" y1="243.90" x2="361.40" y2="243.90" stroke="#444" stroke-width="0.8"/>
<rect x="355.00" y="246.20" width="9.20" height="30.80" fill="#7f7f7f" stroke="#5a5a5a" stroke-width="0.7"/>
<line x1="381.30" y1="201.20" x2="381.30" y2="207.40" stroke="#444" stroke-width="0.8"/>
<line x1="379.50" y1="201.20" x2="383.10" y2="201.20" stroke="#444" stroke-width="0.8"/>
<rect x="376.70" y="207.40" width="9.20" height="69.60" fill="#7f7f7f" stroke="#5a5a5a" stroke-width="0.7"/>
<text x="316.10" y="283.80" font-size="6.2" font-weight="bold" text-anchor="middle" fill="#1a1a1a" stroke="#1a1a1a" stroke-width="0.25">iDCp</text>
<text x="338.30" y="283.80" font-size="6.2" font-weight="bold" text-anchor="middle" fill="#1a1a1a" stroke="#1a1a1a" stroke-width="0.25">mDCp</text>
<text x="360.00" y="283.80" font-size="6.2" font-weight="bold" text-anchor="middle" fill="#1a1a1a" stroke="#1a1a1a" stroke-width="0.25">K82A</text>
<text x="382.20" y="283.80" font-size="6.2" font-weight="bold" text-anchor="middle" fill="#1a1a1a" stroke="#1a1a1a" stroke-width="0.25">MKK6</text>
<text x="376.20" y="204.20" font-size="10" font-weight="bold" textLength="12.80" lengthAdjust="spacingAndGlyphs" fill="#1a1a1a">***</text>
<rect x="431.20" y="191.40" width="86.10" height="85.60" fill="none" stroke="#666" stroke-width="0.8"/>
<text x="429.80" y="193.80" font-size="6.1" font-weight="bold" text-anchor="end" fill="#222" stroke="#222" stroke-width="0.25">250</text>
<line x1="430.00" y1="191.60" x2="431.20" y2="191.60" stroke="#555" stroke-width="0.6"/>
<text x="429.80" y="211.00" font-size="6.1" font-weight="bold" text-anchor="end" fill="#222" stroke="#222" stroke-width="0.25">200</text>
<line x1="430.00" y1="208.80" x2="431.20" y2="208.80" stroke="#555" stroke-width="0.6"/>
<text x="429.80" y="228.30" font-size="6.1" font-weight="bold" text-anchor="end" fill="#222" stroke="#222" stroke-width="0.25">150</text>
<line x1="430.00" y1="226.10" x2="431.20" y2="226.10" stroke="#555" stroke-width="0.6"/>
<text x="429.80" y="245.10" font-size="6.1" font-weight="bold" text-anchor="end" fill="#222" stroke="#222" stroke-width="0.25">100</text>
<line x1="430.00" y1="242.90" x2="431.20" y2="242.90" stroke="#555" stroke-width="0.6"/>
<text x="429.80" y="262.20" font-size="6.1" font-weight="bold" text-anchor="end" fill="#222" stroke="#222" stroke-width="0.25">50</text>
<line x1="430.00" y1="260.00" x2="431.20" y2="260.00" stroke="#555" stroke-width="0.6"/>
<text x="429.80" y="279.20" font-size="6.1" font-weight="bold" text-anchor="end" fill="#222" stroke="#222" stroke-width="0.25">0</text>
<line x1="430.00" y1="277.00" x2="431.20" y2="277.00" stroke="#555" stroke-width="0.6"/>
<line x1="441.60" y1="265.00" x2="441.60" y2="269.60" stroke="#444" stroke-width="0.8"/>
<line x1="439.80" y1="265.00" x2="443.40" y2="265.00" stroke="#444" stroke-width="0.8"/>
<rect x="437.00" y="269.60" width="9.20" height="7.40" fill="#7f7f7f" stroke="#5a5a5a" stroke-width="0.7"/>
<line x1="463.30" y1="235.30" x2="463.30" y2="241.10" stroke="#444" stroke-width="0.8"/>
<line x1="461.50" y1="235.30" x2="465.10" y2="235.30" stroke="#444" stroke-width="0.8"/>
<rect x="458.90" y="241.10" width="8.80" height="35.90" fill="#7f7f7f" stroke="#5a5a5a" stroke-width="0.7"/>
<line x1="485.00" y1="244.60" x2="485.00" y2="247.80" stroke="#444" stroke-width="0.8"/>
<line x1="483.20" y1="244.60" x2="486.80" y2="244.60" stroke="#444" stroke-width="0.8"/>
<rect x="480.40" y="247.80" width="9.20" height="29.20" fill="#7f7f7f" stroke="#5a5a5a" stroke-width="0.7"/>
<line x1="506.80" y1="210.40" x2="506.80" y2="213.20" stroke="#444" stroke-width="0.8"/>
<line x1="505.00" y1="210.40" x2="508.60" y2="210.40" stroke="#444" stroke-width="0.8"/>
<rect x="502.30" y="213.20" width="9.00" height="63.80" fill="#7f7f7f" stroke="#5a5a5a" stroke-width="0.7"/>
<text x="445.70" y="283.80" font-size="6.2" font-weight="bold" text-anchor="middle" fill="#1a1a1a" stroke="#1a1a1a" stroke-width="0.25">iDCp</text>
<text x="468.00" y="283.80" font-size="6.2" font-weight="bold" text-anchor="middle" fill="#1a1a1a" stroke="#1a1a1a" stroke-width="0.25">mDCp</text>
<text x="489.00" y="283.80" font-size="6.2" font-weight="bold" text-anchor="middle" fill="#1a1a1a" stroke="#1a1a1a" stroke-width="0.25">K82A</text>
<text x="510.60" y="283.80" font-size="6.2" font-weight="bold" text-anchor="middle" fill="#1a1a1a" stroke="#1a1a1a" stroke-width="0.25">MKK6</text>
<text x="500.50" y="213.20" font-size="10" font-weight="bold" textLength="12.20" lengthAdjust="spacingAndGlyphs" fill="#1a1a1a">***</text>
<text x="318.00" y="293.90" font-size="6.7" font-weight="bold" textLength="56.80" lengthAdjust="spacingAndGlyphs" fill="#1a1a1a" stroke="#1a1a1a" stroke-width="0.25">DC stimulator cells</text>
<text x="447.90" y="294.00" font-size="6.7" font-weight="bold" textLength="56.30" lengthAdjust="spacingAndGlyphs" fill="#1a1a1a" stroke="#1a1a1a" stroke-width="0.25">DC stimulator cells</text>
<text x="284.00" y="265.80" font-size="6.25" font-weight="bold" textLength="66.50" lengthAdjust="spacingAndGlyphs" fill="#1a1a1a" transform="rotate(-90 284.00 265.80)" stroke="#1a1a1a" stroke-width="0.25">Number of CD8 T cells</text>
<text x="409.90" y="278.60" font-size="6.2" font-weight="bold" textLength="87.80" lengthAdjust="spacingAndGlyphs" fill="#1a1a1a" transform="rotate(-90 409.90 278.60)" stroke="#1a1a1a" stroke-width="0.25">Number of MELAN-A specific</text>
<text x="416.70" y="250.30" font-size="6.2" font-weight="bold" textLength="33.60" lengthAdjust="spacingAndGlyphs" fill="#1a1a1a" transform="rotate(-90 416.70 250.30)" stroke="#1a1a1a" stroke-width="0.25">CD8 T cells</text>
</svg>
</body></html>
